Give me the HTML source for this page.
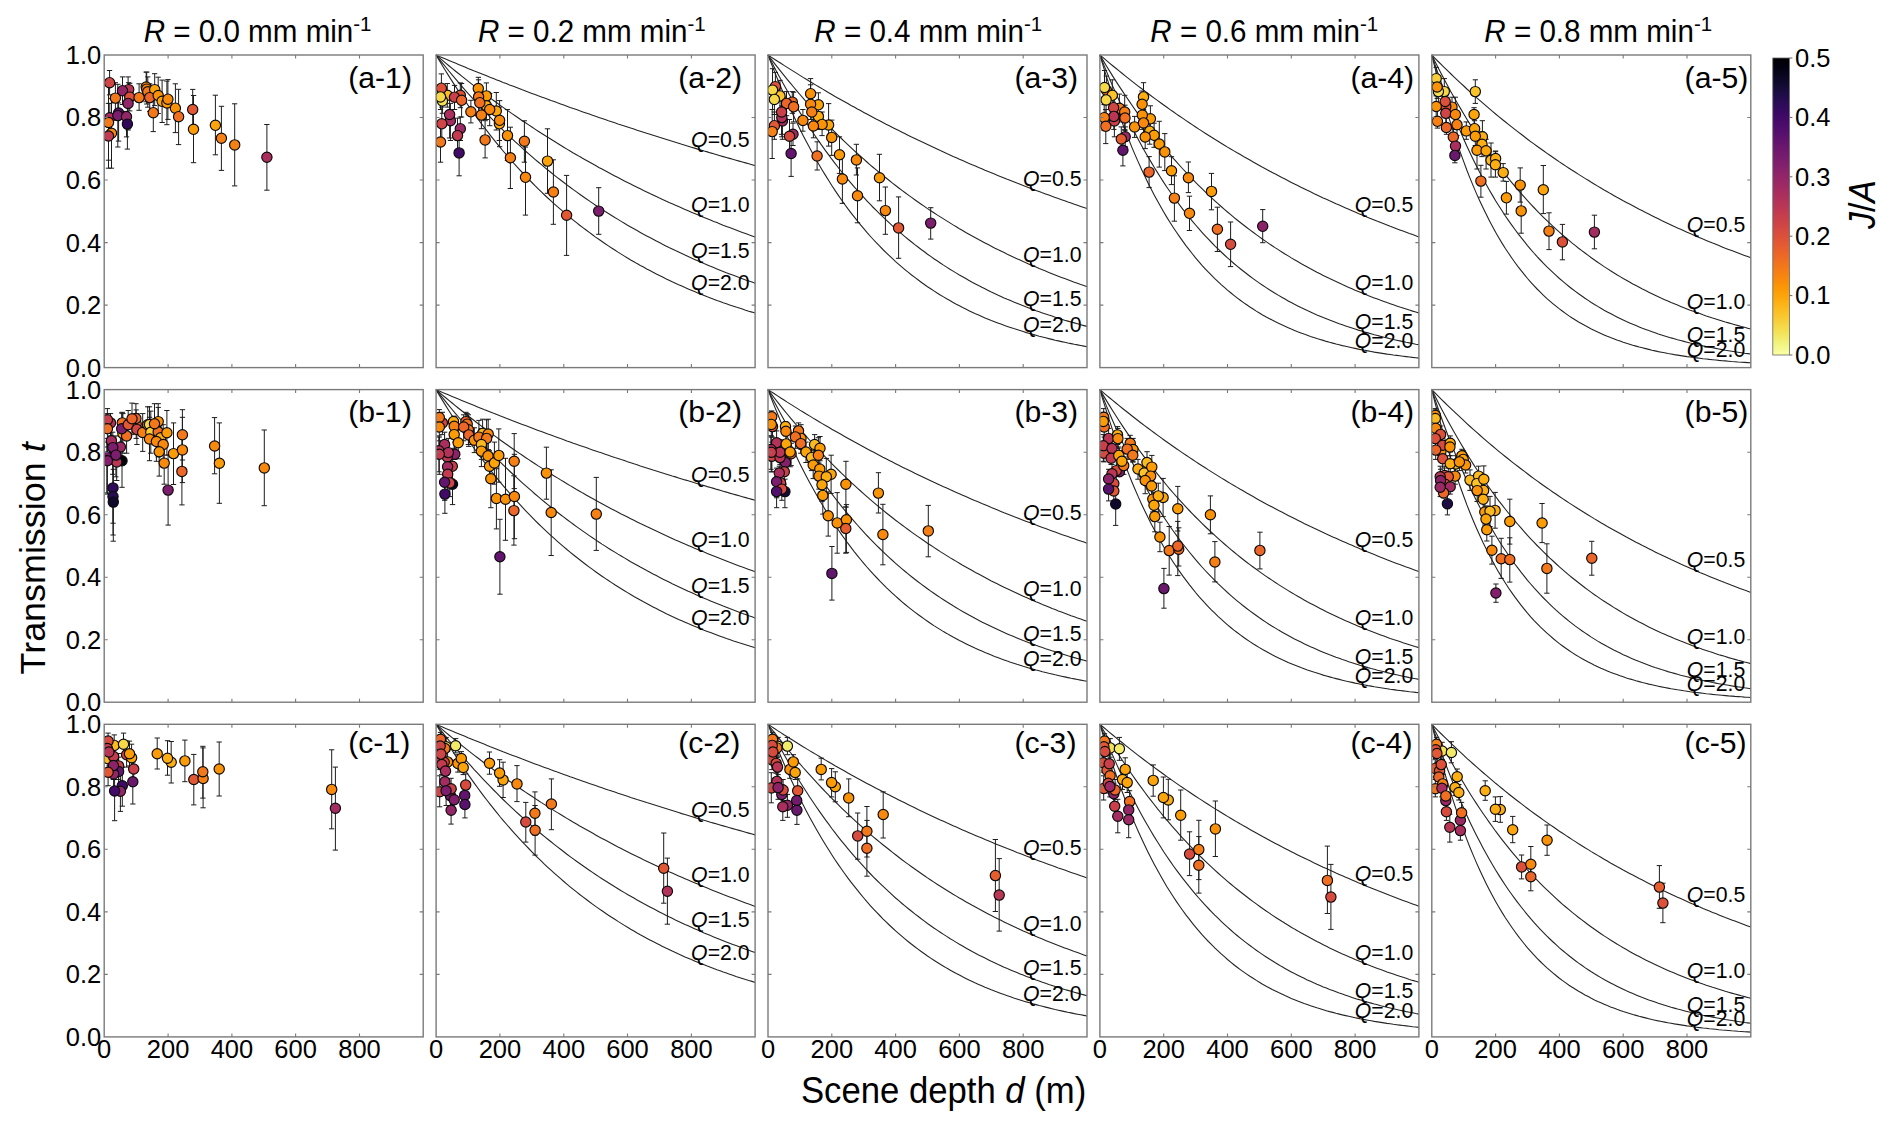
<!DOCTYPE html>
<html><head><meta charset="utf-8"><title>Transmission vs scene depth</title>
<style>html,body{margin:0;padding:0;background:#fff}svg{display:block}</style></head>
<body>
<svg width="1892" height="1130" viewBox="0 0 1892 1130" font-family='"Liberation Sans", Arial, Helvetica, sans-serif'>
<rect width="1892" height="1130" fill="#fff"/>
<g>
<clipPath id="cp00"><rect x="104.2" y="55.0" width="319.0" height="312.6"/></clipPath>
<g clip-path="url(#cp00)">
<path d="M111.5,98.7V168.2M108.8,98.7h5.3M108.8,168.2h5.3M109.8,103.4V132.1M107.1,103.4h5.3M107.1,132.1h5.3M109.6,70.5V94.9M106.9,70.5h5.3M106.9,94.9h5.3M108.5,84.9V160.2M105.8,84.9h5.3M105.8,160.2h5.3M108.5,103.4V168.2M105.8,103.4h5.3M105.8,168.2h5.3M115.4,82.7V113.5M112.7,82.7h5.3M112.7,113.5h5.3M128.7,82.7V96.5M126.0,82.7h5.3M126.0,96.5h5.3M122.5,76.9V104.5M119.9,76.9h5.3M119.9,104.5h5.3M129.7,83.3V110.9M127.1,83.3h5.3M127.1,110.9h5.3M128.1,76.9V130.0M125.5,76.9h5.3M125.5,130.0h5.3M118.6,102.9V141.1M115.9,102.9h5.3M115.9,141.1h5.3M117.8,84.3V147.0M115.2,84.3h5.3M115.2,147.0h5.3M126.5,111.4V136.9M123.9,111.4h5.3M123.9,136.9h5.3M127.4,99.2V149.1M124.7,99.2h5.3M124.7,149.1h5.3M139.1,83.8V110.3M136.4,83.8h5.3M136.4,110.3h5.3M146.2,72.1V101.8M143.5,72.1h5.3M143.5,101.8h5.3M146.7,72.1V104.0M144.1,72.1h5.3M144.1,104.0h5.3M147.8,76.9V107.2M145.1,76.9h5.3M145.1,107.2h5.3M154.7,73.7V105.6M152.0,73.7h5.3M152.0,105.6h5.3M149.7,83.8V111.4M147.0,83.8h5.3M147.0,111.4h5.3M158.2,77.2V113.5M155.5,77.2h5.3M155.5,113.5h5.3M153.3,93.9V131.6M150.6,93.9h5.3M150.6,131.6h5.3M162.1,80.1V122.5M159.5,80.1h5.3M159.5,122.5h5.3M166.9,81.1V124.7M164.2,81.1h5.3M164.2,124.7h5.3M167.9,79.6V119.4M165.3,79.6h5.3M165.3,119.4h5.3M175.4,83.8V132.6M172.7,83.8h5.3M172.7,132.6h5.3M178.6,89.3V144.6M175.9,89.3h5.3M175.9,144.6h5.3M192.7,89.4V129.8M190.1,89.4h5.3M190.1,129.8h5.3M193.5,95.5V162.7M190.9,95.5h5.3M190.9,162.7h5.3M215.4,95.2V154.8M212.7,95.2h5.3M212.7,154.8h5.3M221.4,106.3V170.4M218.8,106.3h5.3M218.8,170.4h5.3M234.7,103.8V185.9M232.0,103.8h5.3M232.0,185.9h5.3M266.9,124.5V190.2M264.2,124.5h5.3M264.2,190.2h5.3" fill="none" stroke="#1c1c1c" stroke-width="1.0"/>
<circle cx="111.5" cy="133.2" r="5.15" fill="#f8890c" stroke="#0a0a0a" stroke-width="1.15"/>
<circle cx="109.8" cy="117.8" r="5.15" fill="#ab2f5e" stroke="#0a0a0a" stroke-width="1.15"/>
<circle cx="109.6" cy="82.7" r="5.15" fill="#d04545" stroke="#0a0a0a" stroke-width="1.15"/>
<circle cx="108.5" cy="122.5" r="5.15" fill="#f37819" stroke="#0a0a0a" stroke-width="1.15"/>
<circle cx="108.5" cy="136.0" r="5.15" fill="#c33b4f" stroke="#0a0a0a" stroke-width="1.15"/>
<circle cx="115.4" cy="98.1" r="5.15" fill="#f37819" stroke="#0a0a0a" stroke-width="1.15"/>
<circle cx="128.7" cy="89.6" r="5.15" fill="#ba3655" stroke="#0a0a0a" stroke-width="1.15"/>
<circle cx="122.5" cy="90.7" r="5.15" fill="#932667" stroke="#0a0a0a" stroke-width="1.15"/>
<circle cx="129.7" cy="97.1" r="5.15" fill="#dd513a" stroke="#0a0a0a" stroke-width="1.15"/>
<circle cx="128.1" cy="103.4" r="5.15" fill="#932667" stroke="#0a0a0a" stroke-width="1.15"/>
<circle cx="118.6" cy="113.0" r="5.15" fill="#5a116e" stroke="#0a0a0a" stroke-width="1.15"/>
<circle cx="117.8" cy="115.6" r="5.15" fill="#7c1d6d" stroke="#0a0a0a" stroke-width="1.15"/>
<circle cx="126.5" cy="116.7" r="5.15" fill="#932667" stroke="#0a0a0a" stroke-width="1.15"/>
<circle cx="127.4" cy="124.1" r="5.15" fill="#2f0a5b" stroke="#0a0a0a" stroke-width="1.15"/>
<circle cx="139.1" cy="97.6" r="5.15" fill="#f37819" stroke="#0a0a0a" stroke-width="1.15"/>
<circle cx="146.2" cy="87.0" r="5.15" fill="#f8890c" stroke="#0a0a0a" stroke-width="1.15"/>
<circle cx="146.7" cy="89.1" r="5.15" fill="#f68013" stroke="#0a0a0a" stroke-width="1.15"/>
<circle cx="147.8" cy="91.8" r="5.15" fill="#f37819" stroke="#0a0a0a" stroke-width="1.15"/>
<circle cx="154.7" cy="89.6" r="5.15" fill="#fca50a" stroke="#0a0a0a" stroke-width="1.15"/>
<circle cx="149.7" cy="97.6" r="5.15" fill="#eb6628" stroke="#0a0a0a" stroke-width="1.15"/>
<circle cx="158.2" cy="95.5" r="5.15" fill="#fa9207" stroke="#0a0a0a" stroke-width="1.15"/>
<circle cx="153.3" cy="112.7" r="5.15" fill="#f37819" stroke="#0a0a0a" stroke-width="1.15"/>
<circle cx="162.1" cy="101.3" r="5.15" fill="#fca50a" stroke="#0a0a0a" stroke-width="1.15"/>
<circle cx="166.9" cy="102.9" r="5.15" fill="#fb9b06" stroke="#0a0a0a" stroke-width="1.15"/>
<circle cx="167.9" cy="99.2" r="5.15" fill="#f8890c" stroke="#0a0a0a" stroke-width="1.15"/>
<circle cx="175.4" cy="108.2" r="5.15" fill="#fa9207" stroke="#0a0a0a" stroke-width="1.15"/>
<circle cx="178.6" cy="116.7" r="5.15" fill="#f06f20" stroke="#0a0a0a" stroke-width="1.15"/>
<circle cx="192.7" cy="109.5" r="5.15" fill="#e25734" stroke="#0a0a0a" stroke-width="1.15"/>
<circle cx="193.5" cy="129.3" r="5.15" fill="#fb9b06" stroke="#0a0a0a" stroke-width="1.15"/>
<circle cx="215.4" cy="125.3" r="5.15" fill="#fca50a" stroke="#0a0a0a" stroke-width="1.15"/>
<circle cx="221.4" cy="138.2" r="5.15" fill="#f68013" stroke="#0a0a0a" stroke-width="1.15"/>
<circle cx="234.7" cy="144.9" r="5.15" fill="#f68013" stroke="#0a0a0a" stroke-width="1.15"/>
<circle cx="266.9" cy="157.2" r="5.15" fill="#ab2f5e" stroke="#0a0a0a" stroke-width="1.15"/>
</g>
<rect x="104.2" y="55.0" width="319.0" height="312.6" fill="none" stroke="#7a7a7a" stroke-width="1.4"/>
<path d="M168.1,367.6v-3.5M168.1,55.0v3.5M231.9,367.6v-3.5M231.9,55.0v3.5M295.6,367.6v-3.5M295.6,55.0v3.5M359.5,367.6v-3.5M359.5,55.0v3.5M104.2,305.1h3.5M423.2,305.1h-3.5M104.2,242.6h3.5M423.2,242.6h-3.5M104.2,180.0h3.5M423.2,180.0h-3.5M104.2,117.5h3.5M423.2,117.5h-3.5" fill="none" stroke="#7a7a7a" stroke-width="1.1"/>
<text transform="translate(348.2,87.7)" font-size="30.2" text-anchor="start">(a-1)</text>
</g>
<g>
<clipPath id="cp01"><rect x="436.1" y="55.0" width="319.0" height="312.6"/></clipPath>
<path d="M436.1,55.0 L439.3,56.4 L442.5,57.7 L445.7,59.1 L448.9,60.4 L452.1,61.8 L455.3,63.1 L458.5,64.4 L461.7,65.7 L464.9,67.0 L468.0,68.4 L471.2,69.7 L474.4,71.0 L477.6,72.2 L480.8,73.5 L484.0,74.8 L487.2,76.1 L490.4,77.4 L493.6,78.6 L496.8,79.9 L499.9,81.1 L503.1,82.4 L506.3,83.6 L509.5,84.9 L512.7,86.1 L515.9,87.3 L519.1,88.5 L522.3,89.8 L525.5,91.0 L528.7,92.2 L531.9,93.4 L535.0,94.6 L538.2,95.8 L541.4,96.9 L544.6,98.1 L547.8,99.3 L551.0,100.5 L554.2,101.6 L557.4,102.8 L560.6,103.9 L563.8,105.1 L566.9,106.2 L570.1,107.4 L573.3,108.5 L576.5,109.6 L579.7,110.8 L582.9,111.9 L586.1,113.0 L589.3,114.1 L592.5,115.2 L595.6,116.3 L598.8,117.4 L602.0,118.5 L605.2,119.6 L608.4,120.7 L611.6,121.7 L614.8,122.8 L618.0,123.9 L621.2,124.9 L624.4,126.0 L627.5,127.0 L630.7,128.1 L633.9,129.1 L637.1,130.2 L640.3,131.2 L643.5,132.2 L646.7,133.3 L649.9,134.3 L653.1,135.3 L656.3,136.3 L659.4,137.3 L662.6,138.3 L665.8,139.3 L669.0,140.3 L672.2,141.3 L675.4,142.3 L678.6,143.3 L681.8,144.3 L685.0,145.2 L688.2,146.2 L691.4,147.2 L694.5,148.1 L697.7,149.1 L700.9,150.0 L704.1,151.0 L707.3,151.9 L710.5,152.9 L713.7,153.8 L716.9,154.7 L720.1,155.7 L723.2,156.6 L726.4,157.5 L729.6,158.4 L732.8,159.3 L736.0,160.2 L739.2,161.1 L742.4,162.0 L745.6,162.9 L748.8,163.8 L752.0,164.7 L755.1,165.6" fill="none" stroke="#242424" stroke-width="1.1"/>
<path d="M436.1,55.0 L439.3,57.7 L442.5,60.4 L445.7,63.1 L448.9,65.7 L452.1,68.4 L455.3,71.0 L458.5,73.5 L461.7,76.1 L464.9,78.6 L468.0,81.1 L471.2,83.6 L474.4,86.1 L477.6,88.5 L480.8,91.0 L484.0,93.4 L487.2,95.8 L490.4,98.1 L493.6,100.5 L496.8,102.8 L499.9,105.1 L503.1,107.4 L506.3,109.6 L509.5,111.9 L512.7,114.1 L515.9,116.3 L519.1,118.5 L522.3,120.7 L525.5,122.8 L528.7,124.9 L531.9,127.0 L535.0,129.1 L538.2,131.2 L541.4,133.3 L544.6,135.3 L547.8,137.3 L551.0,139.3 L554.2,141.3 L557.4,143.3 L560.6,145.2 L563.8,147.2 L566.9,149.1 L570.1,151.0 L573.3,152.9 L576.5,154.7 L579.7,156.6 L582.9,158.4 L586.1,160.2 L589.3,162.0 L592.5,163.8 L595.6,165.6 L598.8,167.4 L602.0,169.1 L605.2,170.8 L608.4,172.5 L611.6,174.2 L614.8,175.9 L618.0,177.6 L621.2,179.2 L624.4,180.9 L627.5,182.5 L630.7,184.1 L633.9,185.7 L637.1,187.3 L640.3,188.8 L643.5,190.4 L646.7,191.9 L649.9,193.5 L653.1,195.0 L656.3,196.5 L659.4,198.0 L662.6,199.4 L665.8,200.9 L669.0,202.4 L672.2,203.8 L675.4,205.2 L678.6,206.6 L681.8,208.0 L685.0,209.4 L688.2,210.8 L691.4,212.2 L694.5,213.5 L697.7,214.8 L700.9,216.2 L704.1,217.5 L707.3,218.8 L710.5,220.1 L713.7,221.4 L716.9,222.6 L720.1,223.9 L723.2,225.2 L726.4,226.4 L729.6,227.6 L732.8,228.8 L736.0,230.0 L739.2,231.2 L742.4,232.4 L745.6,233.6 L748.8,234.8 L752.0,235.9 L755.1,237.1" fill="none" stroke="#242424" stroke-width="1.1"/>
<path d="M436.1,55.0 L439.3,59.1 L442.5,63.1 L445.7,67.0 L448.9,71.0 L452.1,74.8 L455.3,78.6 L458.5,82.4 L461.7,86.1 L464.9,89.8 L468.0,93.4 L471.2,96.9 L474.4,100.5 L477.6,103.9 L480.8,107.4 L484.0,110.8 L487.2,114.1 L490.4,117.4 L493.6,120.7 L496.8,123.9 L499.9,127.0 L503.1,130.2 L506.3,133.3 L509.5,136.3 L512.7,139.3 L515.9,142.3 L519.1,145.2 L522.3,148.1 L525.5,151.0 L528.7,153.8 L531.9,156.6 L535.0,159.3 L538.2,162.0 L541.4,164.7 L544.6,167.4 L547.8,170.0 L551.0,172.5 L554.2,175.1 L557.4,177.6 L560.6,180.0 L563.8,182.5 L566.9,184.9 L570.1,187.3 L573.3,189.6 L576.5,191.9 L579.7,194.2 L582.9,196.5 L586.1,198.7 L589.3,200.9 L592.5,203.1 L595.6,205.2 L598.8,207.3 L602.0,209.4 L605.2,211.5 L608.4,213.5 L611.6,215.5 L614.8,217.5 L618.0,219.4 L621.2,221.4 L624.4,223.3 L627.5,225.2 L630.7,227.0 L633.9,228.8 L637.1,230.6 L640.3,232.4 L643.5,234.2 L646.7,235.9 L649.9,237.6 L653.1,239.3 L656.3,241.0 L659.4,242.6 L662.6,244.3 L665.8,245.9 L669.0,247.5 L672.2,249.0 L675.4,250.6 L678.6,252.1 L681.8,253.6 L685.0,255.1 L688.2,256.5 L691.4,258.0 L694.5,259.4 L697.7,260.8 L700.9,262.2 L704.1,263.6 L707.3,264.9 L710.5,266.3 L713.7,267.6 L716.9,268.9 L720.1,270.2 L723.2,271.4 L726.4,272.7 L729.6,273.9 L732.8,275.1 L736.0,276.3 L739.2,277.5 L742.4,278.7 L745.6,279.9 L748.8,281.0 L752.0,282.1 L755.1,283.2" fill="none" stroke="#242424" stroke-width="1.1"/>
<path d="M436.1,55.0 L439.3,60.4 L442.5,65.7 L445.7,71.0 L448.9,76.1 L452.1,81.1 L455.3,86.1 L458.5,91.0 L461.7,95.8 L464.9,100.5 L468.0,105.1 L471.2,109.6 L474.4,114.1 L477.6,118.5 L480.8,122.8 L484.0,127.0 L487.2,131.2 L490.4,135.3 L493.6,139.3 L496.8,143.3 L499.9,147.2 L503.1,151.0 L506.3,154.7 L509.5,158.4 L512.7,162.0 L515.9,165.6 L519.1,169.1 L522.3,172.5 L525.5,175.9 L528.7,179.2 L531.9,182.5 L535.0,185.7 L538.2,188.8 L541.4,191.9 L544.6,195.0 L547.8,198.0 L551.0,200.9 L554.2,203.8 L557.4,206.6 L560.6,209.4 L563.8,212.2 L566.9,214.8 L570.1,217.5 L573.3,220.1 L576.5,222.6 L579.7,225.2 L582.9,227.6 L586.1,230.0 L589.3,232.4 L592.5,234.8 L595.6,237.1 L598.8,239.3 L602.0,241.5 L605.2,243.7 L608.4,245.9 L611.6,248.0 L614.8,250.0 L618.0,252.1 L621.2,254.1 L624.4,256.1 L627.5,258.0 L630.7,259.9 L633.9,261.7 L637.1,263.6 L640.3,265.4 L643.5,267.1 L646.7,268.9 L649.9,270.6 L653.1,272.3 L656.3,273.9 L659.4,275.5 L662.6,277.1 L665.8,278.7 L669.0,280.2 L672.2,281.8 L675.4,283.2 L678.6,284.7 L681.8,286.1 L685.0,287.6 L688.2,288.9 L691.4,290.3 L694.5,291.6 L697.7,293.0 L700.9,294.2 L704.1,295.5 L707.3,296.8 L710.5,298.0 L713.7,299.2 L716.9,300.4 L720.1,301.5 L723.2,302.7 L726.4,303.8 L729.6,304.9 L732.8,306.0 L736.0,307.1 L739.2,308.1 L742.4,309.1 L745.6,310.2 L748.8,311.2 L752.0,312.1 L755.1,313.1" fill="none" stroke="#242424" stroke-width="1.1"/>
<g clip-path="url(#cp01)">
<path d="M447.3,83.5V107.1M444.7,83.5h5.3M444.7,107.1h5.3M442.4,88.5V113.3M439.7,88.5h5.3M439.7,113.3h5.3M441.4,73.9V102.7M438.7,73.9h5.3M438.7,102.7h5.3M440.5,84.8V109.5M437.9,84.8h5.3M437.9,109.5h5.3M460.3,82.9V107.7M457.7,82.9h5.3M457.7,107.7h5.3M454.5,85.4V109.5M451.9,85.4h5.3M451.9,109.5h5.3M461.6,83.5V117.0M458.9,83.5h5.3M458.9,117.0h5.3M450.4,103.4V140.5M447.8,103.4h5.3M447.8,140.5h5.3M449.6,97.2V138.0M446.9,97.2h5.3M446.9,138.0h5.3M441.8,107.1V140.5M439.1,107.1h5.3M439.1,140.5h5.3M460.3,117.0V140.5M457.7,117.0h5.3M457.7,140.5h5.3M457.5,118.2V152.9M454.8,118.2h5.3M454.8,152.9h5.3M440.5,121.9V162.2M437.9,121.9h5.3M437.9,162.2h5.3M459.1,130.0V175.8M456.5,130.0h5.3M456.5,175.8h5.3M470.9,100.3V122.9M468.2,100.3h5.3M468.2,122.9h5.3M486.4,82.9V108.9M483.7,82.9h5.3M483.7,108.9h5.3M478.3,77.3V99.6M475.7,77.3h5.3M475.7,99.6h5.3M478.6,79.8V113.9M475.9,79.8h5.3M475.9,113.9h5.3M486.4,92.2V119.5M483.7,92.2h5.3M483.7,119.5h5.3M479.8,88.5V117.0M477.1,88.5h5.3M477.1,117.0h5.3M496.3,92.5V130.0M493.6,92.5h5.3M493.6,130.0h5.3M489.7,93.4V125.7M487.1,93.4h5.3M487.1,125.7h5.3M481.4,101.5V128.7M478.8,101.5h5.3M478.8,128.7h5.3M499.4,107.1V140.5M496.7,107.1h5.3M496.7,140.5h5.3M499.6,100.6V146.7M497.0,100.6h5.3M497.0,146.7h5.3M485.1,120.7V157.9M482.5,120.7h5.3M482.5,157.9h5.3M507.5,109.6V160.6M504.8,109.6h5.3M504.8,160.6h5.3M510.4,127.2V188.5M507.7,127.2h5.3M507.7,188.5h5.3M524.4,120.8V162.2M521.7,120.8h5.3M521.7,162.2h5.3M525.5,147.1V215.1M522.8,147.1h5.3M522.8,215.1h5.3M547.5,128.8V193.3M544.8,128.8h5.3M544.8,193.3h5.3M553.4,159.8V224.3M550.7,159.8h5.3M550.7,224.3h5.3M566.6,175.4V255.4M563.9,175.4h5.3M563.9,255.4h5.3M598.7,187.7V234.3M596.1,187.7h5.3M596.1,234.3h5.3" fill="none" stroke="#1c1c1c" stroke-width="1.0"/>
<circle cx="447.3" cy="95.3" r="5.15" fill="#fbba1f" stroke="#0a0a0a" stroke-width="1.15"/>
<circle cx="442.4" cy="100.9" r="5.15" fill="#f4e156" stroke="#0a0a0a" stroke-width="1.15"/>
<circle cx="441.4" cy="88.2" r="5.15" fill="#dd513a" stroke="#0a0a0a" stroke-width="1.15"/>
<circle cx="440.5" cy="96.9" r="5.15" fill="#f6d746" stroke="#0a0a0a" stroke-width="1.15"/>
<circle cx="460.3" cy="95.3" r="5.15" fill="#dd513a" stroke="#0a0a0a" stroke-width="1.15"/>
<circle cx="454.5" cy="97.2" r="5.15" fill="#ca404a" stroke="#0a0a0a" stroke-width="1.15"/>
<circle cx="461.6" cy="100.3" r="5.15" fill="#eb6628" stroke="#0a0a0a" stroke-width="1.15"/>
<circle cx="450.4" cy="120.7" r="5.15" fill="#a32c61" stroke="#0a0a0a" stroke-width="1.15"/>
<circle cx="449.6" cy="114.5" r="5.15" fill="#ab2f5e" stroke="#0a0a0a" stroke-width="1.15"/>
<circle cx="441.8" cy="123.8" r="5.15" fill="#d04545" stroke="#0a0a0a" stroke-width="1.15"/>
<circle cx="460.3" cy="128.7" r="5.15" fill="#9b2964" stroke="#0a0a0a" stroke-width="1.15"/>
<circle cx="457.5" cy="135.6" r="5.15" fill="#c33b4f" stroke="#0a0a0a" stroke-width="1.15"/>
<circle cx="440.5" cy="142.0" r="5.15" fill="#f37819" stroke="#0a0a0a" stroke-width="1.15"/>
<circle cx="459.1" cy="152.9" r="5.15" fill="#420a68" stroke="#0a0a0a" stroke-width="1.15"/>
<circle cx="470.9" cy="111.8" r="5.15" fill="#f68013" stroke="#0a0a0a" stroke-width="1.15"/>
<circle cx="486.4" cy="95.9" r="5.15" fill="#fb9b06" stroke="#0a0a0a" stroke-width="1.15"/>
<circle cx="478.3" cy="88.5" r="5.15" fill="#fa9207" stroke="#0a0a0a" stroke-width="1.15"/>
<circle cx="478.6" cy="96.9" r="5.15" fill="#f37819" stroke="#0a0a0a" stroke-width="1.15"/>
<circle cx="486.4" cy="105.8" r="5.15" fill="#fcae12" stroke="#0a0a0a" stroke-width="1.15"/>
<circle cx="479.8" cy="102.7" r="5.15" fill="#f06f20" stroke="#0a0a0a" stroke-width="1.15"/>
<circle cx="496.3" cy="111.0" r="5.15" fill="#fca50a" stroke="#0a0a0a" stroke-width="1.15"/>
<circle cx="489.7" cy="109.5" r="5.15" fill="#f8890c" stroke="#0a0a0a" stroke-width="1.15"/>
<circle cx="481.4" cy="115.1" r="5.15" fill="#f68013" stroke="#0a0a0a" stroke-width="1.15"/>
<circle cx="499.4" cy="123.8" r="5.15" fill="#fca50a" stroke="#0a0a0a" stroke-width="1.15"/>
<circle cx="499.6" cy="120.3" r="5.15" fill="#f8890c" stroke="#0a0a0a" stroke-width="1.15"/>
<circle cx="485.1" cy="139.9" r="5.15" fill="#f37819" stroke="#0a0a0a" stroke-width="1.15"/>
<circle cx="507.5" cy="135.6" r="5.15" fill="#fa9207" stroke="#0a0a0a" stroke-width="1.15"/>
<circle cx="510.4" cy="157.7" r="5.15" fill="#f68013" stroke="#0a0a0a" stroke-width="1.15"/>
<circle cx="524.4" cy="141.2" r="5.15" fill="#f37819" stroke="#0a0a0a" stroke-width="1.15"/>
<circle cx="525.5" cy="177.3" r="5.15" fill="#f8890c" stroke="#0a0a0a" stroke-width="1.15"/>
<circle cx="547.5" cy="161.1" r="5.15" fill="#fca50a" stroke="#0a0a0a" stroke-width="1.15"/>
<circle cx="553.4" cy="192.0" r="5.15" fill="#f68013" stroke="#0a0a0a" stroke-width="1.15"/>
<circle cx="566.6" cy="215.2" r="5.15" fill="#e25734" stroke="#0a0a0a" stroke-width="1.15"/>
<circle cx="598.7" cy="211.1" r="5.15" fill="#7c1d6d" stroke="#0a0a0a" stroke-width="1.15"/>
</g>
<rect x="436.1" y="55.0" width="319.0" height="312.6" fill="none" stroke="#7a7a7a" stroke-width="1.4"/>
<path d="M499.9,367.6v-3.5M499.9,55.0v3.5M563.8,367.6v-3.5M563.8,55.0v3.5M627.5,367.6v-3.5M627.5,55.0v3.5M691.4,367.6v-3.5M691.4,55.0v3.5M436.1,305.1h3.5M755.1,305.1h-3.5M436.1,242.6h3.5M755.1,242.6h-3.5M436.1,180.0h3.5M755.1,180.0h-3.5M436.1,117.5h3.5M755.1,117.5h-3.5" fill="none" stroke="#7a7a7a" stroke-width="1.1"/>
<text transform="translate(678.3,87.7)" font-size="30.2" text-anchor="start">(a-2)</text>
<text transform="translate(691.1,147.2) scale(1,1.07)" font-size="21.25" text-anchor="start"><tspan font-style="italic">Q</tspan>=0.5</text>
<text transform="translate(691.1,212.2) scale(1,1.07)" font-size="21.25" text-anchor="start"><tspan font-style="italic">Q</tspan>=1.0</text>
<text transform="translate(691.1,258.0) scale(1,1.07)" font-size="21.25" text-anchor="start"><tspan font-style="italic">Q</tspan>=1.5</text>
<text transform="translate(691.1,290.3) scale(1,1.07)" font-size="21.25" text-anchor="start"><tspan font-style="italic">Q</tspan>=2.0</text>
</g>
<g>
<clipPath id="cp02"><rect x="768.0" y="55.0" width="319.0" height="312.6"/></clipPath>
<path d="M768.0,55.0 L771.2,57.1 L774.4,59.2 L777.6,61.3 L780.8,63.3 L784.0,65.4 L787.2,67.4 L790.4,69.4 L793.6,71.4 L796.8,73.4 L799.9,75.4 L803.1,77.4 L806.3,79.3 L809.5,81.3 L812.7,83.2 L815.9,85.1 L819.1,87.0 L822.3,88.9 L825.5,90.8 L828.7,92.7 L831.8,94.5 L835.0,96.4 L838.2,98.2 L841.4,100.0 L844.6,101.8 L847.8,103.6 L851.0,105.4 L854.2,107.1 L857.4,108.9 L860.6,110.6 L863.8,112.4 L866.9,114.1 L870.1,115.8 L873.3,117.5 L876.5,119.2 L879.7,120.8 L882.9,122.5 L886.1,124.2 L889.3,125.8 L892.5,127.4 L895.6,129.0 L898.8,130.6 L902.0,132.2 L905.2,133.8 L908.4,135.4 L911.6,137.0 L914.8,138.5 L918.0,140.1 L921.2,141.6 L924.4,143.1 L927.5,144.6 L930.7,146.1 L933.9,147.6 L937.1,149.1 L940.3,150.6 L943.5,152.0 L946.7,153.5 L949.9,154.9 L953.1,156.4 L956.3,157.8 L959.4,159.2 L962.6,160.6 L965.8,162.0 L969.0,163.4 L972.2,164.8 L975.4,166.1 L978.6,167.5 L981.8,168.8 L985.0,170.2 L988.2,171.5 L991.3,172.8 L994.5,174.1 L997.7,175.4 L1000.9,176.7 L1004.1,178.0 L1007.3,179.3 L1010.5,180.5 L1013.7,181.8 L1016.9,183.1 L1020.1,184.3 L1023.2,185.5 L1026.4,186.8 L1029.6,188.0 L1032.8,189.2 L1036.0,190.4 L1039.2,191.6 L1042.4,192.8 L1045.6,193.9 L1048.8,195.1 L1052.0,196.3 L1055.2,197.4 L1058.3,198.6 L1061.5,199.7 L1064.7,200.8 L1067.9,202.0 L1071.1,203.1 L1074.3,204.2 L1077.5,205.3 L1080.7,206.4 L1083.9,207.5 L1087.0,208.6" fill="none" stroke="#242424" stroke-width="1.1"/>
<path d="M768.0,55.0 L771.2,59.2 L774.4,63.3 L777.6,67.4 L780.8,71.4 L784.0,75.4 L787.2,79.3 L790.4,83.2 L793.6,87.0 L796.8,90.8 L799.9,94.5 L803.1,98.2 L806.3,101.8 L809.5,105.4 L812.7,108.9 L815.9,112.4 L819.1,115.8 L822.3,119.2 L825.5,122.5 L828.7,125.8 L831.8,129.0 L835.0,132.2 L838.2,135.4 L841.4,138.5 L844.6,141.6 L847.8,144.6 L851.0,147.6 L854.2,150.6 L857.4,153.5 L860.6,156.4 L863.8,159.2 L866.9,162.0 L870.1,164.8 L873.3,167.5 L876.5,170.2 L879.7,172.8 L882.9,175.4 L886.1,178.0 L889.3,180.5 L892.5,183.1 L895.6,185.5 L898.8,188.0 L902.0,190.4 L905.2,192.8 L908.4,195.1 L911.6,197.4 L914.8,199.7 L918.0,202.0 L921.2,204.2 L924.4,206.4 L927.5,208.6 L930.7,210.7 L933.9,212.8 L937.1,214.9 L940.3,216.9 L943.5,218.9 L946.7,220.9 L949.9,222.9 L953.1,224.9 L956.3,226.8 L959.4,228.7 L962.6,230.5 L965.8,232.4 L969.0,234.2 L972.2,236.0 L975.4,237.7 L978.6,239.5 L981.8,241.2 L985.0,242.9 L988.2,244.6 L991.3,246.2 L994.5,247.9 L997.7,249.5 L1000.9,251.0 L1004.1,252.6 L1007.3,254.2 L1010.5,255.7 L1013.7,257.2 L1016.9,258.7 L1020.1,260.1 L1023.2,261.6 L1026.4,263.0 L1029.6,264.4 L1032.8,265.8 L1036.0,267.1 L1039.2,268.5 L1042.4,269.8 L1045.6,271.1 L1048.8,272.4 L1052.0,273.7 L1055.2,275.0 L1058.3,276.2 L1061.5,277.4 L1064.7,278.6 L1067.9,279.8 L1071.1,281.0 L1074.3,282.2 L1077.5,283.3 L1080.7,284.5 L1083.9,285.6 L1087.0,286.7" fill="none" stroke="#242424" stroke-width="1.1"/>
<path d="M768.0,55.0 L771.2,61.3 L774.4,67.4 L777.6,73.4 L780.8,79.3 L784.0,85.1 L787.2,90.8 L790.4,96.4 L793.6,101.8 L796.8,107.1 L799.9,112.4 L803.1,117.5 L806.3,122.5 L809.5,127.4 L812.7,132.2 L815.9,137.0 L819.1,141.6 L822.3,146.1 L825.5,150.6 L828.7,154.9 L831.8,159.2 L835.0,163.4 L838.2,167.5 L841.4,171.5 L844.6,175.4 L847.8,179.3 L851.0,183.1 L854.2,186.8 L857.4,190.4 L860.6,193.9 L863.8,197.4 L866.9,200.8 L870.1,204.2 L873.3,207.5 L876.5,210.7 L879.7,213.8 L882.9,216.9 L886.1,219.9 L889.3,222.9 L892.5,225.8 L895.6,228.7 L898.8,231.4 L902.0,234.2 L905.2,236.9 L908.4,239.5 L911.6,242.0 L914.8,244.6 L918.0,247.0 L921.2,249.5 L924.4,251.8 L927.5,254.2 L930.7,256.4 L933.9,258.7 L937.1,260.8 L940.3,263.0 L943.5,265.1 L946.7,267.1 L949.9,269.2 L953.1,271.1 L956.3,273.1 L959.4,275.0 L962.6,276.8 L965.8,278.6 L969.0,280.4 L972.2,282.2 L975.4,283.9 L978.6,285.6 L981.8,287.2 L985.0,288.8 L988.2,290.4 L991.3,292.0 L994.5,293.5 L997.7,295.0 L1000.9,296.4 L1004.1,297.9 L1007.3,299.3 L1010.5,300.6 L1013.7,302.0 L1016.9,303.3 L1020.1,304.6 L1023.2,305.8 L1026.4,307.1 L1029.6,308.3 L1032.8,309.5 L1036.0,310.7 L1039.2,311.8 L1042.4,312.9 L1045.6,314.0 L1048.8,315.1 L1052.0,316.1 L1055.2,317.2 L1058.3,318.2 L1061.5,319.2 L1064.7,320.2 L1067.9,321.1 L1071.1,322.0 L1074.3,322.9 L1077.5,323.8 L1080.7,324.7 L1083.9,325.6 L1087.0,326.4" fill="none" stroke="#242424" stroke-width="1.1"/>
<path d="M768.0,55.0 L771.2,63.3 L774.4,71.4 L777.6,79.3 L780.8,87.0 L784.0,94.5 L787.2,101.8 L790.4,108.9 L793.6,115.8 L796.8,122.5 L799.9,129.0 L803.1,135.4 L806.3,141.6 L809.5,147.6 L812.7,153.5 L815.9,159.2 L819.1,164.8 L822.3,170.2 L825.5,175.4 L828.7,180.5 L831.8,185.5 L835.0,190.4 L838.2,195.1 L841.4,199.7 L844.6,204.2 L847.8,208.6 L851.0,212.8 L854.2,216.9 L857.4,220.9 L860.6,224.9 L863.8,228.7 L866.9,232.4 L870.1,236.0 L873.3,239.5 L876.5,242.9 L879.7,246.2 L882.9,249.5 L886.1,252.6 L889.3,255.7 L892.5,258.7 L895.6,261.6 L898.8,264.4 L902.0,267.1 L905.2,269.8 L908.4,272.4 L911.6,275.0 L914.8,277.4 L918.0,279.8 L921.2,282.2 L924.4,284.5 L927.5,286.7 L930.7,288.8 L933.9,290.9 L937.1,293.0 L940.3,295.0 L943.5,296.9 L946.7,298.8 L949.9,300.6 L953.1,302.4 L956.3,304.2 L959.4,305.8 L962.6,307.5 L965.8,309.1 L969.0,310.7 L972.2,312.2 L975.4,313.7 L978.6,315.1 L981.8,316.5 L985.0,317.9 L988.2,319.2 L991.3,320.5 L994.5,321.7 L997.7,322.9 L1000.9,324.1 L1004.1,325.3 L1007.3,326.4 L1010.5,327.5 L1013.7,328.6 L1016.9,329.6 L1020.1,330.6 L1023.2,331.6 L1026.4,332.6 L1029.6,333.5 L1032.8,334.4 L1036.0,335.3 L1039.2,336.2 L1042.4,337.0 L1045.6,337.8 L1048.8,338.6 L1052.0,339.4 L1055.2,340.2 L1058.3,340.9 L1061.5,341.6 L1064.7,342.3 L1067.9,343.0 L1071.1,343.6 L1074.3,344.3 L1077.5,344.9 L1080.7,345.5 L1083.9,346.1 L1087.0,346.7" fill="none" stroke="#242424" stroke-width="1.1"/>
<g clip-path="url(#cp02)">
<path d="M775.4,72.4V100.9M772.7,72.4h5.3M772.7,100.9h5.3M780.0,80.4V109.5M777.3,80.4h5.3M777.3,109.5h5.3M772.5,68.7V109.5M769.9,68.7h5.3M769.9,109.5h5.3M774.4,84.8V114.5M771.7,84.8h5.3M771.7,114.5h5.3M792.3,91.6V113.3M789.7,91.6h5.3M789.7,113.3h5.3M786.5,91.6V115.7M783.9,91.6h5.3M783.9,115.7h5.3M793.6,92.2V121.9M790.9,92.2h5.3M790.9,121.9h5.3M782.4,107.1V139.3M779.8,107.1h5.3M779.8,139.3h5.3M781.8,105.8V136.8M779.2,105.8h5.3M779.2,136.8h5.3M781.6,100.9V134.3M778.9,100.9h5.3M778.9,134.3h5.3M774.4,112.0V139.3M771.7,112.0h5.3M771.7,139.3h5.3M772.2,109.5V158.5M769.5,109.5h5.3M769.5,158.5h5.3M793.0,123.2V145.5M790.3,123.2h5.3M790.3,145.5h5.3M789.5,119.5V152.9M786.8,119.5h5.3M786.8,152.9h5.3M791.1,134.3V176.4M788.5,134.3h5.3M788.5,176.4h5.3M802.9,109.5V131.2M800.2,109.5h5.3M800.2,131.2h5.3M818.4,92.8V117.0M815.7,92.8h5.3M815.7,117.0h5.3M810.6,78.6V108.3M807.9,78.6h5.3M807.9,108.3h5.3M810.6,84.8V119.5M807.9,84.8h5.3M807.9,119.5h5.3M818.4,103.4V129.4M815.7,103.4h5.3M815.7,129.4h5.3M811.8,97.2V126.9M809.1,97.2h5.3M809.1,126.9h5.3M828.6,103.6V146.1M826.0,103.6h5.3M826.0,146.1h5.3M822.1,112.0V135.6M819.4,112.0h5.3M819.4,135.6h5.3M813.4,114.5V137.8M810.8,114.5h5.3M810.8,137.8h5.3M831.7,120.1V155.4M829.1,120.1h5.3M829.1,155.4h5.3M817.1,141.8V170.0M814.5,141.8h5.3M814.5,170.0h5.3M839.5,136.8V173.4M836.8,136.8h5.3M836.8,173.4h5.3M842.4,155.9V203.4M839.7,155.9h5.3M839.7,203.4h5.3M856.4,144.3V175.0M853.7,144.3h5.3M853.7,175.0h5.3M857.5,167.9V222.8M854.8,167.9h5.3M854.8,222.8h5.3M879.5,154.3V200.8M876.8,154.3h5.3M876.8,200.8h5.3M885.4,187.0V234.3M882.7,187.0h5.3M882.7,234.3h5.3M898.6,196.9V258.3M895.9,196.9h5.3M895.9,258.3h5.3M930.7,207.7V239.1M928.1,207.7h5.3M928.1,239.1h5.3" fill="none" stroke="#1c1c1c" stroke-width="1.0"/>
<circle cx="775.4" cy="86.6" r="5.15" fill="#dd513a" stroke="#0a0a0a" stroke-width="1.15"/>
<circle cx="780.0" cy="95.9" r="5.15" fill="#fac42a" stroke="#0a0a0a" stroke-width="1.15"/>
<circle cx="772.5" cy="90.1" r="5.15" fill="#f6d746" stroke="#0a0a0a" stroke-width="1.15"/>
<circle cx="774.4" cy="99.4" r="5.15" fill="#f6d746" stroke="#0a0a0a" stroke-width="1.15"/>
<circle cx="792.3" cy="102.1" r="5.15" fill="#eb6628" stroke="#0a0a0a" stroke-width="1.15"/>
<circle cx="786.5" cy="103.4" r="5.15" fill="#eb6628" stroke="#0a0a0a" stroke-width="1.15"/>
<circle cx="793.6" cy="106.8" r="5.15" fill="#f06f20" stroke="#0a0a0a" stroke-width="1.15"/>
<circle cx="782.4" cy="120.9" r="5.15" fill="#a32c61" stroke="#0a0a0a" stroke-width="1.15"/>
<circle cx="781.8" cy="117.6" r="5.15" fill="#b3325a" stroke="#0a0a0a" stroke-width="1.15"/>
<circle cx="781.6" cy="112.0" r="5.15" fill="#ca404a" stroke="#0a0a0a" stroke-width="1.15"/>
<circle cx="774.4" cy="125.7" r="5.15" fill="#e25734" stroke="#0a0a0a" stroke-width="1.15"/>
<circle cx="772.2" cy="131.6" r="5.15" fill="#f68013" stroke="#0a0a0a" stroke-width="1.15"/>
<circle cx="793.0" cy="134.3" r="5.15" fill="#9b2964" stroke="#0a0a0a" stroke-width="1.15"/>
<circle cx="789.5" cy="136.2" r="5.15" fill="#d74b3f" stroke="#0a0a0a" stroke-width="1.15"/>
<circle cx="791.1" cy="153.5" r="5.15" fill="#62146e" stroke="#0a0a0a" stroke-width="1.15"/>
<circle cx="802.9" cy="120.4" r="5.15" fill="#f8890c" stroke="#0a0a0a" stroke-width="1.15"/>
<circle cx="818.4" cy="104.8" r="5.15" fill="#fca50a" stroke="#0a0a0a" stroke-width="1.15"/>
<circle cx="810.6" cy="93.7" r="5.15" fill="#fa9207" stroke="#0a0a0a" stroke-width="1.15"/>
<circle cx="810.6" cy="104.3" r="5.15" fill="#f8890c" stroke="#0a0a0a" stroke-width="1.15"/>
<circle cx="818.4" cy="116.4" r="5.15" fill="#fcae12" stroke="#0a0a0a" stroke-width="1.15"/>
<circle cx="811.8" cy="112.0" r="5.15" fill="#f68013" stroke="#0a0a0a" stroke-width="1.15"/>
<circle cx="828.6" cy="125.0" r="5.15" fill="#fca50a" stroke="#0a0a0a" stroke-width="1.15"/>
<circle cx="822.1" cy="124.4" r="5.15" fill="#fa9207" stroke="#0a0a0a" stroke-width="1.15"/>
<circle cx="813.4" cy="126.0" r="5.15" fill="#f8890c" stroke="#0a0a0a" stroke-width="1.15"/>
<circle cx="831.7" cy="137.4" r="5.15" fill="#fa9207" stroke="#0a0a0a" stroke-width="1.15"/>
<circle cx="817.1" cy="156.0" r="5.15" fill="#f06f20" stroke="#0a0a0a" stroke-width="1.15"/>
<circle cx="839.5" cy="154.7" r="5.15" fill="#fb9b06" stroke="#0a0a0a" stroke-width="1.15"/>
<circle cx="842.4" cy="179.0" r="5.15" fill="#f8890c" stroke="#0a0a0a" stroke-width="1.15"/>
<circle cx="856.4" cy="159.9" r="5.15" fill="#f8890c" stroke="#0a0a0a" stroke-width="1.15"/>
<circle cx="857.5" cy="195.7" r="5.15" fill="#f8890c" stroke="#0a0a0a" stroke-width="1.15"/>
<circle cx="879.5" cy="177.7" r="5.15" fill="#fb9b06" stroke="#0a0a0a" stroke-width="1.15"/>
<circle cx="885.4" cy="210.6" r="5.15" fill="#f8890c" stroke="#0a0a0a" stroke-width="1.15"/>
<circle cx="898.6" cy="227.9" r="5.15" fill="#e25734" stroke="#0a0a0a" stroke-width="1.15"/>
<circle cx="930.7" cy="223.1" r="5.15" fill="#7c1d6d" stroke="#0a0a0a" stroke-width="1.15"/>
</g>
<rect x="768.0" y="55.0" width="319.0" height="312.6" fill="none" stroke="#7a7a7a" stroke-width="1.4"/>
<path d="M831.8,367.6v-3.5M831.8,55.0v3.5M895.6,367.6v-3.5M895.6,55.0v3.5M959.4,367.6v-3.5M959.4,55.0v3.5M1023.2,367.6v-3.5M1023.2,55.0v3.5M768.0,305.1h3.5M1087.0,305.1h-3.5M768.0,242.6h3.5M1087.0,242.6h-3.5M768.0,180.0h3.5M1087.0,180.0h-3.5M768.0,117.5h3.5M1087.0,117.5h-3.5" fill="none" stroke="#7a7a7a" stroke-width="1.1"/>
<text transform="translate(1014.4,87.7)" font-size="30.2" text-anchor="start">(a-3)</text>
<text transform="translate(1023.0,185.5) scale(1,1.07)" font-size="21.25" text-anchor="start"><tspan font-style="italic">Q</tspan>=0.5</text>
<text transform="translate(1023.0,261.6) scale(1,1.07)" font-size="21.25" text-anchor="start"><tspan font-style="italic">Q</tspan>=1.0</text>
<text transform="translate(1023.0,305.8) scale(1,1.07)" font-size="21.25" text-anchor="start"><tspan font-style="italic">Q</tspan>=1.5</text>
<text transform="translate(1023.0,331.6) scale(1,1.07)" font-size="21.25" text-anchor="start"><tspan font-style="italic">Q</tspan>=2.0</text>
</g>
<g>
<clipPath id="cp03"><rect x="1099.9" y="55.0" width="319.0" height="312.6"/></clipPath>
<path d="M1099.9,55.0 L1103.1,57.7 L1106.3,60.4 L1109.5,63.1 L1112.7,65.7 L1115.9,68.3 L1119.1,70.9 L1122.3,73.5 L1125.5,76.1 L1128.7,78.6 L1131.8,81.1 L1135.0,83.6 L1138.2,86.1 L1141.4,88.5 L1144.6,90.9 L1147.8,93.3 L1151.0,95.7 L1154.2,98.1 L1157.4,100.4 L1160.6,102.7 L1163.7,105.0 L1166.9,107.3 L1170.1,109.6 L1173.3,111.8 L1176.5,114.1 L1179.7,116.3 L1182.9,118.4 L1186.1,120.6 L1189.3,122.7 L1192.5,124.9 L1195.6,127.0 L1198.8,129.1 L1202.0,131.1 L1205.2,133.2 L1208.4,135.2 L1211.6,137.3 L1214.8,139.3 L1218.0,141.2 L1221.2,143.2 L1224.4,145.2 L1227.5,147.1 L1230.7,149.0 L1233.9,150.9 L1237.1,152.8 L1240.3,154.6 L1243.5,156.5 L1246.7,158.3 L1249.9,160.1 L1253.1,161.9 L1256.3,163.7 L1259.4,165.5 L1262.6,167.3 L1265.8,169.0 L1269.0,170.7 L1272.2,172.4 L1275.4,174.1 L1278.6,175.8 L1281.8,177.5 L1285.0,179.1 L1288.2,180.8 L1291.3,182.4 L1294.5,184.0 L1297.7,185.6 L1300.9,187.2 L1304.1,188.7 L1307.3,190.3 L1310.5,191.8 L1313.7,193.4 L1316.9,194.9 L1320.1,196.4 L1323.2,197.9 L1326.4,199.3 L1329.6,200.8 L1332.8,202.2 L1336.0,203.7 L1339.2,205.1 L1342.4,206.5 L1345.6,207.9 L1348.8,209.3 L1352.0,210.7 L1355.1,212.0 L1358.3,213.4 L1361.5,214.7 L1364.7,216.1 L1367.9,217.4 L1371.1,218.7 L1374.3,220.0 L1377.5,221.3 L1380.7,222.5 L1383.9,223.8 L1387.0,225.0 L1390.2,226.3 L1393.4,227.5 L1396.6,228.7 L1399.8,229.9 L1403.0,231.1 L1406.2,232.3 L1409.4,233.5 L1412.6,234.6 L1415.8,235.8 L1418.9,236.9" fill="none" stroke="#242424" stroke-width="1.1"/>
<path d="M1099.9,55.0 L1103.1,60.4 L1106.3,65.7 L1109.5,70.9 L1112.7,76.1 L1115.9,81.1 L1119.1,86.1 L1122.3,90.9 L1125.5,95.7 L1128.7,100.4 L1131.8,105.0 L1135.0,109.6 L1138.2,114.1 L1141.4,118.4 L1144.6,122.7 L1147.8,127.0 L1151.0,131.1 L1154.2,135.2 L1157.4,139.3 L1160.6,143.2 L1163.7,147.1 L1166.9,150.9 L1170.1,154.6 L1173.3,158.3 L1176.5,161.9 L1179.7,165.5 L1182.9,169.0 L1186.1,172.4 L1189.3,175.8 L1192.5,179.1 L1195.6,182.4 L1198.8,185.6 L1202.0,188.7 L1205.2,191.8 L1208.4,194.9 L1211.6,197.9 L1214.8,200.8 L1218.0,203.7 L1221.2,206.5 L1224.4,209.3 L1227.5,212.0 L1230.7,214.7 L1233.9,217.4 L1237.1,220.0 L1240.3,222.5 L1243.5,225.0 L1246.7,227.5 L1249.9,229.9 L1253.1,232.3 L1256.3,234.6 L1259.4,236.9 L1262.6,239.2 L1265.8,241.4 L1269.0,243.6 L1272.2,245.8 L1275.4,247.9 L1278.6,249.9 L1281.8,252.0 L1285.0,254.0 L1288.2,255.9 L1291.3,257.9 L1294.5,259.8 L1297.7,261.6 L1300.9,263.5 L1304.1,265.3 L1307.3,267.0 L1310.5,268.8 L1313.7,270.5 L1316.9,272.2 L1320.1,273.8 L1323.2,275.4 L1326.4,277.0 L1329.6,278.6 L1332.8,280.1 L1336.0,281.6 L1339.2,283.1 L1342.4,284.6 L1345.6,286.0 L1348.8,287.4 L1352.0,288.8 L1355.1,290.2 L1358.3,291.5 L1361.5,292.8 L1364.7,294.1 L1367.9,295.4 L1371.1,296.7 L1374.3,297.9 L1377.5,299.1 L1380.7,300.3 L1383.9,301.4 L1387.0,302.6 L1390.2,303.7 L1393.4,304.8 L1396.6,305.9 L1399.8,307.0 L1403.0,308.0 L1406.2,309.0 L1409.4,310.1 L1412.6,311.1 L1415.8,312.0 L1418.9,313.0" fill="none" stroke="#242424" stroke-width="1.1"/>
<path d="M1099.9,55.0 L1103.1,63.1 L1106.3,70.9 L1109.5,78.6 L1112.7,86.1 L1115.9,93.3 L1119.1,100.4 L1122.3,107.3 L1125.5,114.1 L1128.7,120.6 L1131.8,127.0 L1135.0,133.2 L1138.2,139.3 L1141.4,145.2 L1144.6,150.9 L1147.8,156.5 L1151.0,161.9 L1154.2,167.3 L1157.4,172.4 L1160.6,177.5 L1163.7,182.4 L1166.9,187.2 L1170.1,191.8 L1173.3,196.4 L1176.5,200.8 L1179.7,205.1 L1182.9,209.3 L1186.1,213.4 L1189.3,217.4 L1192.5,221.3 L1195.6,225.0 L1198.8,228.7 L1202.0,232.3 L1205.2,235.8 L1208.4,239.2 L1211.6,242.5 L1214.8,245.8 L1218.0,248.9 L1221.2,252.0 L1224.4,255.0 L1227.5,257.9 L1230.7,260.7 L1233.9,263.5 L1237.1,266.2 L1240.3,268.8 L1243.5,271.3 L1246.7,273.8 L1249.9,276.2 L1253.1,278.6 L1256.3,280.9 L1259.4,283.1 L1262.6,285.3 L1265.8,287.4 L1269.0,289.5 L1272.2,291.5 L1275.4,293.5 L1278.6,295.4 L1281.8,297.3 L1285.0,299.1 L1288.2,300.9 L1291.3,302.6 L1294.5,304.3 L1297.7,305.9 L1300.9,307.5 L1304.1,309.0 L1307.3,310.6 L1310.5,312.0 L1313.7,313.5 L1316.9,314.9 L1320.1,316.2 L1323.2,317.6 L1326.4,318.8 L1329.6,320.1 L1332.8,321.3 L1336.0,322.5 L1339.2,323.7 L1342.4,324.8 L1345.6,325.9 L1348.8,327.0 L1352.0,328.1 L1355.1,329.1 L1358.3,330.1 L1361.5,331.0 L1364.7,332.0 L1367.9,332.9 L1371.1,333.8 L1374.3,334.7 L1377.5,335.5 L1380.7,336.4 L1383.9,337.2 L1387.0,337.9 L1390.2,338.7 L1393.4,339.5 L1396.6,340.2 L1399.8,340.9 L1403.0,341.6 L1406.2,342.3 L1409.4,342.9 L1412.6,343.5 L1415.8,344.2 L1418.9,344.8" fill="none" stroke="#242424" stroke-width="1.1"/>
<path d="M1099.9,55.0 L1103.1,65.7 L1106.3,76.1 L1109.5,86.1 L1112.7,95.7 L1115.9,105.0 L1119.1,114.1 L1122.3,122.7 L1125.5,131.1 L1128.7,139.3 L1131.8,147.1 L1135.0,154.6 L1138.2,161.9 L1141.4,169.0 L1144.6,175.8 L1147.8,182.4 L1151.0,188.7 L1154.2,194.9 L1157.4,200.8 L1160.6,206.5 L1163.7,212.0 L1166.9,217.4 L1170.1,222.5 L1173.3,227.5 L1176.5,232.3 L1179.7,236.9 L1182.9,241.4 L1186.1,245.8 L1189.3,249.9 L1192.5,254.0 L1195.6,257.9 L1198.8,261.6 L1202.0,265.3 L1205.2,268.8 L1208.4,272.2 L1211.6,275.4 L1214.8,278.6 L1218.0,281.6 L1221.2,284.6 L1224.4,287.4 L1227.5,290.2 L1230.7,292.8 L1233.9,295.4 L1237.1,297.9 L1240.3,300.3 L1243.5,302.6 L1246.7,304.8 L1249.9,307.0 L1253.1,309.0 L1256.3,311.1 L1259.4,313.0 L1262.6,314.9 L1265.8,316.7 L1269.0,318.4 L1272.2,320.1 L1275.4,321.7 L1278.6,323.3 L1281.8,324.8 L1285.0,326.3 L1288.2,327.7 L1291.3,329.1 L1294.5,330.4 L1297.7,331.7 L1300.9,332.9 L1304.1,334.1 L1307.3,335.2 L1310.5,336.4 L1313.7,337.4 L1316.9,338.5 L1320.1,339.5 L1323.2,340.4 L1326.4,341.4 L1329.6,342.3 L1332.8,343.1 L1336.0,344.0 L1339.2,344.8 L1342.4,345.6 L1345.6,346.3 L1348.8,347.0 L1352.0,347.7 L1355.1,348.4 L1358.3,349.1 L1361.5,349.7 L1364.7,350.3 L1367.9,350.9 L1371.1,351.5 L1374.3,352.1 L1377.5,352.6 L1380.7,353.1 L1383.9,353.6 L1387.0,354.1 L1390.2,354.5 L1393.4,355.0 L1396.6,355.4 L1399.8,355.8 L1403.0,356.2 L1406.2,356.6 L1409.4,357.0 L1412.6,357.4 L1415.8,357.7 L1418.9,358.1" fill="none" stroke="#242424" stroke-width="1.1"/>
<g clip-path="url(#cp03)">
<path d="M1106.4,76.1V104.6M1103.7,76.1h5.3M1103.7,104.6h5.3M1112.3,79.8V109.5M1109.7,79.8h5.3M1109.7,109.5h5.3M1104.5,70.5V104.6M1101.9,70.5h5.3M1101.9,104.6h5.3M1106.1,84.8V114.5M1103.5,84.8h5.3M1103.5,114.5h5.3M1119.4,94.1V121.9M1116.7,94.1h5.3M1116.7,121.9h5.3M1113.6,95.9V119.5M1110.9,95.9h5.3M1110.9,119.5h5.3M1124.7,95.3V129.4M1122.1,95.3h5.3M1122.1,129.4h5.3M1125.0,105.2V130.6M1122.3,105.2h5.3M1122.3,130.6h5.3M1114.4,107.1V136.8M1111.8,107.1h5.3M1111.8,136.8h5.3M1113.8,104.6V129.4M1111.2,104.6h5.3M1111.2,129.4h5.3M1104.2,104.6V130.6M1101.5,104.6h5.3M1101.5,130.6h5.3M1105.8,109.5V143.6M1103.1,109.5h5.3M1103.1,143.6h5.3M1125.2,126.9V146.7M1122.6,126.9h5.3M1122.6,146.7h5.3M1121.3,126.9V151.7M1118.6,126.9h5.3M1118.6,151.7h5.3M1122.9,134.3V165.9M1120.2,134.3h5.3M1120.2,165.9h5.3M1134.6,116.4V137.4M1132.0,116.4h5.3M1132.0,137.4h5.3M1143.5,82.7V110.8M1140.9,82.7h5.3M1140.9,110.8h5.3M1142.1,91.0V118.2M1139.4,91.0h5.3M1139.4,118.2h5.3M1150.4,105.8V131.8M1147.7,105.8h5.3M1147.7,131.8h5.3M1142.3,100.9V129.4M1139.7,100.9h5.3M1139.7,129.4h5.3M1143.5,109.5V136.8M1140.9,109.5h5.3M1140.9,136.8h5.3M1149.7,118.2V144.2M1147.1,118.2h5.3M1147.1,144.2h5.3M1154.1,123.2V147.3M1151.4,123.2h5.3M1151.4,147.3h5.3M1145.2,125.7V148.6M1142.5,125.7h5.3M1142.5,148.6h5.3M1159.3,121.3V167.1M1156.6,121.3h5.3M1156.6,167.1h5.3M1149.1,156.6V187.6M1146.5,156.6h5.3M1146.5,187.6h5.3M1164.8,133.6V170.6M1162.1,133.6h5.3M1162.1,170.6h5.3M1171.5,156.7V184.6M1168.8,156.7h5.3M1168.8,184.6h5.3M1174.4,175.8V221.2M1171.7,175.8h5.3M1171.7,221.2h5.3M1188.4,162.0V192.6M1185.7,162.0h5.3M1185.7,192.6h5.3M1189.5,196.2V230.5M1186.8,196.2h5.3M1186.8,230.5h5.3M1211.5,173.4V209.8M1208.8,173.4h5.3M1208.8,209.8h5.3M1217.4,207.2V251.5M1214.7,207.2h5.3M1214.7,251.5h5.3M1230.6,222.0V266.6M1227.9,222.0h5.3M1227.9,266.6h5.3M1262.7,209.6V242.7M1260.1,209.6h5.3M1260.1,242.7h5.3" fill="none" stroke="#1c1c1c" stroke-width="1.0"/>
<circle cx="1106.4" cy="90.3" r="5.15" fill="#f06f20" stroke="#0a0a0a" stroke-width="1.15"/>
<circle cx="1112.3" cy="95.3" r="5.15" fill="#fac42a" stroke="#0a0a0a" stroke-width="1.15"/>
<circle cx="1104.5" cy="87.5" r="5.15" fill="#f6d746" stroke="#0a0a0a" stroke-width="1.15"/>
<circle cx="1106.1" cy="99.9" r="5.15" fill="#f6d746" stroke="#0a0a0a" stroke-width="1.15"/>
<circle cx="1119.4" cy="108.3" r="5.15" fill="#f68013" stroke="#0a0a0a" stroke-width="1.15"/>
<circle cx="1113.6" cy="107.7" r="5.15" fill="#d04545" stroke="#0a0a0a" stroke-width="1.15"/>
<circle cx="1124.7" cy="112.0" r="5.15" fill="#f68013" stroke="#0a0a0a" stroke-width="1.15"/>
<circle cx="1125.0" cy="118.0" r="5.15" fill="#f06f20" stroke="#0a0a0a" stroke-width="1.15"/>
<circle cx="1114.4" cy="120.9" r="5.15" fill="#ca404a" stroke="#0a0a0a" stroke-width="1.15"/>
<circle cx="1113.8" cy="116.4" r="5.15" fill="#ba3655" stroke="#0a0a0a" stroke-width="1.15"/>
<circle cx="1104.2" cy="117.6" r="5.15" fill="#f68013" stroke="#0a0a0a" stroke-width="1.15"/>
<circle cx="1105.8" cy="126.3" r="5.15" fill="#f06f20" stroke="#0a0a0a" stroke-width="1.15"/>
<circle cx="1125.2" cy="136.8" r="5.15" fill="#9b2964" stroke="#0a0a0a" stroke-width="1.15"/>
<circle cx="1121.3" cy="139.0" r="5.15" fill="#e75e2e" stroke="#0a0a0a" stroke-width="1.15"/>
<circle cx="1122.9" cy="150.2" r="5.15" fill="#62146e" stroke="#0a0a0a" stroke-width="1.15"/>
<circle cx="1134.6" cy="126.9" r="5.15" fill="#fa9207" stroke="#0a0a0a" stroke-width="1.15"/>
<circle cx="1143.5" cy="96.9" r="5.15" fill="#fcae12" stroke="#0a0a0a" stroke-width="1.15"/>
<circle cx="1142.1" cy="104.3" r="5.15" fill="#fa9207" stroke="#0a0a0a" stroke-width="1.15"/>
<circle cx="1150.4" cy="118.8" r="5.15" fill="#fb9b06" stroke="#0a0a0a" stroke-width="1.15"/>
<circle cx="1142.3" cy="115.1" r="5.15" fill="#fa9207" stroke="#0a0a0a" stroke-width="1.15"/>
<circle cx="1143.5" cy="122.9" r="5.15" fill="#f8890c" stroke="#0a0a0a" stroke-width="1.15"/>
<circle cx="1149.7" cy="131.2" r="5.15" fill="#fcae12" stroke="#0a0a0a" stroke-width="1.15"/>
<circle cx="1154.1" cy="135.3" r="5.15" fill="#fb9b06" stroke="#0a0a0a" stroke-width="1.15"/>
<circle cx="1145.2" cy="137.0" r="5.15" fill="#fa9207" stroke="#0a0a0a" stroke-width="1.15"/>
<circle cx="1159.3" cy="144.0" r="5.15" fill="#fb9b06" stroke="#0a0a0a" stroke-width="1.15"/>
<circle cx="1149.1" cy="172.1" r="5.15" fill="#eb6628" stroke="#0a0a0a" stroke-width="1.15"/>
<circle cx="1164.8" cy="151.9" r="5.15" fill="#fa9207" stroke="#0a0a0a" stroke-width="1.15"/>
<circle cx="1171.5" cy="170.7" r="5.15" fill="#fb9b06" stroke="#0a0a0a" stroke-width="1.15"/>
<circle cx="1174.4" cy="198.1" r="5.15" fill="#f68013" stroke="#0a0a0a" stroke-width="1.15"/>
<circle cx="1188.4" cy="177.7" r="5.15" fill="#f8890c" stroke="#0a0a0a" stroke-width="1.15"/>
<circle cx="1189.5" cy="213.3" r="5.15" fill="#f8890c" stroke="#0a0a0a" stroke-width="1.15"/>
<circle cx="1211.5" cy="191.4" r="5.15" fill="#fb9b06" stroke="#0a0a0a" stroke-width="1.15"/>
<circle cx="1217.4" cy="229.2" r="5.15" fill="#f06f20" stroke="#0a0a0a" stroke-width="1.15"/>
<circle cx="1230.6" cy="244.3" r="5.15" fill="#d74b3f" stroke="#0a0a0a" stroke-width="1.15"/>
<circle cx="1262.7" cy="226.3" r="5.15" fill="#8c2369" stroke="#0a0a0a" stroke-width="1.15"/>
</g>
<rect x="1099.9" y="55.0" width="319.0" height="312.6" fill="none" stroke="#7a7a7a" stroke-width="1.4"/>
<path d="M1163.7,367.6v-3.5M1163.7,55.0v3.5M1227.5,367.6v-3.5M1227.5,55.0v3.5M1291.3,367.6v-3.5M1291.3,55.0v3.5M1355.1,367.6v-3.5M1355.1,55.0v3.5M1099.9,305.1h3.5M1418.9,305.1h-3.5M1099.9,242.6h3.5M1418.9,242.6h-3.5M1099.9,180.0h3.5M1418.9,180.0h-3.5M1099.9,117.5h3.5M1418.9,117.5h-3.5" fill="none" stroke="#7a7a7a" stroke-width="1.1"/>
<text transform="translate(1350.4,87.7)" font-size="30.2" text-anchor="start">(a-4)</text>
<text transform="translate(1354.8,212.0) scale(1,1.07)" font-size="21.25" text-anchor="start"><tspan font-style="italic">Q</tspan>=0.5</text>
<text transform="translate(1354.8,290.2) scale(1,1.07)" font-size="21.25" text-anchor="start"><tspan font-style="italic">Q</tspan>=1.0</text>
<text transform="translate(1354.8,329.1) scale(1,1.07)" font-size="21.25" text-anchor="start"><tspan font-style="italic">Q</tspan>=1.5</text>
<text transform="translate(1354.8,348.4) scale(1,1.07)" font-size="21.25" text-anchor="start"><tspan font-style="italic">Q</tspan>=2.0</text>
</g>
<g>
<clipPath id="cp04"><rect x="1431.8" y="55.0" width="319.0" height="312.6"/></clipPath>
<path d="M1431.8,55.0 L1435.0,58.3 L1438.2,61.5 L1441.4,64.7 L1444.6,67.8 L1447.8,70.9 L1451.0,74.0 L1454.2,77.1 L1457.4,80.1 L1460.6,83.1 L1463.8,86.0 L1466.9,89.0 L1470.1,91.9 L1473.3,94.7 L1476.5,97.6 L1479.7,100.4 L1482.9,103.2 L1486.1,105.9 L1489.3,108.6 L1492.5,111.3 L1495.6,114.0 L1498.8,116.6 L1502.0,119.2 L1505.2,121.8 L1508.4,124.4 L1511.6,126.9 L1514.8,129.4 L1518.0,131.9 L1521.2,134.3 L1524.4,136.8 L1527.5,139.2 L1530.7,141.6 L1533.9,143.9 L1537.1,146.2 L1540.3,148.5 L1543.5,150.8 L1546.7,153.1 L1549.9,155.3 L1553.1,157.5 L1556.3,159.7 L1559.4,161.9 L1562.6,164.0 L1565.8,166.1 L1569.0,168.2 L1572.2,170.3 L1575.4,172.3 L1578.6,174.4 L1581.8,176.4 L1585.0,178.4 L1588.2,180.3 L1591.3,182.3 L1594.5,184.2 L1597.7,186.1 L1600.9,188.0 L1604.1,189.9 L1607.3,191.7 L1610.5,193.6 L1613.7,195.4 L1616.9,197.2 L1620.1,198.9 L1623.2,200.7 L1626.4,202.4 L1629.6,204.1 L1632.8,205.8 L1636.0,207.5 L1639.2,209.2 L1642.4,210.8 L1645.6,212.5 L1648.8,214.1 L1652.0,215.7 L1655.1,217.3 L1658.3,218.8 L1661.5,220.4 L1664.7,221.9 L1667.9,223.4 L1671.1,224.9 L1674.3,226.4 L1677.5,227.9 L1680.7,229.3 L1683.9,230.8 L1687.0,232.2 L1690.2,233.6 L1693.4,235.0 L1696.6,236.4 L1699.8,237.7 L1703.0,239.1 L1706.2,240.4 L1709.4,241.7 L1712.6,243.1 L1715.8,244.3 L1718.9,245.6 L1722.1,246.9 L1725.3,248.2 L1728.5,249.4 L1731.7,250.6 L1734.9,251.8 L1738.1,253.0 L1741.3,254.2 L1744.5,255.4 L1747.7,256.6 L1750.8,257.7" fill="none" stroke="#242424" stroke-width="1.1"/>
<path d="M1431.8,55.0 L1435.0,61.5 L1438.2,67.8 L1441.4,74.0 L1444.6,80.1 L1447.8,86.0 L1451.0,91.9 L1454.2,97.6 L1457.4,103.2 L1460.6,108.6 L1463.8,114.0 L1466.9,119.2 L1470.1,124.4 L1473.3,129.4 L1476.5,134.3 L1479.7,139.2 L1482.9,143.9 L1486.1,148.5 L1489.3,153.1 L1492.5,157.5 L1495.6,161.9 L1498.8,166.1 L1502.0,170.3 L1505.2,174.4 L1508.4,178.4 L1511.6,182.3 L1514.8,186.1 L1518.0,189.9 L1521.2,193.6 L1524.4,197.2 L1527.5,200.7 L1530.7,204.1 L1533.9,207.5 L1537.1,210.8 L1540.3,214.1 L1543.5,217.3 L1546.7,220.4 L1549.9,223.4 L1553.1,226.4 L1556.3,229.3 L1559.4,232.2 L1562.6,235.0 L1565.8,237.7 L1569.0,240.4 L1572.2,243.1 L1575.4,245.6 L1578.6,248.2 L1581.8,250.6 L1585.0,253.0 L1588.2,255.4 L1591.3,257.7 L1594.5,260.0 L1597.7,262.2 L1600.9,264.4 L1604.1,266.6 L1607.3,268.6 L1610.5,270.7 L1613.7,272.7 L1616.9,274.7 L1620.1,276.6 L1623.2,278.5 L1626.4,280.3 L1629.6,282.1 L1632.8,283.9 L1636.0,285.6 L1639.2,287.3 L1642.4,289.0 L1645.6,290.6 L1648.8,292.2 L1652.0,293.8 L1655.1,295.3 L1658.3,296.8 L1661.5,298.3 L1664.7,299.7 L1667.9,301.1 L1671.1,302.5 L1674.3,303.8 L1677.5,305.1 L1680.7,306.4 L1683.9,307.7 L1687.0,308.9 L1690.2,310.2 L1693.4,311.3 L1696.6,312.5 L1699.8,313.6 L1703.0,314.8 L1706.2,315.9 L1709.4,316.9 L1712.6,318.0 L1715.8,319.0 L1718.9,320.0 L1722.1,321.0 L1725.3,322.0 L1728.5,322.9 L1731.7,323.8 L1734.9,324.7 L1738.1,325.6 L1741.3,326.5 L1744.5,327.3 L1747.7,328.2 L1750.8,329.0" fill="none" stroke="#242424" stroke-width="1.1"/>
<path d="M1431.8,55.0 L1435.0,64.7 L1438.2,74.0 L1441.4,83.1 L1444.6,91.9 L1447.8,100.4 L1451.0,108.6 L1454.2,116.6 L1457.4,124.4 L1460.6,131.9 L1463.8,139.2 L1466.9,146.2 L1470.1,153.1 L1473.3,159.7 L1476.5,166.1 L1479.7,172.3 L1482.9,178.4 L1486.1,184.2 L1489.3,189.9 L1492.5,195.4 L1495.6,200.7 L1498.8,205.8 L1502.0,210.8 L1505.2,215.7 L1508.4,220.4 L1511.6,224.9 L1514.8,229.3 L1518.0,233.6 L1521.2,237.7 L1524.4,241.7 L1527.5,245.6 L1530.7,249.4 L1533.9,253.0 L1537.1,256.6 L1540.3,260.0 L1543.5,263.3 L1546.7,266.6 L1549.9,269.7 L1553.1,272.7 L1556.3,275.6 L1559.4,278.5 L1562.6,281.2 L1565.8,283.9 L1569.0,286.5 L1572.2,289.0 L1575.4,291.4 L1578.6,293.8 L1581.8,296.0 L1585.0,298.3 L1588.2,300.4 L1591.3,302.5 L1594.5,304.5 L1597.7,306.4 L1600.9,308.3 L1604.1,310.2 L1607.3,311.9 L1610.5,313.6 L1613.7,315.3 L1616.9,316.9 L1620.1,318.5 L1623.2,320.0 L1626.4,321.5 L1629.6,322.9 L1632.8,324.3 L1636.0,325.6 L1639.2,326.9 L1642.4,328.2 L1645.6,329.4 L1648.8,330.6 L1652.0,331.7 L1655.1,332.8 L1658.3,333.9 L1661.5,334.9 L1664.7,335.9 L1667.9,336.9 L1671.1,337.9 L1674.3,338.8 L1677.5,339.7 L1680.7,340.5 L1683.9,341.4 L1687.0,342.2 L1690.2,343.0 L1693.4,343.7 L1696.6,344.5 L1699.8,345.2 L1703.0,345.9 L1706.2,346.5 L1709.4,347.2 L1712.6,347.8 L1715.8,348.4 L1718.9,349.0 L1722.1,349.6 L1725.3,350.2 L1728.5,350.7 L1731.7,351.2 L1734.9,351.7 L1738.1,352.2 L1741.3,352.7 L1744.5,353.2 L1747.7,353.6 L1750.8,354.0" fill="none" stroke="#242424" stroke-width="1.1"/>
<path d="M1431.8,55.0 L1435.0,67.8 L1438.2,80.1 L1441.4,91.9 L1444.6,103.2 L1447.8,114.0 L1451.0,124.4 L1454.2,134.3 L1457.4,143.9 L1460.6,153.1 L1463.8,161.9 L1466.9,170.3 L1470.1,178.4 L1473.3,186.1 L1476.5,193.6 L1479.7,200.7 L1482.9,207.5 L1486.1,214.1 L1489.3,220.4 L1492.5,226.4 L1495.6,232.2 L1498.8,237.7 L1502.0,243.1 L1505.2,248.2 L1508.4,253.0 L1511.6,257.7 L1514.8,262.2 L1518.0,266.6 L1521.2,270.7 L1524.4,274.7 L1527.5,278.5 L1530.7,282.1 L1533.9,285.6 L1537.1,289.0 L1540.3,292.2 L1543.5,295.3 L1546.7,298.3 L1549.9,301.1 L1553.1,303.8 L1556.3,306.4 L1559.4,308.9 L1562.6,311.3 L1565.8,313.6 L1569.0,315.9 L1572.2,318.0 L1575.4,320.0 L1578.6,322.0 L1581.8,323.8 L1585.0,325.6 L1588.2,327.3 L1591.3,329.0 L1594.5,330.6 L1597.7,332.1 L1600.9,333.5 L1604.1,334.9 L1607.3,336.3 L1610.5,337.6 L1613.7,338.8 L1616.9,340.0 L1620.1,341.1 L1623.2,342.2 L1626.4,343.2 L1629.6,344.2 L1632.8,345.2 L1636.0,346.1 L1639.2,347.0 L1642.4,347.8 L1645.6,348.6 L1648.8,349.4 L1652.0,350.2 L1655.1,350.9 L1658.3,351.6 L1661.5,352.2 L1664.7,352.8 L1667.9,353.5 L1671.1,354.0 L1674.3,354.6 L1677.5,355.1 L1680.7,355.6 L1683.9,356.1 L1687.0,356.6 L1690.2,357.0 L1693.4,357.5 L1696.6,357.9 L1699.8,358.3 L1703.0,358.7 L1706.2,359.0 L1709.4,359.4 L1712.6,359.7 L1715.8,360.0 L1718.9,360.4 L1722.1,360.7 L1725.3,360.9 L1728.5,361.2 L1731.7,361.5 L1734.9,361.7 L1738.1,362.0 L1741.3,362.2 L1744.5,362.4 L1747.7,362.6 L1750.8,362.8" fill="none" stroke="#242424" stroke-width="1.1"/>
<g clip-path="url(#cp04)">
<path d="M1444.3,78.6V104.6M1441.7,78.6h5.3M1441.7,104.6h5.3M1438.4,78.6V104.6M1435.7,78.6h5.3M1435.7,104.6h5.3M1436.2,67.4V89.7M1433.5,67.4h5.3M1433.5,89.7h5.3M1437.1,74.9V98.4M1434.5,74.9h5.3M1434.5,98.4h5.3M1452.0,97.2V117.0M1449.4,97.2h5.3M1449.4,117.0h5.3M1445.8,95.9V117.0M1443.2,95.9h5.3M1443.2,117.0h5.3M1445.2,91.0V112.0M1442.5,91.0h5.3M1442.5,112.0h5.3M1445.8,103.4V123.2M1443.2,103.4h5.3M1443.2,123.2h5.3M1455.4,97.2V129.4M1452.7,97.2h5.3M1452.7,129.4h5.3M1436.2,95.9V117.0M1433.5,95.9h5.3M1433.5,117.0h5.3M1437.4,109.5V128.1M1434.7,109.5h5.3M1434.7,128.1h5.3M1446.4,118.2V134.3M1443.8,118.2h5.3M1443.8,134.3h5.3M1457.0,113.3V135.6M1454.3,113.3h5.3M1454.3,135.6h5.3M1453.3,126.9V146.7M1450.6,126.9h5.3M1450.6,146.7h5.3M1455.5,136.8V155.4M1452.8,136.8h5.3M1452.8,155.4h5.3M1454.9,146.7V162.8M1452.2,146.7h5.3M1452.2,162.8h5.3M1466.3,121.9V139.3M1463.6,121.9h5.3M1463.6,139.3h5.3M1475.3,79.8V103.4M1472.7,79.8h5.3M1472.7,103.4h5.3M1474.1,107.7V124.4M1471.4,107.7h5.3M1471.4,124.4h5.3M1474.6,120.7V136.8M1471.9,120.7h5.3M1471.9,136.8h5.3M1482.4,120.7V151.7M1479.7,120.7h5.3M1479.7,151.7h5.3M1475.3,126.9V145.5M1472.7,126.9h5.3M1472.7,145.5h5.3M1482.0,131.8V156.6M1479.3,131.8h5.3M1479.3,156.6h5.3M1477.0,139.3V169.0M1474.4,139.3h5.3M1474.4,169.0h5.3M1486.1,139.3V169.0M1483.4,139.3h5.3M1483.4,169.0h5.3M1491.0,143.0V177.1M1488.4,143.0h5.3M1488.4,177.1h5.3M1495.6,151.0V166.5M1493.0,151.0h5.3M1493.0,166.5h5.3M1495.4,151.7V177.1M1492.7,151.7h5.3M1492.7,177.1h5.3M1480.9,165.3V197.2M1478.2,165.3h5.3M1478.2,197.2h5.3M1503.2,163.6V181.1M1500.5,163.6h5.3M1500.5,181.1h5.3M1506.4,181.4V214.1M1503.7,181.4h5.3M1503.7,214.1h5.3M1520.2,167.9V202.1M1517.6,167.9h5.3M1517.6,202.1h5.3M1521.2,189.4V233.2M1518.5,189.4h5.3M1518.5,233.2h5.3M1543.3,165.5V213.6M1540.7,165.5h5.3M1540.7,213.6h5.3M1549.0,212.8V249.6M1546.4,212.8h5.3M1546.4,249.6h5.3M1562.4,224.4V259.8M1559.8,224.4h5.3M1559.8,259.8h5.3M1594.4,215.2V248.8M1591.8,215.2h5.3M1591.8,248.8h5.3" fill="none" stroke="#1c1c1c" stroke-width="1.0"/>
<circle cx="1444.3" cy="91.6" r="5.15" fill="#f6d746" stroke="#0a0a0a" stroke-width="1.15"/>
<circle cx="1438.4" cy="91.6" r="5.15" fill="#f4e156" stroke="#0a0a0a" stroke-width="1.15"/>
<circle cx="1436.2" cy="78.6" r="5.15" fill="#f8cd37" stroke="#0a0a0a" stroke-width="1.15"/>
<circle cx="1437.1" cy="87.0" r="5.15" fill="#fa9207" stroke="#0a0a0a" stroke-width="1.15"/>
<circle cx="1452.0" cy="107.1" r="5.15" fill="#f8890c" stroke="#0a0a0a" stroke-width="1.15"/>
<circle cx="1445.8" cy="106.5" r="5.15" fill="#d74b3f" stroke="#0a0a0a" stroke-width="1.15"/>
<circle cx="1445.2" cy="101.5" r="5.15" fill="#dd513a" stroke="#0a0a0a" stroke-width="1.15"/>
<circle cx="1445.8" cy="113.3" r="5.15" fill="#d04545" stroke="#0a0a0a" stroke-width="1.15"/>
<circle cx="1455.4" cy="114.5" r="5.15" fill="#f8890c" stroke="#0a0a0a" stroke-width="1.15"/>
<circle cx="1436.2" cy="106.5" r="5.15" fill="#fa9207" stroke="#0a0a0a" stroke-width="1.15"/>
<circle cx="1437.4" cy="121.3" r="5.15" fill="#f68013" stroke="#0a0a0a" stroke-width="1.15"/>
<circle cx="1446.4" cy="127.5" r="5.15" fill="#eb6628" stroke="#0a0a0a" stroke-width="1.15"/>
<circle cx="1457.0" cy="124.7" r="5.15" fill="#f68013" stroke="#0a0a0a" stroke-width="1.15"/>
<circle cx="1453.3" cy="137.0" r="5.15" fill="#eb6628" stroke="#0a0a0a" stroke-width="1.15"/>
<circle cx="1455.5" cy="146.1" r="5.15" fill="#ab2f5e" stroke="#0a0a0a" stroke-width="1.15"/>
<circle cx="1454.9" cy="155.4" r="5.15" fill="#6a176e" stroke="#0a0a0a" stroke-width="1.15"/>
<circle cx="1466.3" cy="130.9" r="5.15" fill="#fb9b06" stroke="#0a0a0a" stroke-width="1.15"/>
<circle cx="1475.3" cy="91.6" r="5.15" fill="#fac42a" stroke="#0a0a0a" stroke-width="1.15"/>
<circle cx="1474.1" cy="114.5" r="5.15" fill="#fca50a" stroke="#0a0a0a" stroke-width="1.15"/>
<circle cx="1474.6" cy="128.7" r="5.15" fill="#fca50a" stroke="#0a0a0a" stroke-width="1.15"/>
<circle cx="1482.4" cy="136.8" r="5.15" fill="#fcae12" stroke="#0a0a0a" stroke-width="1.15"/>
<circle cx="1475.3" cy="136.2" r="5.15" fill="#fb9b06" stroke="#0a0a0a" stroke-width="1.15"/>
<circle cx="1482.0" cy="144.2" r="5.15" fill="#fcae12" stroke="#0a0a0a" stroke-width="1.15"/>
<circle cx="1477.0" cy="150.2" r="5.15" fill="#fb9b06" stroke="#0a0a0a" stroke-width="1.15"/>
<circle cx="1486.1" cy="150.8" r="5.15" fill="#fca50a" stroke="#0a0a0a" stroke-width="1.15"/>
<circle cx="1491.0" cy="160.3" r="5.15" fill="#fbba1f" stroke="#0a0a0a" stroke-width="1.15"/>
<circle cx="1495.6" cy="158.5" r="5.15" fill="#fcae12" stroke="#0a0a0a" stroke-width="1.15"/>
<circle cx="1495.4" cy="164.7" r="5.15" fill="#fcae12" stroke="#0a0a0a" stroke-width="1.15"/>
<circle cx="1480.9" cy="181.1" r="5.15" fill="#f06f20" stroke="#0a0a0a" stroke-width="1.15"/>
<circle cx="1503.2" cy="172.6" r="5.15" fill="#fcae12" stroke="#0a0a0a" stroke-width="1.15"/>
<circle cx="1506.4" cy="197.8" r="5.15" fill="#fb9b06" stroke="#0a0a0a" stroke-width="1.15"/>
<circle cx="1520.2" cy="185.1" r="5.15" fill="#fa9207" stroke="#0a0a0a" stroke-width="1.15"/>
<circle cx="1521.2" cy="210.9" r="5.15" fill="#fa9207" stroke="#0a0a0a" stroke-width="1.15"/>
<circle cx="1543.3" cy="189.7" r="5.15" fill="#fca50a" stroke="#0a0a0a" stroke-width="1.15"/>
<circle cx="1549.0" cy="231.1" r="5.15" fill="#f68013" stroke="#0a0a0a" stroke-width="1.15"/>
<circle cx="1562.4" cy="241.9" r="5.15" fill="#dd513a" stroke="#0a0a0a" stroke-width="1.15"/>
<circle cx="1594.4" cy="232.1" r="5.15" fill="#a32c61" stroke="#0a0a0a" stroke-width="1.15"/>
</g>
<rect x="1431.8" y="55.0" width="319.0" height="312.6" fill="none" stroke="#7a7a7a" stroke-width="1.4"/>
<path d="M1495.6,367.6v-3.5M1495.6,55.0v3.5M1559.4,367.6v-3.5M1559.4,55.0v3.5M1623.2,367.6v-3.5M1623.2,55.0v3.5M1687.0,367.6v-3.5M1687.0,55.0v3.5M1431.8,305.1h3.5M1750.8,305.1h-3.5M1431.8,242.6h3.5M1750.8,242.6h-3.5M1431.8,180.0h3.5M1750.8,180.0h-3.5M1431.8,117.5h3.5M1750.8,117.5h-3.5" fill="none" stroke="#7a7a7a" stroke-width="1.1"/>
<text transform="translate(1684.6,87.7)" font-size="30.2" text-anchor="start">(a-5)</text>
<text transform="translate(1686.8,232.2) scale(1,1.07)" font-size="21.25" text-anchor="start"><tspan font-style="italic">Q</tspan>=0.5</text>
<text transform="translate(1686.8,308.9) scale(1,1.07)" font-size="21.25" text-anchor="start"><tspan font-style="italic">Q</tspan>=1.0</text>
<text transform="translate(1686.8,342.2) scale(1,1.07)" font-size="21.25" text-anchor="start"><tspan font-style="italic">Q</tspan>=1.5</text>
<text transform="translate(1686.8,356.6) scale(1,1.07)" font-size="21.25" text-anchor="start"><tspan font-style="italic">Q</tspan>=2.0</text>
</g>
<text x="101.2" y="376.5" font-size="25.5" text-anchor="end">0.0</text>
<text x="101.2" y="314.0" font-size="25.5" text-anchor="end">0.2</text>
<text x="101.2" y="251.5" font-size="25.5" text-anchor="end">0.4</text>
<text x="101.2" y="188.9" font-size="25.5" text-anchor="end">0.6</text>
<text x="101.2" y="126.4" font-size="25.5" text-anchor="end">0.8</text>
<text x="101.2" y="63.9" font-size="25.5" text-anchor="end">1.0</text>
<g>
<clipPath id="cp10"><rect x="104.2" y="389.6" width="319.0" height="312.6"/></clipPath>
<g clip-path="url(#cp10)">
<path d="M110.5,413.6V435.9M107.9,413.6h5.3M107.9,435.9h5.3M107.4,408.6V432.2M104.8,408.6h5.3M104.8,432.2h5.3M107.4,413.6V447.0M104.8,413.6h5.3M104.8,447.0h5.3M111.4,426.0V456.9M108.7,426.0h5.3M108.7,456.9h5.3M120.4,435.9V464.4M117.8,435.9h5.3M117.8,464.4h5.3M112.8,432.2V474.3M110.1,432.2h5.3M110.1,474.3h5.3M106.8,438.4V492.9M104.2,438.4h5.3M104.2,492.9h5.3M122.0,435.9V487.3M119.4,435.9h5.3M119.4,487.3h5.3M116.7,444.5V480.5M114.1,444.5h5.3M114.1,480.5h5.3M115.9,435.9V476.8M113.2,435.9h5.3M113.2,476.8h5.3M107.4,442.1V494.1M104.8,442.1h5.3M104.8,494.1h5.3M113.0,459.4V523.2M110.4,459.4h5.3M110.4,523.2h5.3M113.0,464.4V535.0M110.4,464.4h5.3M110.4,535.0h5.3M113.3,469.3V541.2M110.6,469.3h5.3M110.6,541.2h5.3M122.3,412.3V434.6M119.6,412.3h5.3M119.6,434.6h5.3M122.9,413.6V453.2M120.3,413.6h5.3M120.3,453.2h5.3M126.6,421.6V453.2M124.0,421.6h5.3M124.0,453.2h5.3M121.7,413.0V444.5M119.0,413.0h5.3M119.0,444.5h5.3M136.2,409.9V438.4M133.5,409.9h5.3M133.5,438.4h5.3M135.9,403.7V433.4M133.3,403.7h5.3M133.3,433.4h5.3M128.2,410.5V439.6M125.6,410.5h5.3M125.6,439.6h5.3M132.0,403.1V434.6M129.3,403.1h5.3M129.3,434.6h5.3M136.9,413.6V444.5M134.3,413.6h5.3M134.3,444.5h5.3M142.7,413.6V451.4M140.1,413.6h5.3M140.1,451.4h5.3M147.7,406.8V442.7M145.0,406.8h5.3M145.0,442.7h5.3M149.5,406.8V442.1M146.9,406.8h5.3M146.9,442.1h5.3M150.8,411.1V453.2M148.1,411.1h5.3M148.1,453.2h5.3M158.2,403.7V439.6M155.6,403.7h5.3M155.6,439.6h5.3M158.2,407.4V456.9M155.6,407.4h5.3M155.6,456.9h5.3M154.5,403.7V444.5M151.9,403.7h5.3M151.9,444.5h5.3M160.7,421.0V454.5M158.0,421.0h5.3M158.0,454.5h5.3M149.5,417.3V460.7M146.9,417.3h5.3M146.9,460.7h5.3M156.4,421.6V461.3M153.7,421.6h5.3M153.7,461.3h5.3M163.2,424.7V464.4M160.5,424.7h5.3M160.5,464.4h5.3M166.9,410.5V455.1M164.2,410.5h5.3M164.2,455.1h5.3M159.2,427.2V476.1M156.6,427.2h5.3M156.6,476.1h5.3M164.2,442.1V484.2M161.5,442.1h5.3M161.5,484.2h5.3M168.1,455.1V525.1M165.5,455.1h5.3M165.5,525.1h5.3M173.5,422.9V484.5M170.9,422.9h5.3M170.9,484.5h5.3M182.4,409.7V460.0M179.8,409.7h5.3M179.8,460.0h5.3M182.4,417.3V482.6M179.8,417.3h5.3M179.8,482.6h5.3M181.9,438.0V504.9M179.3,438.0h5.3M179.3,504.9h5.3M214.6,417.6V473.8M211.9,417.6h5.3M211.9,473.8h5.3M219.4,422.9V503.3M216.7,422.9h5.3M216.7,503.3h5.3M264.3,430.0V505.7M261.6,430.0h5.3M261.6,505.7h5.3" fill="none" stroke="#1c1c1c" stroke-width="1.0"/>
<circle cx="110.5" cy="422.9" r="5.15" fill="#b3325a" stroke="#0a0a0a" stroke-width="1.15"/>
<circle cx="107.4" cy="419.8" r="5.15" fill="#ca404a" stroke="#0a0a0a" stroke-width="1.15"/>
<circle cx="107.4" cy="428.7" r="5.15" fill="#f06f20" stroke="#0a0a0a" stroke-width="1.15"/>
<circle cx="111.4" cy="440.8" r="5.15" fill="#ab2f5e" stroke="#0a0a0a" stroke-width="1.15"/>
<circle cx="120.4" cy="447.0" r="5.15" fill="#9b2964" stroke="#0a0a0a" stroke-width="1.15"/>
<circle cx="112.8" cy="447.6" r="5.15" fill="#7c1d6d" stroke="#0a0a0a" stroke-width="1.15"/>
<circle cx="106.8" cy="456.9" r="5.15" fill="#721a6e" stroke="#0a0a0a" stroke-width="1.15"/>
<circle cx="122.0" cy="460.7" r="5.15" fill="#02020c" stroke="#0a0a0a" stroke-width="1.15"/>
<circle cx="116.7" cy="461.9" r="5.15" fill="#ba3655" stroke="#0a0a0a" stroke-width="1.15"/>
<circle cx="115.9" cy="455.1" r="5.15" fill="#7c1d6d" stroke="#0a0a0a" stroke-width="1.15"/>
<circle cx="107.4" cy="460.7" r="5.15" fill="#84206b" stroke="#0a0a0a" stroke-width="1.15"/>
<circle cx="113.0" cy="487.9" r="5.15" fill="#2f0a5b" stroke="#0a0a0a" stroke-width="1.15"/>
<circle cx="113.0" cy="496.6" r="5.15" fill="#260c51" stroke="#0a0a0a" stroke-width="1.15"/>
<circle cx="113.3" cy="502.1" r="5.15" fill="#10092d" stroke="#0a0a0a" stroke-width="1.15"/>
<circle cx="122.3" cy="422.9" r="5.15" fill="#f06f20" stroke="#0a0a0a" stroke-width="1.15"/>
<circle cx="122.9" cy="433.4" r="5.15" fill="#fca50a" stroke="#0a0a0a" stroke-width="1.15"/>
<circle cx="126.6" cy="435.9" r="5.15" fill="#f06f20" stroke="#0a0a0a" stroke-width="1.15"/>
<circle cx="121.7" cy="428.7" r="5.15" fill="#7c1d6d" stroke="#0a0a0a" stroke-width="1.15"/>
<circle cx="136.2" cy="424.1" r="5.15" fill="#eb6628" stroke="#0a0a0a" stroke-width="1.15"/>
<circle cx="135.9" cy="418.5" r="5.15" fill="#eb6628" stroke="#0a0a0a" stroke-width="1.15"/>
<circle cx="128.2" cy="424.7" r="5.15" fill="#e25734" stroke="#0a0a0a" stroke-width="1.15"/>
<circle cx="132.0" cy="418.8" r="5.15" fill="#eb6628" stroke="#0a0a0a" stroke-width="1.15"/>
<circle cx="136.9" cy="429.4" r="5.15" fill="#d04545" stroke="#0a0a0a" stroke-width="1.15"/>
<circle cx="142.7" cy="432.5" r="5.15" fill="#f68013" stroke="#0a0a0a" stroke-width="1.15"/>
<circle cx="147.7" cy="424.7" r="5.15" fill="#f8890c" stroke="#0a0a0a" stroke-width="1.15"/>
<circle cx="149.5" cy="424.5" r="5.15" fill="#f6d746" stroke="#0a0a0a" stroke-width="1.15"/>
<circle cx="150.8" cy="432.2" r="5.15" fill="#f8cd37" stroke="#0a0a0a" stroke-width="1.15"/>
<circle cx="158.2" cy="421.6" r="5.15" fill="#fa9207" stroke="#0a0a0a" stroke-width="1.15"/>
<circle cx="158.2" cy="431.9" r="5.15" fill="#f06f20" stroke="#0a0a0a" stroke-width="1.15"/>
<circle cx="154.5" cy="423.7" r="5.15" fill="#f37819" stroke="#0a0a0a" stroke-width="1.15"/>
<circle cx="160.7" cy="437.7" r="5.15" fill="#fcae12" stroke="#0a0a0a" stroke-width="1.15"/>
<circle cx="149.5" cy="439.0" r="5.15" fill="#f8890c" stroke="#0a0a0a" stroke-width="1.15"/>
<circle cx="156.4" cy="441.5" r="5.15" fill="#f8890c" stroke="#0a0a0a" stroke-width="1.15"/>
<circle cx="163.2" cy="444.5" r="5.15" fill="#f8890c" stroke="#0a0a0a" stroke-width="1.15"/>
<circle cx="166.9" cy="432.8" r="5.15" fill="#fb9b06" stroke="#0a0a0a" stroke-width="1.15"/>
<circle cx="159.2" cy="451.7" r="5.15" fill="#fa9207" stroke="#0a0a0a" stroke-width="1.15"/>
<circle cx="164.2" cy="463.1" r="5.15" fill="#f8890c" stroke="#0a0a0a" stroke-width="1.15"/>
<circle cx="168.1" cy="490.1" r="5.15" fill="#7c1d6d" stroke="#0a0a0a" stroke-width="1.15"/>
<circle cx="173.5" cy="453.6" r="5.15" fill="#fb9b06" stroke="#0a0a0a" stroke-width="1.15"/>
<circle cx="182.4" cy="434.8" r="5.15" fill="#f37819" stroke="#0a0a0a" stroke-width="1.15"/>
<circle cx="182.4" cy="449.9" r="5.15" fill="#f8890c" stroke="#0a0a0a" stroke-width="1.15"/>
<circle cx="181.9" cy="471.4" r="5.15" fill="#eb6628" stroke="#0a0a0a" stroke-width="1.15"/>
<circle cx="214.6" cy="446.0" r="5.15" fill="#f8890c" stroke="#0a0a0a" stroke-width="1.15"/>
<circle cx="219.4" cy="463.2" r="5.15" fill="#fb9b06" stroke="#0a0a0a" stroke-width="1.15"/>
<circle cx="264.3" cy="467.9" r="5.15" fill="#f8890c" stroke="#0a0a0a" stroke-width="1.15"/>
</g>
<rect x="104.2" y="389.6" width="319.0" height="312.6" fill="none" stroke="#7a7a7a" stroke-width="1.4"/>
<path d="M168.1,702.2v-3.5M168.1,389.6v3.5M231.9,702.2v-3.5M231.9,389.6v3.5M295.6,702.2v-3.5M295.6,389.6v3.5M359.5,702.2v-3.5M359.5,389.6v3.5M104.2,639.7h3.5M423.2,639.7h-3.5M104.2,577.2h3.5M423.2,577.2h-3.5M104.2,514.7h3.5M423.2,514.7h-3.5M104.2,452.2h3.5M423.2,452.2h-3.5" fill="none" stroke="#7a7a7a" stroke-width="1.1"/>
<text transform="translate(348.2,422.3)" font-size="30.2" text-anchor="start">(b-1)</text>
</g>
<g>
<clipPath id="cp11"><rect x="436.1" y="389.6" width="319.0" height="312.6"/></clipPath>
<path d="M436.1,389.6 L439.3,391.0 L442.5,392.4 L445.7,393.7 L448.9,395.1 L452.1,396.4 L455.3,397.7 L458.5,399.1 L461.7,400.4 L464.9,401.7 L468.0,403.0 L471.2,404.3 L474.4,405.6 L477.6,406.9 L480.8,408.2 L484.0,409.5 L487.2,410.7 L490.4,412.0 L493.6,413.3 L496.8,414.5 L499.9,415.8 L503.1,417.0 L506.3,418.3 L509.5,419.5 L512.7,420.8 L515.9,422.0 L519.1,423.2 L522.3,424.4 L525.5,425.6 L528.7,426.8 L531.9,428.0 L535.0,429.2 L538.2,430.4 L541.4,431.6 L544.6,432.8 L547.8,434.0 L551.0,435.1 L554.2,436.3 L557.4,437.4 L560.6,438.6 L563.8,439.7 L566.9,440.9 L570.1,442.0 L573.3,443.2 L576.5,444.3 L579.7,445.4 L582.9,446.5 L586.1,447.6 L589.3,448.8 L592.5,449.9 L595.6,451.0 L598.8,452.1 L602.0,453.1 L605.2,454.2 L608.4,455.3 L611.6,456.4 L614.8,457.5 L618.0,458.5 L621.2,459.6 L624.4,460.6 L627.5,461.7 L630.7,462.7 L633.9,463.8 L637.1,464.8 L640.3,465.9 L643.5,466.9 L646.7,467.9 L649.9,468.9 L653.1,470.0 L656.3,471.0 L659.4,472.0 L662.6,473.0 L665.8,474.0 L669.0,475.0 L672.2,476.0 L675.4,476.9 L678.6,477.9 L681.8,478.9 L685.0,479.9 L688.2,480.8 L691.4,481.8 L694.5,482.8 L697.7,483.7 L700.9,484.7 L704.1,485.6 L707.3,486.6 L710.5,487.5 L713.7,488.4 L716.9,489.4 L720.1,490.3 L723.2,491.2 L726.4,492.1 L729.6,493.1 L732.8,494.0 L736.0,494.9 L739.2,495.8 L742.4,496.7 L745.6,497.6 L748.8,498.5 L752.0,499.4 L755.1,500.2" fill="none" stroke="#242424" stroke-width="1.1"/>
<path d="M436.1,389.6 L439.3,392.4 L442.5,395.1 L445.7,397.7 L448.9,400.4 L452.1,403.0 L455.3,405.6 L458.5,408.2 L461.7,410.7 L464.9,413.3 L468.0,415.8 L471.2,418.3 L474.4,420.8 L477.6,423.2 L480.8,425.6 L484.0,428.0 L487.2,430.4 L490.4,432.8 L493.6,435.1 L496.8,437.4 L499.9,439.7 L503.1,442.0 L506.3,444.3 L509.5,446.5 L512.7,448.8 L515.9,451.0 L519.1,453.1 L522.3,455.3 L525.5,457.5 L528.7,459.6 L531.9,461.7 L535.0,463.8 L538.2,465.9 L541.4,467.9 L544.6,470.0 L547.8,472.0 L551.0,474.0 L554.2,476.0 L557.4,477.9 L560.6,479.9 L563.8,481.8 L566.9,483.7 L570.1,485.6 L573.3,487.5 L576.5,489.4 L579.7,491.2 L582.9,493.1 L586.1,494.9 L589.3,496.7 L592.5,498.5 L595.6,500.2 L598.8,502.0 L602.0,503.7 L605.2,505.5 L608.4,507.2 L611.6,508.9 L614.8,510.6 L618.0,512.2 L621.2,513.9 L624.4,515.5 L627.5,517.1 L630.7,518.7 L633.9,520.3 L637.1,521.9 L640.3,523.5 L643.5,525.0 L646.7,526.6 L649.9,528.1 L653.1,529.6 L656.3,531.1 L659.4,532.6 L662.6,534.1 L665.8,535.6 L669.0,537.0 L672.2,538.4 L675.4,539.9 L678.6,541.3 L681.8,542.7 L685.0,544.1 L688.2,545.4 L691.4,546.8 L694.5,548.2 L697.7,549.5 L700.9,550.8 L704.1,552.1 L707.3,553.4 L710.5,554.7 L713.7,556.0 L716.9,557.3 L720.1,558.6 L723.2,559.8 L726.4,561.0 L729.6,562.3 L732.8,563.5 L736.0,564.7 L739.2,565.9 L742.4,567.1 L745.6,568.2 L748.8,569.4 L752.0,570.6 L755.1,571.7" fill="none" stroke="#242424" stroke-width="1.1"/>
<path d="M436.1,389.6 L439.3,393.7 L442.5,397.7 L445.7,401.7 L448.9,405.6 L452.1,409.5 L455.3,413.3 L458.5,417.0 L461.7,420.8 L464.9,424.4 L468.0,428.0 L471.2,431.6 L474.4,435.1 L477.6,438.6 L480.8,442.0 L484.0,445.4 L487.2,448.8 L490.4,452.1 L493.6,455.3 L496.8,458.5 L499.9,461.7 L503.1,464.8 L506.3,467.9 L509.5,471.0 L512.7,474.0 L515.9,476.9 L519.1,479.9 L522.3,482.8 L525.5,485.6 L528.7,488.4 L531.9,491.2 L535.0,494.0 L538.2,496.7 L541.4,499.4 L544.6,502.0 L547.8,504.6 L551.0,507.2 L554.2,509.7 L557.4,512.2 L560.6,514.7 L563.8,517.1 L566.9,519.5 L570.1,521.9 L573.3,524.3 L576.5,526.6 L579.7,528.9 L582.9,531.1 L586.1,533.4 L589.3,535.6 L592.5,537.7 L595.6,539.9 L598.8,542.0 L602.0,544.1 L605.2,546.1 L608.4,548.2 L611.6,550.2 L614.8,552.1 L618.0,554.1 L621.2,556.0 L624.4,557.9 L627.5,559.8 L630.7,561.7 L633.9,563.5 L637.1,565.3 L640.3,567.1 L643.5,568.8 L646.7,570.6 L649.9,572.3 L653.1,574.0 L656.3,575.6 L659.4,577.3 L662.6,578.9 L665.8,580.5 L669.0,582.1 L672.2,583.7 L675.4,585.2 L678.6,586.7 L681.8,588.2 L685.0,589.7 L688.2,591.2 L691.4,592.6 L694.5,594.1 L697.7,595.5 L700.9,596.9 L704.1,598.2 L707.3,599.6 L710.5,600.9 L713.7,602.2 L716.9,603.5 L720.1,604.8 L723.2,606.1 L726.4,607.3 L729.6,608.6 L732.8,609.8 L736.0,611.0 L739.2,612.2 L742.4,613.4 L745.6,614.5 L748.8,615.7 L752.0,616.8 L755.1,617.9" fill="none" stroke="#242424" stroke-width="1.1"/>
<path d="M436.1,389.6 L439.3,395.1 L442.5,400.4 L445.7,405.6 L448.9,410.7 L452.1,415.8 L455.3,420.8 L458.5,425.6 L461.7,430.4 L464.9,435.1 L468.0,439.7 L471.2,444.3 L474.4,448.8 L477.6,453.1 L480.8,457.5 L484.0,461.7 L487.2,465.9 L490.4,470.0 L493.6,474.0 L496.8,477.9 L499.9,481.8 L503.1,485.6 L506.3,489.4 L509.5,493.1 L512.7,496.7 L515.9,500.2 L519.1,503.7 L522.3,507.2 L525.5,510.6 L528.7,513.9 L531.9,517.1 L535.0,520.3 L538.2,523.5 L541.4,526.6 L544.6,529.6 L547.8,532.6 L551.0,535.6 L554.2,538.4 L557.4,541.3 L560.6,544.1 L563.8,546.8 L566.9,549.5 L570.1,552.1 L573.3,554.7 L576.5,557.3 L579.7,559.8 L582.9,562.3 L586.1,564.7 L589.3,567.1 L592.5,569.4 L595.6,571.7 L598.8,574.0 L602.0,576.2 L605.2,578.4 L608.4,580.5 L611.6,582.6 L614.8,584.7 L618.0,586.7 L621.2,588.7 L624.4,590.7 L627.5,592.6 L630.7,594.5 L633.9,596.4 L637.1,598.2 L640.3,600.0 L643.5,601.8 L646.7,603.5 L649.9,605.2 L653.1,606.9 L656.3,608.6 L659.4,610.2 L662.6,611.8 L665.8,613.4 L669.0,614.9 L672.2,616.4 L675.4,617.9 L678.6,619.4 L681.8,620.8 L685.0,622.2 L688.2,623.6 L691.4,624.9 L694.5,626.3 L697.7,627.6 L700.9,628.9 L704.1,630.2 L707.3,631.4 L710.5,632.6 L713.7,633.8 L716.9,635.0 L720.1,636.2 L723.2,637.3 L726.4,638.5 L729.6,639.6 L732.8,640.7 L736.0,641.7 L739.2,642.8 L742.4,643.8 L745.6,644.8 L748.8,645.8 L752.0,646.8 L755.1,647.7" fill="none" stroke="#242424" stroke-width="1.1"/>
<g clip-path="url(#cp11)">
<path d="M442.4,412.3V434.6M439.7,412.3h5.3M439.7,434.6h5.3M439.3,409.6V427.2M436.6,409.6h5.3M436.6,427.2h5.3M439.3,413.6V440.8M436.6,413.6h5.3M436.6,440.8h5.3M444.6,432.2V456.9M442.0,432.2h5.3M442.0,456.9h5.3M454.8,442.1V459.4M452.1,442.1h5.3M452.1,459.4h5.3M438.9,435.9V471.8M436.3,435.9h5.3M436.3,471.8h5.3M447.3,444.5V471.8M444.7,444.5h5.3M444.7,471.8h5.3M448.3,438.4V466.8M445.7,438.4h5.3M445.7,466.8h5.3M439.3,437.1V474.3M436.6,437.1h5.3M436.6,474.3h5.3M452.3,454.5V479.2M449.6,454.5h5.3M449.6,479.2h5.3M447.6,453.2V481.7M444.9,453.2h5.3M444.9,481.7h5.3M447.7,459.4V489.1M445.1,459.4h5.3M445.1,489.1h5.3M452.5,469.3V504.6M449.9,469.3h5.3M449.9,504.6h5.3M449.8,469.3V496.6M447.2,469.3h5.3M447.2,496.6h5.3M444.6,466.8V500.3M442.0,466.8h5.3M442.0,500.3h5.3M444.9,475.5V513.3M442.2,475.5h5.3M442.2,513.3h5.3M453.5,416.1V432.2M450.9,416.1h5.3M450.9,432.2h5.3M454.2,416.7V437.1M451.5,416.7h5.3M451.5,437.1h5.3M454.2,421.0V448.3M451.5,421.0h5.3M451.5,448.3h5.3M458.2,429.7V458.8M455.6,429.7h5.3M455.6,458.8h5.3M465.9,412.3V432.2M463.3,412.3h5.3M463.3,432.2h5.3M467.2,413.6V435.9M464.5,413.6h5.3M464.5,435.9h5.3M468.4,414.8V444.5M465.7,414.8h5.3M465.7,444.5h5.3M463.7,414.8V440.8M461.0,414.8h5.3M461.0,440.8h5.3M468.8,419.8V446.4M466.1,419.8h5.3M466.1,446.4h5.3M474.3,427.8V452.6M471.7,427.8h5.3M471.7,452.6h5.3M482.6,419.2V448.3M480.0,419.2h5.3M480.0,448.3h5.3M478.9,420.4V453.2M476.3,420.4h5.3M476.3,453.2h5.3M488.2,419.2V449.5M485.6,419.2h5.3M485.6,449.5h5.3M486.6,419.8V456.9M484.0,419.8h5.3M484.0,456.9h5.3M481.4,428.4V459.4M478.8,428.4h5.3M478.8,459.4h5.3M481.4,435.9V466.6M478.8,435.9h5.3M478.8,466.6h5.3M488.0,442.1V469.3M485.3,442.1h5.3M485.3,469.3h5.3M489.5,450.7V481.7M486.8,450.7h5.3M486.8,481.7h5.3M494.4,442.1V484.2M491.8,442.1h5.3M491.8,484.2h5.3M498.8,428.9V482.2M496.1,428.9h5.3M496.1,482.2h5.3M490.8,457.5V507.7M488.2,457.5h5.3M488.2,507.7h5.3M496.4,468.7V528.9M493.8,468.7h5.3M493.8,528.9h5.3M505.5,458.3V540.3M502.8,458.3h5.3M502.8,540.3h5.3M514.2,433.6V488.6M511.6,433.6h5.3M511.6,488.6h5.3M514.4,454.3V538.7M511.8,454.3h5.3M511.8,538.7h5.3M513.9,475.8V545.1M511.3,475.8h5.3M511.3,545.1h5.3M499.9,519.3V594.2M497.3,519.3h5.3M497.3,594.2h5.3M546.4,447.2V499.2M543.8,447.2h5.3M543.8,499.2h5.3M551.2,469.8V555.5M548.5,469.8h5.3M548.5,555.5h5.3M596.3,477.4V550.4M593.6,477.4h5.3M593.6,550.4h5.3" fill="none" stroke="#1c1c1c" stroke-width="1.0"/>
<circle cx="442.4" cy="422.9" r="5.15" fill="#d04545" stroke="#0a0a0a" stroke-width="1.15"/>
<circle cx="439.3" cy="417.5" r="5.15" fill="#f37819" stroke="#0a0a0a" stroke-width="1.15"/>
<circle cx="439.3" cy="427.0" r="5.15" fill="#f8890c" stroke="#0a0a0a" stroke-width="1.15"/>
<circle cx="444.6" cy="444.5" r="5.15" fill="#ab2f5e" stroke="#0a0a0a" stroke-width="1.15"/>
<circle cx="454.8" cy="454.2" r="5.15" fill="#8c2369" stroke="#0a0a0a" stroke-width="1.15"/>
<circle cx="438.9" cy="450.7" r="5.15" fill="#b3325a" stroke="#0a0a0a" stroke-width="1.15"/>
<circle cx="447.3" cy="456.9" r="5.15" fill="#ba3655" stroke="#0a0a0a" stroke-width="1.15"/>
<circle cx="448.3" cy="452.6" r="5.15" fill="#b3325a" stroke="#0a0a0a" stroke-width="1.15"/>
<circle cx="439.3" cy="454.2" r="5.15" fill="#c33b4f" stroke="#0a0a0a" stroke-width="1.15"/>
<circle cx="452.3" cy="466.2" r="5.15" fill="#ca404a" stroke="#0a0a0a" stroke-width="1.15"/>
<circle cx="447.6" cy="466.8" r="5.15" fill="#a32c61" stroke="#0a0a0a" stroke-width="1.15"/>
<circle cx="447.7" cy="474.3" r="5.15" fill="#c33b4f" stroke="#0a0a0a" stroke-width="1.15"/>
<circle cx="452.5" cy="484.2" r="5.15" fill="#0a0722" stroke="#0a0a0a" stroke-width="1.15"/>
<circle cx="449.8" cy="482.9" r="5.15" fill="#d04545" stroke="#0a0a0a" stroke-width="1.15"/>
<circle cx="444.6" cy="482.3" r="5.15" fill="#62146e" stroke="#0a0a0a" stroke-width="1.15"/>
<circle cx="444.9" cy="494.1" r="5.15" fill="#420a68" stroke="#0a0a0a" stroke-width="1.15"/>
<circle cx="453.5" cy="421.6" r="5.15" fill="#fcae12" stroke="#0a0a0a" stroke-width="1.15"/>
<circle cx="454.2" cy="426.2" r="5.15" fill="#f68013" stroke="#0a0a0a" stroke-width="1.15"/>
<circle cx="454.2" cy="434.6" r="5.15" fill="#fb9b06" stroke="#0a0a0a" stroke-width="1.15"/>
<circle cx="458.2" cy="442.7" r="5.15" fill="#fb9b06" stroke="#0a0a0a" stroke-width="1.15"/>
<circle cx="465.9" cy="421.6" r="5.15" fill="#eb6628" stroke="#0a0a0a" stroke-width="1.15"/>
<circle cx="467.2" cy="424.1" r="5.15" fill="#f06f20" stroke="#0a0a0a" stroke-width="1.15"/>
<circle cx="468.4" cy="429.7" r="5.15" fill="#f37819" stroke="#0a0a0a" stroke-width="1.15"/>
<circle cx="463.7" cy="427.0" r="5.15" fill="#eb6628" stroke="#0a0a0a" stroke-width="1.15"/>
<circle cx="468.8" cy="434.9" r="5.15" fill="#eb6628" stroke="#0a0a0a" stroke-width="1.15"/>
<circle cx="474.3" cy="440.2" r="5.15" fill="#fa9207" stroke="#0a0a0a" stroke-width="1.15"/>
<circle cx="482.6" cy="433.4" r="5.15" fill="#fbba1f" stroke="#0a0a0a" stroke-width="1.15"/>
<circle cx="478.9" cy="437.1" r="5.15" fill="#f37819" stroke="#0a0a0a" stroke-width="1.15"/>
<circle cx="488.2" cy="434.0" r="5.15" fill="#f8890c" stroke="#0a0a0a" stroke-width="1.15"/>
<circle cx="486.6" cy="438.4" r="5.15" fill="#f37819" stroke="#0a0a0a" stroke-width="1.15"/>
<circle cx="481.4" cy="444.5" r="5.15" fill="#fbba1f" stroke="#0a0a0a" stroke-width="1.15"/>
<circle cx="481.4" cy="451.1" r="5.15" fill="#fb9b06" stroke="#0a0a0a" stroke-width="1.15"/>
<circle cx="488.0" cy="455.9" r="5.15" fill="#fa9207" stroke="#0a0a0a" stroke-width="1.15"/>
<circle cx="489.5" cy="466.2" r="5.15" fill="#fb9b06" stroke="#0a0a0a" stroke-width="1.15"/>
<circle cx="494.4" cy="462.9" r="5.15" fill="#fca50a" stroke="#0a0a0a" stroke-width="1.15"/>
<circle cx="498.8" cy="455.4" r="5.15" fill="#fb9b06" stroke="#0a0a0a" stroke-width="1.15"/>
<circle cx="490.8" cy="478.7" r="5.15" fill="#fa9207" stroke="#0a0a0a" stroke-width="1.15"/>
<circle cx="496.4" cy="498.4" r="5.15" fill="#fa9207" stroke="#0a0a0a" stroke-width="1.15"/>
<circle cx="505.5" cy="499.2" r="5.15" fill="#fa9207" stroke="#0a0a0a" stroke-width="1.15"/>
<circle cx="514.2" cy="461.2" r="5.15" fill="#f68013" stroke="#0a0a0a" stroke-width="1.15"/>
<circle cx="514.4" cy="496.5" r="5.15" fill="#f8890c" stroke="#0a0a0a" stroke-width="1.15"/>
<circle cx="513.9" cy="510.6" r="5.15" fill="#eb6628" stroke="#0a0a0a" stroke-width="1.15"/>
<circle cx="499.9" cy="556.7" r="5.15" fill="#62146e" stroke="#0a0a0a" stroke-width="1.15"/>
<circle cx="546.4" cy="473.1" r="5.15" fill="#fa9207" stroke="#0a0a0a" stroke-width="1.15"/>
<circle cx="551.2" cy="512.5" r="5.15" fill="#f8890c" stroke="#0a0a0a" stroke-width="1.15"/>
<circle cx="596.3" cy="514.1" r="5.15" fill="#f68013" stroke="#0a0a0a" stroke-width="1.15"/>
</g>
<rect x="436.1" y="389.6" width="319.0" height="312.6" fill="none" stroke="#7a7a7a" stroke-width="1.4"/>
<path d="M499.9,702.2v-3.5M499.9,389.6v3.5M563.8,702.2v-3.5M563.8,389.6v3.5M627.5,702.2v-3.5M627.5,389.6v3.5M691.4,702.2v-3.5M691.4,389.6v3.5M436.1,639.7h3.5M755.1,639.7h-3.5M436.1,577.2h3.5M755.1,577.2h-3.5M436.1,514.7h3.5M755.1,514.7h-3.5M436.1,452.2h3.5M755.1,452.2h-3.5" fill="none" stroke="#7a7a7a" stroke-width="1.1"/>
<text transform="translate(678.3,422.3)" font-size="30.2" text-anchor="start">(b-2)</text>
<text transform="translate(691.1,481.8) scale(1,1.07)" font-size="21.25" text-anchor="start"><tspan font-style="italic">Q</tspan>=0.5</text>
<text transform="translate(691.1,546.8) scale(1,1.07)" font-size="21.25" text-anchor="start"><tspan font-style="italic">Q</tspan>=1.0</text>
<text transform="translate(691.1,592.6) scale(1,1.07)" font-size="21.25" text-anchor="start"><tspan font-style="italic">Q</tspan>=1.5</text>
<text transform="translate(691.1,624.9) scale(1,1.07)" font-size="21.25" text-anchor="start"><tspan font-style="italic">Q</tspan>=2.0</text>
</g>
<g>
<clipPath id="cp12"><rect x="768.0" y="389.6" width="319.0" height="312.6"/></clipPath>
<path d="M768.0,389.6 L771.2,391.8 L774.4,393.8 L777.6,395.9 L780.8,398.0 L784.0,400.0 L787.2,402.1 L790.4,404.1 L793.6,406.1 L796.8,408.1 L799.9,410.1 L803.1,412.0 L806.3,414.0 L809.5,415.9 L812.7,417.9 L815.9,419.8 L819.1,421.7 L822.3,423.6 L825.5,425.5 L828.7,427.3 L831.8,429.2 L835.0,431.0 L838.2,432.8 L841.4,434.6 L844.6,436.4 L847.8,438.2 L851.0,440.0 L854.2,441.8 L857.4,443.5 L860.6,445.3 L863.8,447.0 L866.9,448.7 L870.1,450.4 L873.3,452.1 L876.5,453.8 L879.7,455.5 L882.9,457.2 L886.1,458.8 L889.3,460.4 L892.5,462.1 L895.6,463.7 L898.8,465.3 L902.0,466.9 L905.2,468.5 L908.4,470.0 L911.6,471.6 L914.8,473.2 L918.0,474.7 L921.2,476.2 L924.4,477.8 L927.5,479.3 L930.7,480.8 L933.9,482.3 L937.1,483.7 L940.3,485.2 L943.5,486.7 L946.7,488.1 L949.9,489.6 L953.1,491.0 L956.3,492.4 L959.4,493.8 L962.6,495.2 L965.8,496.6 L969.0,498.0 L972.2,499.4 L975.4,500.8 L978.6,502.1 L981.8,503.5 L985.0,504.8 L988.2,506.1 L991.3,507.5 L994.5,508.8 L997.7,510.1 L1000.9,511.4 L1004.1,512.7 L1007.3,513.9 L1010.5,515.2 L1013.7,516.5 L1016.9,517.7 L1020.1,519.0 L1023.2,520.2 L1026.4,521.4 L1029.6,522.6 L1032.8,523.8 L1036.0,525.0 L1039.2,526.2 L1042.4,527.4 L1045.6,528.6 L1048.8,529.8 L1052.0,530.9 L1055.2,532.1 L1058.3,533.2 L1061.5,534.4 L1064.7,535.5 L1067.9,536.6 L1071.1,537.7 L1074.3,538.8 L1077.5,539.9 L1080.7,541.0 L1083.9,542.1 L1087.0,543.2" fill="none" stroke="#242424" stroke-width="1.1"/>
<path d="M768.0,389.6 L771.2,393.8 L774.4,398.0 L777.6,402.1 L780.8,406.1 L784.0,410.1 L787.2,414.0 L790.4,417.9 L793.6,421.7 L796.8,425.5 L799.9,429.2 L803.1,432.8 L806.3,436.4 L809.5,440.0 L812.7,443.5 L815.9,447.0 L819.1,450.4 L822.3,453.8 L825.5,457.2 L828.7,460.4 L831.8,463.7 L835.0,466.9 L838.2,470.0 L841.4,473.2 L844.6,476.2 L847.8,479.3 L851.0,482.3 L854.2,485.2 L857.4,488.1 L860.6,491.0 L863.8,493.8 L866.9,496.6 L870.1,499.4 L873.3,502.1 L876.5,504.8 L879.7,507.5 L882.9,510.1 L886.1,512.7 L889.3,515.2 L892.5,517.7 L895.6,520.2 L898.8,522.6 L902.0,525.0 L905.2,527.4 L908.4,529.8 L911.6,532.1 L914.8,534.4 L918.0,536.6 L921.2,538.8 L924.4,541.0 L927.5,543.2 L930.7,545.3 L933.9,547.4 L937.1,549.5 L940.3,551.6 L943.5,553.6 L946.7,555.6 L949.9,557.6 L953.1,559.5 L956.3,561.4 L959.4,563.3 L962.6,565.2 L965.8,567.0 L969.0,568.8 L972.2,570.6 L975.4,572.4 L978.6,574.1 L981.8,575.8 L985.0,577.5 L988.2,579.2 L991.3,580.9 L994.5,582.5 L997.7,584.1 L1000.9,585.7 L1004.1,587.3 L1007.3,588.8 L1010.5,590.3 L1013.7,591.8 L1016.9,593.3 L1020.1,594.8 L1023.2,596.2 L1026.4,597.6 L1029.6,599.0 L1032.8,600.4 L1036.0,601.8 L1039.2,603.1 L1042.4,604.5 L1045.6,605.8 L1048.8,607.1 L1052.0,608.4 L1055.2,609.6 L1058.3,610.9 L1061.5,612.1 L1064.7,613.3 L1067.9,614.5 L1071.1,615.7 L1074.3,616.8 L1077.5,618.0 L1080.7,619.1 L1083.9,620.2 L1087.0,621.3" fill="none" stroke="#242424" stroke-width="1.1"/>
<path d="M768.0,389.6 L771.2,395.9 L774.4,402.1 L777.6,408.1 L780.8,414.0 L784.0,419.8 L787.2,425.5 L790.4,431.0 L793.6,436.4 L796.8,441.8 L799.9,447.0 L803.1,452.1 L806.3,457.2 L809.5,462.1 L812.7,466.9 L815.9,471.6 L819.1,476.2 L822.3,480.8 L825.5,485.2 L828.7,489.6 L831.8,493.8 L835.0,498.0 L838.2,502.1 L841.4,506.1 L844.6,510.1 L847.8,513.9 L851.0,517.7 L854.2,521.4 L857.4,525.0 L860.6,528.6 L863.8,532.1 L866.9,535.5 L870.1,538.8 L873.3,542.1 L876.5,545.3 L879.7,548.5 L882.9,551.6 L886.1,554.6 L889.3,557.6 L892.5,560.5 L895.6,563.3 L898.8,566.1 L902.0,568.8 L905.2,571.5 L908.4,574.1 L911.6,576.7 L914.8,579.2 L918.0,581.7 L921.2,584.1 L924.4,586.5 L927.5,588.8 L930.7,591.1 L933.9,593.3 L937.1,595.5 L940.3,597.6 L943.5,599.7 L946.7,601.8 L949.9,603.8 L953.1,605.8 L956.3,607.7 L959.4,609.6 L962.6,611.5 L965.8,613.3 L969.0,615.1 L972.2,616.8 L975.4,618.5 L978.6,620.2 L981.8,621.9 L985.0,623.5 L988.2,625.1 L991.3,626.6 L994.5,628.1 L997.7,629.6 L1000.9,631.1 L1004.1,632.5 L1007.3,633.9 L1010.5,635.3 L1013.7,636.6 L1016.9,637.9 L1020.1,639.2 L1023.2,640.5 L1026.4,641.7 L1029.6,642.9 L1032.8,644.1 L1036.0,645.3 L1039.2,646.4 L1042.4,647.6 L1045.6,648.7 L1048.8,649.7 L1052.0,650.8 L1055.2,651.8 L1058.3,652.8 L1061.5,653.8 L1064.7,654.8 L1067.9,655.8 L1071.1,656.7 L1074.3,657.6 L1077.5,658.5 L1080.7,659.4 L1083.9,660.2 L1087.0,661.1" fill="none" stroke="#242424" stroke-width="1.1"/>
<path d="M768.0,389.6 L771.2,398.0 L774.4,406.1 L777.6,414.0 L780.8,421.7 L784.0,429.2 L787.2,436.4 L790.4,443.5 L793.6,450.4 L796.8,457.2 L799.9,463.7 L803.1,470.0 L806.3,476.2 L809.5,482.3 L812.7,488.1 L815.9,493.8 L819.1,499.4 L822.3,504.8 L825.5,510.1 L828.7,515.2 L831.8,520.2 L835.0,525.0 L838.2,529.8 L841.4,534.4 L844.6,538.8 L847.8,543.2 L851.0,547.4 L854.2,551.6 L857.4,555.6 L860.6,559.5 L863.8,563.3 L866.9,567.0 L870.1,570.6 L873.3,574.1 L876.5,577.5 L879.7,580.9 L882.9,584.1 L886.1,587.3 L889.3,590.3 L892.5,593.3 L895.6,596.2 L898.8,599.0 L902.0,601.8 L905.2,604.5 L908.4,607.1 L911.6,609.6 L914.8,612.1 L918.0,614.5 L921.2,616.8 L924.4,619.1 L927.5,621.3 L930.7,623.5 L933.9,625.6 L937.1,627.6 L940.3,629.6 L943.5,631.6 L946.7,633.4 L949.9,635.3 L953.1,637.1 L956.3,638.8 L959.4,640.5 L962.6,642.1 L965.8,643.7 L969.0,645.3 L972.2,646.8 L975.4,648.3 L978.6,649.7 L981.8,651.1 L985.0,652.5 L988.2,653.8 L991.3,655.1 L994.5,656.4 L997.7,657.6 L1000.9,658.8 L1004.1,659.9 L1007.3,661.1 L1010.5,662.2 L1013.7,663.2 L1016.9,664.3 L1020.1,665.3 L1023.2,666.3 L1026.4,667.2 L1029.6,668.2 L1032.8,669.1 L1036.0,670.0 L1039.2,670.8 L1042.4,671.7 L1045.6,672.5 L1048.8,673.3 L1052.0,674.0 L1055.2,674.8 L1058.3,675.5 L1061.5,676.2 L1064.7,676.9 L1067.9,677.6 L1071.1,678.3 L1074.3,678.9 L1077.5,679.5 L1080.7,680.1 L1083.9,680.7 L1087.0,681.3" fill="none" stroke="#242424" stroke-width="1.1"/>
<g clip-path="url(#cp12)">
<path d="M771.7,410.9V426.0M769.0,410.9h5.3M769.0,426.0h5.3M772.5,416.1V437.1M769.9,416.1h5.3M769.9,437.1h5.3M771.3,413.6V435.9M768.6,413.6h5.3M768.6,435.9h5.3M776.6,430.9V454.5M774.0,430.9h5.3M774.0,454.5h5.3M785.5,450.7V468.1M782.9,450.7h5.3M782.9,468.1h5.3M770.9,435.9V469.3M768.3,435.9h5.3M768.3,469.3h5.3M771.9,442.1V471.8M769.3,442.1h5.3M769.3,471.8h5.3M780.0,445.8V469.3M777.3,445.8h5.3M777.3,469.3h5.3M780.0,439.6V464.4M777.3,439.6h5.3M777.3,464.4h5.3M771.3,437.1V471.8M768.6,437.1h5.3M768.6,471.8h5.3M784.3,460.7V484.2M781.6,460.7h5.3M781.6,484.2h5.3M779.3,466.2V486.7M776.7,466.2h5.3M776.7,486.7h5.3M780.6,469.3V494.1M777.9,469.3h5.3M777.9,494.1h5.3M776.6,468.1V497.8M774.0,468.1h5.3M774.0,497.8h5.3M784.9,479.2V507.7M782.3,479.2h5.3M782.3,507.7h5.3M781.8,479.2V500.3M779.2,479.2h5.3M779.2,500.3h5.3M776.6,476.8V507.7M774.0,476.8h5.3M774.0,507.7h5.3M785.5,421.6V435.9M782.9,421.6h5.3M782.9,435.9h5.3M785.9,422.3V440.8M783.3,422.3h5.3M783.3,440.8h5.3M786.2,433.4V454.5M783.5,433.4h5.3M783.5,454.5h5.3M791.1,443.3V465.6M788.5,443.3h5.3M788.5,465.6h5.3M790.1,440.8V466.8M787.5,440.8h5.3M787.5,466.8h5.3M798.5,422.9V442.1M795.9,422.9h5.3M795.9,442.1h5.3M801.0,424.7V449.5M798.4,424.7h5.3M798.4,449.5h5.3M795.4,426.0V448.3M792.8,426.0h5.3M792.8,448.3h5.3M800.8,432.2V453.2M798.1,432.2h5.3M798.1,453.2h5.3M806.0,442.1V462.5M803.3,442.1h5.3M803.3,462.5h5.3M814.6,434.6V456.9M812.0,434.6h5.3M812.0,456.9h5.3M820.0,436.5V460.7M817.3,436.5h5.3M817.3,460.7h5.3M811.5,444.5V470.6M808.9,444.5h5.3M808.9,470.6h5.3M818.4,437.7V471.8M815.7,437.7h5.3M815.7,471.8h5.3M813.2,450.7V478.6M810.5,450.7h5.3M810.5,478.6h5.3M819.8,456.9V481.7M817.2,456.9h5.3M817.2,481.7h5.3M819.0,463.1V489.1M816.3,463.1h5.3M816.3,489.1h5.3M831.1,455.2V493.4M828.5,455.2h5.3M828.5,493.4h5.3M826.3,458.4V494.2M823.7,458.4h5.3M823.7,494.2h5.3M822.0,468.0V501.4M819.4,468.0h5.3M819.4,501.4h5.3M822.8,479.1V514.1M820.2,479.1h5.3M820.2,514.1h5.3M845.9,461.3V507.0M843.3,461.3h5.3M843.3,507.0h5.3M828.2,491.9V536.1M825.6,491.9h5.3M825.6,536.1h5.3M837.2,492.6V553.2M834.5,492.6h5.3M834.5,553.2h5.3M846.4,504.6V552.4M843.8,504.6h5.3M843.8,552.4h5.3M845.8,507.0V553.2M843.1,507.0h5.3M843.1,553.2h5.3M831.9,546.5V600.1M829.3,546.5h5.3M829.3,600.1h5.3M878.4,472.7V513.0M875.8,472.7h5.3M875.8,513.0h5.3M882.9,504.3V564.8M880.2,504.3h5.3M880.2,564.8h5.3M928.3,505.4V556.8M925.6,505.4h5.3M925.6,556.8h5.3" fill="none" stroke="#1c1c1c" stroke-width="1.0"/>
<circle cx="771.7" cy="416.7" r="5.15" fill="#f37819" stroke="#0a0a0a" stroke-width="1.15"/>
<circle cx="772.5" cy="426.6" r="5.15" fill="#dd513a" stroke="#0a0a0a" stroke-width="1.15"/>
<circle cx="771.3" cy="424.4" r="5.15" fill="#fa9207" stroke="#0a0a0a" stroke-width="1.15"/>
<circle cx="776.6" cy="442.7" r="5.15" fill="#b3325a" stroke="#0a0a0a" stroke-width="1.15"/>
<circle cx="785.5" cy="462.5" r="5.15" fill="#84206b" stroke="#0a0a0a" stroke-width="1.15"/>
<circle cx="770.9" cy="449.5" r="5.15" fill="#b3325a" stroke="#0a0a0a" stroke-width="1.15"/>
<circle cx="771.9" cy="456.3" r="5.15" fill="#d04545" stroke="#0a0a0a" stroke-width="1.15"/>
<circle cx="780.0" cy="457.6" r="5.15" fill="#ba3655" stroke="#0a0a0a" stroke-width="1.15"/>
<circle cx="780.0" cy="452.2" r="5.15" fill="#ba3655" stroke="#0a0a0a" stroke-width="1.15"/>
<circle cx="771.3" cy="452.2" r="5.15" fill="#ca404a" stroke="#0a0a0a" stroke-width="1.15"/>
<circle cx="784.3" cy="471.8" r="5.15" fill="#ca404a" stroke="#0a0a0a" stroke-width="1.15"/>
<circle cx="779.3" cy="473.0" r="5.15" fill="#ab2f5e" stroke="#0a0a0a" stroke-width="1.15"/>
<circle cx="780.6" cy="482.9" r="5.15" fill="#d04545" stroke="#0a0a0a" stroke-width="1.15"/>
<circle cx="776.6" cy="481.7" r="5.15" fill="#7c1d6d" stroke="#0a0a0a" stroke-width="1.15"/>
<circle cx="784.9" cy="491.6" r="5.15" fill="#160b39" stroke="#0a0a0a" stroke-width="1.15"/>
<circle cx="781.8" cy="489.1" r="5.15" fill="#d74b3f" stroke="#0a0a0a" stroke-width="1.15"/>
<circle cx="776.6" cy="491.6" r="5.15" fill="#520e6d" stroke="#0a0a0a" stroke-width="1.15"/>
<circle cx="785.5" cy="426.6" r="5.15" fill="#fcae12" stroke="#0a0a0a" stroke-width="1.15"/>
<circle cx="785.9" cy="431.3" r="5.15" fill="#f8890c" stroke="#0a0a0a" stroke-width="1.15"/>
<circle cx="786.2" cy="443.9" r="5.15" fill="#fca50a" stroke="#0a0a0a" stroke-width="1.15"/>
<circle cx="791.1" cy="453.8" r="5.15" fill="#f06f20" stroke="#0a0a0a" stroke-width="1.15"/>
<circle cx="790.1" cy="452.0" r="5.15" fill="#fb9b06" stroke="#0a0a0a" stroke-width="1.15"/>
<circle cx="798.5" cy="430.9" r="5.15" fill="#f37819" stroke="#0a0a0a" stroke-width="1.15"/>
<circle cx="801.0" cy="438.4" r="5.15" fill="#fa9207" stroke="#0a0a0a" stroke-width="1.15"/>
<circle cx="795.4" cy="436.9" r="5.15" fill="#f06f20" stroke="#0a0a0a" stroke-width="1.15"/>
<circle cx="800.8" cy="443.6" r="5.15" fill="#f06f20" stroke="#0a0a0a" stroke-width="1.15"/>
<circle cx="806.0" cy="452.0" r="5.15" fill="#fca50a" stroke="#0a0a0a" stroke-width="1.15"/>
<circle cx="814.6" cy="444.5" r="5.15" fill="#fbba1f" stroke="#0a0a0a" stroke-width="1.15"/>
<circle cx="820.0" cy="448.3" r="5.15" fill="#fb9b06" stroke="#0a0a0a" stroke-width="1.15"/>
<circle cx="811.5" cy="457.6" r="5.15" fill="#fbba1f" stroke="#0a0a0a" stroke-width="1.15"/>
<circle cx="818.4" cy="455.3" r="5.15" fill="#f68013" stroke="#0a0a0a" stroke-width="1.15"/>
<circle cx="813.2" cy="465.0" r="5.15" fill="#fb9b06" stroke="#0a0a0a" stroke-width="1.15"/>
<circle cx="819.8" cy="469.1" r="5.15" fill="#fb9b06" stroke="#0a0a0a" stroke-width="1.15"/>
<circle cx="819.0" cy="476.1" r="5.15" fill="#fa9207" stroke="#0a0a0a" stroke-width="1.15"/>
<circle cx="831.1" cy="474.3" r="5.15" fill="#fca50a" stroke="#0a0a0a" stroke-width="1.15"/>
<circle cx="826.3" cy="476.7" r="5.15" fill="#fcae12" stroke="#0a0a0a" stroke-width="1.15"/>
<circle cx="822.0" cy="484.7" r="5.15" fill="#fca50a" stroke="#0a0a0a" stroke-width="1.15"/>
<circle cx="822.8" cy="495.4" r="5.15" fill="#fb9b06" stroke="#0a0a0a" stroke-width="1.15"/>
<circle cx="845.9" cy="484.2" r="5.15" fill="#fa9207" stroke="#0a0a0a" stroke-width="1.15"/>
<circle cx="828.2" cy="515.7" r="5.15" fill="#fa9207" stroke="#0a0a0a" stroke-width="1.15"/>
<circle cx="837.2" cy="522.9" r="5.15" fill="#fa9207" stroke="#0a0a0a" stroke-width="1.15"/>
<circle cx="846.4" cy="519.7" r="5.15" fill="#fa9207" stroke="#0a0a0a" stroke-width="1.15"/>
<circle cx="845.8" cy="528.5" r="5.15" fill="#e75e2e" stroke="#0a0a0a" stroke-width="1.15"/>
<circle cx="831.9" cy="573.4" r="5.15" fill="#62146e" stroke="#0a0a0a" stroke-width="1.15"/>
<circle cx="878.4" cy="493.1" r="5.15" fill="#fa9207" stroke="#0a0a0a" stroke-width="1.15"/>
<circle cx="882.9" cy="534.5" r="5.15" fill="#f8890c" stroke="#0a0a0a" stroke-width="1.15"/>
<circle cx="928.3" cy="530.9" r="5.15" fill="#f68013" stroke="#0a0a0a" stroke-width="1.15"/>
</g>
<rect x="768.0" y="389.6" width="319.0" height="312.6" fill="none" stroke="#7a7a7a" stroke-width="1.4"/>
<path d="M831.8,702.2v-3.5M831.8,389.6v3.5M895.6,702.2v-3.5M895.6,389.6v3.5M959.4,702.2v-3.5M959.4,389.6v3.5M1023.2,702.2v-3.5M1023.2,389.6v3.5M768.0,639.7h3.5M1087.0,639.7h-3.5M768.0,577.2h3.5M1087.0,577.2h-3.5M768.0,514.7h3.5M1087.0,514.7h-3.5M768.0,452.2h3.5M1087.0,452.2h-3.5" fill="none" stroke="#7a7a7a" stroke-width="1.1"/>
<text transform="translate(1014.4,422.3)" font-size="30.2" text-anchor="start">(b-3)</text>
<text transform="translate(1023.0,520.2) scale(1,1.07)" font-size="21.25" text-anchor="start"><tspan font-style="italic">Q</tspan>=0.5</text>
<text transform="translate(1023.0,596.2) scale(1,1.07)" font-size="21.25" text-anchor="start"><tspan font-style="italic">Q</tspan>=1.0</text>
<text transform="translate(1023.0,640.5) scale(1,1.07)" font-size="21.25" text-anchor="start"><tspan font-style="italic">Q</tspan>=1.5</text>
<text transform="translate(1023.0,666.3) scale(1,1.07)" font-size="21.25" text-anchor="start"><tspan font-style="italic">Q</tspan>=2.0</text>
</g>
<g>
<clipPath id="cp13"><rect x="1099.9" y="389.6" width="319.0" height="312.6"/></clipPath>
<path d="M1099.9,389.6 L1103.1,392.4 L1106.3,395.1 L1109.5,397.7 L1112.7,400.4 L1115.9,403.0 L1119.1,405.6 L1122.3,408.2 L1125.5,410.7 L1128.7,413.3 L1131.8,415.8 L1135.0,418.3 L1138.2,420.7 L1141.4,423.2 L1144.6,425.6 L1147.8,428.0 L1151.0,430.4 L1154.2,432.7 L1157.4,435.1 L1160.6,437.4 L1163.7,439.7 L1166.9,442.0 L1170.1,444.2 L1173.3,446.5 L1176.5,448.7 L1179.7,450.9 L1182.9,453.1 L1186.1,455.3 L1189.3,457.4 L1192.5,459.5 L1195.6,461.6 L1198.8,463.7 L1202.0,465.8 L1205.2,467.8 L1208.4,469.9 L1211.6,471.9 L1214.8,473.9 L1218.0,475.9 L1221.2,477.9 L1224.4,479.8 L1227.5,481.7 L1230.7,483.6 L1233.9,485.5 L1237.1,487.4 L1240.3,489.3 L1243.5,491.1 L1246.7,493.0 L1249.9,494.8 L1253.1,496.6 L1256.3,498.4 L1259.4,500.2 L1262.6,501.9 L1265.8,503.7 L1269.0,505.4 L1272.2,507.1 L1275.4,508.8 L1278.6,510.5 L1281.8,512.1 L1285.0,513.8 L1288.2,515.4 L1291.3,517.0 L1294.5,518.6 L1297.7,520.2 L1300.9,521.8 L1304.1,523.4 L1307.3,524.9 L1310.5,526.5 L1313.7,528.0 L1316.9,529.5 L1320.1,531.0 L1323.2,532.5 L1326.4,534.0 L1329.6,535.4 L1332.8,536.9 L1336.0,538.3 L1339.2,539.8 L1342.4,541.2 L1345.6,542.6 L1348.8,544.0 L1352.0,545.3 L1355.1,546.7 L1358.3,548.0 L1361.5,549.4 L1364.7,550.7 L1367.9,552.0 L1371.1,553.3 L1374.3,554.6 L1377.5,555.9 L1380.7,557.2 L1383.9,558.4 L1387.0,559.7 L1390.2,560.9 L1393.4,562.2 L1396.6,563.4 L1399.8,564.6 L1403.0,565.8 L1406.2,567.0 L1409.4,568.1 L1412.6,569.3 L1415.8,570.5 L1418.9,571.6" fill="none" stroke="#242424" stroke-width="1.1"/>
<path d="M1099.9,389.6 L1103.1,395.1 L1106.3,400.4 L1109.5,405.6 L1112.7,410.7 L1115.9,415.8 L1119.1,420.7 L1122.3,425.6 L1125.5,430.4 L1128.7,435.1 L1131.8,439.7 L1135.0,444.2 L1138.2,448.7 L1141.4,453.1 L1144.6,457.4 L1147.8,461.6 L1151.0,465.8 L1154.2,469.9 L1157.4,473.9 L1160.6,477.9 L1163.7,481.7 L1166.9,485.5 L1170.1,489.3 L1173.3,493.0 L1176.5,496.6 L1179.7,500.2 L1182.9,503.7 L1186.1,507.1 L1189.3,510.5 L1192.5,513.8 L1195.6,517.0 L1198.8,520.2 L1202.0,523.4 L1205.2,526.5 L1208.4,529.5 L1211.6,532.5 L1214.8,535.4 L1218.0,538.3 L1221.2,541.2 L1224.4,544.0 L1227.5,546.7 L1230.7,549.4 L1233.9,552.0 L1237.1,554.6 L1240.3,557.2 L1243.5,559.7 L1246.7,562.2 L1249.9,564.6 L1253.1,567.0 L1256.3,569.3 L1259.4,571.6 L1262.6,573.9 L1265.8,576.1 L1269.0,578.3 L1272.2,580.4 L1275.4,582.5 L1278.6,584.6 L1281.8,586.6 L1285.0,588.6 L1288.2,590.6 L1291.3,592.5 L1294.5,594.4 L1297.7,596.3 L1300.9,598.1 L1304.1,599.9 L1307.3,601.7 L1310.5,603.4 L1313.7,605.1 L1316.9,606.8 L1320.1,608.5 L1323.2,610.1 L1326.4,611.7 L1329.6,613.2 L1332.8,614.8 L1336.0,616.3 L1339.2,617.8 L1342.4,619.2 L1345.6,620.7 L1348.8,622.1 L1352.0,623.5 L1355.1,624.8 L1358.3,626.2 L1361.5,627.5 L1364.7,628.8 L1367.9,630.1 L1371.1,631.3 L1374.3,632.5 L1377.5,633.7 L1380.7,634.9 L1383.9,636.1 L1387.0,637.2 L1390.2,638.4 L1393.4,639.5 L1396.6,640.5 L1399.8,641.6 L1403.0,642.7 L1406.2,643.7 L1409.4,644.7 L1412.6,645.7 L1415.8,646.7 L1418.9,647.6" fill="none" stroke="#242424" stroke-width="1.1"/>
<path d="M1099.9,389.6 L1103.1,397.7 L1106.3,405.6 L1109.5,413.3 L1112.7,420.7 L1115.9,428.0 L1119.1,435.1 L1122.3,442.0 L1125.5,448.7 L1128.7,455.3 L1131.8,461.6 L1135.0,467.8 L1138.2,473.9 L1141.4,479.8 L1144.6,485.5 L1147.8,491.1 L1151.0,496.6 L1154.2,501.9 L1157.4,507.1 L1160.6,512.1 L1163.7,517.0 L1166.9,521.8 L1170.1,526.5 L1173.3,531.0 L1176.5,535.4 L1179.7,539.8 L1182.9,544.0 L1186.1,548.0 L1189.3,552.0 L1192.5,555.9 L1195.6,559.7 L1198.8,563.4 L1202.0,567.0 L1205.2,570.5 L1208.4,573.9 L1211.6,577.2 L1214.8,580.4 L1218.0,583.6 L1221.2,586.6 L1224.4,589.6 L1227.5,592.5 L1230.7,595.3 L1233.9,598.1 L1237.1,600.8 L1240.3,603.4 L1243.5,606.0 L1246.7,608.5 L1249.9,610.9 L1253.1,613.2 L1256.3,615.5 L1259.4,617.8 L1262.6,620.0 L1265.8,622.1 L1269.0,624.2 L1272.2,626.2 L1275.4,628.1 L1278.6,630.1 L1281.8,631.9 L1285.0,633.7 L1288.2,635.5 L1291.3,637.2 L1294.5,638.9 L1297.7,640.5 L1300.9,642.1 L1304.1,643.7 L1307.3,645.2 L1310.5,646.7 L1313.7,648.1 L1316.9,649.5 L1320.1,650.9 L1323.2,652.2 L1326.4,653.5 L1329.6,654.8 L1332.8,656.0 L1336.0,657.2 L1339.2,658.3 L1342.4,659.5 L1345.6,660.6 L1348.8,661.7 L1352.0,662.7 L1355.1,663.7 L1358.3,664.7 L1361.5,665.7 L1364.7,666.6 L1367.9,667.6 L1371.1,668.5 L1374.3,669.3 L1377.5,670.2 L1380.7,671.0 L1383.9,671.8 L1387.0,672.6 L1390.2,673.4 L1393.4,674.1 L1396.6,674.8 L1399.8,675.5 L1403.0,676.2 L1406.2,676.9 L1409.4,677.6 L1412.6,678.2 L1415.8,678.8 L1418.9,679.4" fill="none" stroke="#242424" stroke-width="1.1"/>
<path d="M1099.9,389.6 L1103.1,400.4 L1106.3,410.7 L1109.5,420.7 L1112.7,430.4 L1115.9,439.7 L1119.1,448.7 L1122.3,457.4 L1125.5,465.8 L1128.7,473.9 L1131.8,481.7 L1135.0,489.3 L1138.2,496.6 L1141.4,503.7 L1144.6,510.5 L1147.8,517.0 L1151.0,523.4 L1154.2,529.5 L1157.4,535.4 L1160.6,541.2 L1163.7,546.7 L1166.9,552.0 L1170.1,557.2 L1173.3,562.2 L1176.5,567.0 L1179.7,571.6 L1182.9,576.1 L1186.1,580.4 L1189.3,584.6 L1192.5,588.6 L1195.6,592.5 L1198.8,596.3 L1202.0,599.9 L1205.2,603.4 L1208.4,606.8 L1211.6,610.1 L1214.8,613.2 L1218.0,616.3 L1221.2,619.2 L1224.4,622.1 L1227.5,624.8 L1230.7,627.5 L1233.9,630.1 L1237.1,632.5 L1240.3,634.9 L1243.5,637.2 L1246.7,639.5 L1249.9,641.6 L1253.1,643.7 L1256.3,645.7 L1259.4,647.6 L1262.6,649.5 L1265.8,651.3 L1269.0,653.1 L1272.2,654.8 L1275.4,656.4 L1278.6,658.0 L1281.8,659.5 L1285.0,660.9 L1288.2,662.4 L1291.3,663.7 L1294.5,665.0 L1297.7,666.3 L1300.9,667.6 L1304.1,668.7 L1307.3,669.9 L1310.5,671.0 L1313.7,672.1 L1316.9,673.1 L1320.1,674.1 L1323.2,675.1 L1326.4,676.0 L1329.6,676.9 L1332.8,677.8 L1336.0,678.6 L1339.2,679.4 L1342.4,680.2 L1345.6,681.0 L1348.8,681.7 L1352.0,682.4 L1355.1,683.1 L1358.3,683.7 L1361.5,684.4 L1364.7,685.0 L1367.9,685.6 L1371.1,686.1 L1374.3,686.7 L1377.5,687.2 L1380.7,687.7 L1383.9,688.2 L1387.0,688.7 L1390.2,689.2 L1393.4,689.6 L1396.6,690.1 L1399.8,690.5 L1403.0,690.9 L1406.2,691.3 L1409.4,691.7 L1412.6,692.0 L1415.8,692.4 L1418.9,692.7" fill="none" stroke="#242424" stroke-width="1.1"/>
<g clip-path="url(#cp13)">
<path d="M1103.7,408.6V426.0M1101.0,408.6h5.3M1101.0,426.0h5.3M1104.2,417.3V437.1M1101.5,417.3h5.3M1101.5,437.1h5.3M1103.3,412.3V430.9M1100.6,412.3h5.3M1100.6,430.9h5.3M1108.6,428.4V448.3M1106.0,428.4h5.3M1106.0,448.3h5.3M1103.9,442.1V461.9M1101.3,442.1h5.3M1101.3,461.9h5.3M1103.3,434.6V461.3M1100.6,434.6h5.3M1100.6,461.3h5.3M1112.0,438.4V459.4M1109.3,438.4h5.3M1109.3,459.4h5.3M1111.1,447.0V464.4M1108.4,447.0h5.3M1108.4,464.4h5.3M1119.4,461.9V476.1M1116.7,461.9h5.3M1116.7,476.1h5.3M1116.3,460.7V481.7M1113.6,460.7h5.3M1113.6,481.7h5.3M1112.0,464.4V484.2M1109.3,464.4h5.3M1109.3,484.2h5.3M1113.8,474.3V492.9M1111.2,474.3h5.3M1111.2,492.9h5.3M1108.6,469.3V489.1M1106.0,469.3h5.3M1106.0,489.1h5.3M1113.8,480.5V500.9M1111.2,480.5h5.3M1111.2,500.9h5.3M1108.6,480.5V500.9M1106.0,480.5h5.3M1106.0,500.9h5.3M1115.7,494.1V525.4M1113.0,494.1h5.3M1113.0,525.4h5.3M1117.5,426.6V444.5M1114.9,426.6h5.3M1114.9,444.5h5.3M1117.9,428.4V448.3M1115.3,428.4h5.3M1115.3,448.3h5.3M1118.8,447.0V464.4M1116.1,447.0h5.3M1116.1,464.4h5.3M1123.7,456.9V474.3M1121.1,456.9h5.3M1121.1,474.3h5.3M1121.9,450.7V474.3M1119.2,450.7h5.3M1119.2,474.3h5.3M1130.2,435.3V452.0M1127.5,435.3h5.3M1127.5,452.0h5.3M1133.0,438.4V461.9M1130.4,438.4h5.3M1130.4,461.9h5.3M1127.2,438.4V459.4M1124.5,438.4h5.3M1124.5,459.4h5.3M1132.8,444.5V461.9M1130.1,444.5h5.3M1130.1,461.9h5.3M1138.0,459.4V479.2M1135.3,459.4h5.3M1135.3,479.2h5.3M1147.0,451.7V474.3M1144.4,451.7h5.3M1144.4,474.3h5.3M1144.2,461.9V484.2M1141.5,461.9h5.3M1141.5,484.2h5.3M1151.8,455.4V479.2M1149.2,455.4h5.3M1149.2,479.2h5.3M1150.7,464.4V487.9M1148.1,464.4h5.3M1148.1,487.9h5.3M1145.2,469.3V493.7M1142.5,469.3h5.3M1142.5,493.7h5.3M1151.6,475.5V497.8M1148.9,475.5h5.3M1148.9,497.8h5.3M1163.1,478.4V516.6M1160.5,478.4h5.3M1160.5,516.6h5.3M1152.8,486.4V511.9M1150.1,486.4h5.3M1150.1,511.9h5.3M1158.3,483.2V511.9M1155.7,483.2h5.3M1155.7,511.9h5.3M1154.0,492.7V519.8M1151.4,492.7h5.3M1151.4,519.8h5.3M1154.8,502.3V531.8M1152.2,502.3h5.3M1152.2,531.8h5.3M1177.8,486.4V531.0M1175.1,486.4h5.3M1175.1,531.0h5.3M1159.9,522.2V551.7M1157.3,522.2h5.3M1157.3,551.7h5.3M1169.2,526.5V575.1M1166.5,526.5h5.3M1166.5,575.1h5.3M1178.7,527.8V566.0M1176.1,527.8h5.3M1176.1,566.0h5.3M1177.8,521.4V575.6M1175.1,521.4h5.3M1175.1,575.6h5.3M1163.9,568.4V608.2M1161.3,568.4h5.3M1161.3,608.2h5.3M1210.4,495.9V533.8M1207.8,495.9h5.3M1207.8,533.8h5.3M1214.9,541.6V581.9M1212.2,541.6h5.3M1212.2,581.9h5.3M1259.9,532.2V568.9M1257.3,532.2h5.3M1257.3,568.9h5.3" fill="none" stroke="#1c1c1c" stroke-width="1.0"/>
<circle cx="1103.7" cy="417.3" r="5.15" fill="#f37819" stroke="#0a0a0a" stroke-width="1.15"/>
<circle cx="1104.2" cy="427.0" r="5.15" fill="#f06f20" stroke="#0a0a0a" stroke-width="1.15"/>
<circle cx="1103.3" cy="421.4" r="5.15" fill="#fb9b06" stroke="#0a0a0a" stroke-width="1.15"/>
<circle cx="1108.6" cy="438.4" r="5.15" fill="#ba3655" stroke="#0a0a0a" stroke-width="1.15"/>
<circle cx="1103.9" cy="453.2" r="5.15" fill="#d74b3f" stroke="#0a0a0a" stroke-width="1.15"/>
<circle cx="1103.3" cy="445.8" r="5.15" fill="#ca404a" stroke="#0a0a0a" stroke-width="1.15"/>
<circle cx="1112.0" cy="448.5" r="5.15" fill="#ba3655" stroke="#0a0a0a" stroke-width="1.15"/>
<circle cx="1111.1" cy="458.2" r="5.15" fill="#c33b4f" stroke="#0a0a0a" stroke-width="1.15"/>
<circle cx="1119.4" cy="471.8" r="5.15" fill="#7c1d6d" stroke="#0a0a0a" stroke-width="1.15"/>
<circle cx="1116.3" cy="470.6" r="5.15" fill="#d74b3f" stroke="#0a0a0a" stroke-width="1.15"/>
<circle cx="1112.0" cy="473.7" r="5.15" fill="#ba3655" stroke="#0a0a0a" stroke-width="1.15"/>
<circle cx="1113.8" cy="483.6" r="5.15" fill="#d74b3f" stroke="#0a0a0a" stroke-width="1.15"/>
<circle cx="1108.6" cy="479.0" r="5.15" fill="#8c2369" stroke="#0a0a0a" stroke-width="1.15"/>
<circle cx="1113.8" cy="491.0" r="5.15" fill="#e25734" stroke="#0a0a0a" stroke-width="1.15"/>
<circle cx="1108.6" cy="489.1" r="5.15" fill="#5a116e" stroke="#0a0a0a" stroke-width="1.15"/>
<circle cx="1115.7" cy="504.0" r="5.15" fill="#10092d" stroke="#0a0a0a" stroke-width="1.15"/>
<circle cx="1117.5" cy="434.9" r="5.15" fill="#fcae12" stroke="#0a0a0a" stroke-width="1.15"/>
<circle cx="1117.9" cy="438.6" r="5.15" fill="#f8890c" stroke="#0a0a0a" stroke-width="1.15"/>
<circle cx="1118.8" cy="455.4" r="5.15" fill="#fca50a" stroke="#0a0a0a" stroke-width="1.15"/>
<circle cx="1123.7" cy="465.6" r="5.15" fill="#f37819" stroke="#0a0a0a" stroke-width="1.15"/>
<circle cx="1121.9" cy="461.3" r="5.15" fill="#fca50a" stroke="#0a0a0a" stroke-width="1.15"/>
<circle cx="1130.2" cy="443.3" r="5.15" fill="#f37819" stroke="#0a0a0a" stroke-width="1.15"/>
<circle cx="1133.0" cy="449.5" r="5.15" fill="#fa9207" stroke="#0a0a0a" stroke-width="1.15"/>
<circle cx="1127.2" cy="449.1" r="5.15" fill="#f06f20" stroke="#0a0a0a" stroke-width="1.15"/>
<circle cx="1132.8" cy="455.3" r="5.15" fill="#f37819" stroke="#0a0a0a" stroke-width="1.15"/>
<circle cx="1138.0" cy="469.0" r="5.15" fill="#fcae12" stroke="#0a0a0a" stroke-width="1.15"/>
<circle cx="1147.0" cy="462.5" r="5.15" fill="#fbba1f" stroke="#0a0a0a" stroke-width="1.15"/>
<circle cx="1144.2" cy="473.0" r="5.15" fill="#fac42a" stroke="#0a0a0a" stroke-width="1.15"/>
<circle cx="1151.8" cy="467.1" r="5.15" fill="#fb9b06" stroke="#0a0a0a" stroke-width="1.15"/>
<circle cx="1150.7" cy="476.1" r="5.15" fill="#fa9207" stroke="#0a0a0a" stroke-width="1.15"/>
<circle cx="1145.2" cy="480.5" r="5.15" fill="#fa9207" stroke="#0a0a0a" stroke-width="1.15"/>
<circle cx="1151.6" cy="486.0" r="5.15" fill="#fb9b06" stroke="#0a0a0a" stroke-width="1.15"/>
<circle cx="1163.1" cy="497.5" r="5.15" fill="#fca50a" stroke="#0a0a0a" stroke-width="1.15"/>
<circle cx="1152.8" cy="499.1" r="5.15" fill="#fa9207" stroke="#0a0a0a" stroke-width="1.15"/>
<circle cx="1158.3" cy="495.9" r="5.15" fill="#fcae12" stroke="#0a0a0a" stroke-width="1.15"/>
<circle cx="1154.0" cy="505.2" r="5.15" fill="#fca50a" stroke="#0a0a0a" stroke-width="1.15"/>
<circle cx="1154.8" cy="516.6" r="5.15" fill="#fb9b06" stroke="#0a0a0a" stroke-width="1.15"/>
<circle cx="1177.8" cy="508.7" r="5.15" fill="#fb9b06" stroke="#0a0a0a" stroke-width="1.15"/>
<circle cx="1159.9" cy="537.0" r="5.15" fill="#fa9207" stroke="#0a0a0a" stroke-width="1.15"/>
<circle cx="1169.2" cy="550.6" r="5.15" fill="#f37819" stroke="#0a0a0a" stroke-width="1.15"/>
<circle cx="1178.7" cy="549.3" r="5.15" fill="#f06f20" stroke="#0a0a0a" stroke-width="1.15"/>
<circle cx="1177.8" cy="546.1" r="5.15" fill="#eb6628" stroke="#0a0a0a" stroke-width="1.15"/>
<circle cx="1163.9" cy="588.6" r="5.15" fill="#6a176e" stroke="#0a0a0a" stroke-width="1.15"/>
<circle cx="1210.4" cy="514.7" r="5.15" fill="#fa9207" stroke="#0a0a0a" stroke-width="1.15"/>
<circle cx="1214.9" cy="562.0" r="5.15" fill="#f68013" stroke="#0a0a0a" stroke-width="1.15"/>
<circle cx="1259.9" cy="550.4" r="5.15" fill="#eb6628" stroke="#0a0a0a" stroke-width="1.15"/>
</g>
<rect x="1099.9" y="389.6" width="319.0" height="312.6" fill="none" stroke="#7a7a7a" stroke-width="1.4"/>
<path d="M1163.7,702.2v-3.5M1163.7,389.6v3.5M1227.5,702.2v-3.5M1227.5,389.6v3.5M1291.3,702.2v-3.5M1291.3,389.6v3.5M1355.1,702.2v-3.5M1355.1,389.6v3.5M1099.9,639.7h3.5M1418.9,639.7h-3.5M1099.9,577.2h3.5M1418.9,577.2h-3.5M1099.9,514.7h3.5M1418.9,514.7h-3.5M1099.9,452.2h3.5M1418.9,452.2h-3.5" fill="none" stroke="#7a7a7a" stroke-width="1.1"/>
<text transform="translate(1350.4,422.3)" font-size="30.2" text-anchor="start">(b-4)</text>
<text transform="translate(1354.8,546.7) scale(1,1.07)" font-size="21.25" text-anchor="start"><tspan font-style="italic">Q</tspan>=0.5</text>
<text transform="translate(1354.8,624.8) scale(1,1.07)" font-size="21.25" text-anchor="start"><tspan font-style="italic">Q</tspan>=1.0</text>
<text transform="translate(1354.8,663.7) scale(1,1.07)" font-size="21.25" text-anchor="start"><tspan font-style="italic">Q</tspan>=1.5</text>
<text transform="translate(1354.8,683.1) scale(1,1.07)" font-size="21.25" text-anchor="start"><tspan font-style="italic">Q</tspan>=2.0</text>
</g>
<g>
<clipPath id="cp14"><rect x="1431.8" y="389.6" width="319.0" height="312.6"/></clipPath>
<path d="M1431.8,389.6 L1435.0,392.9 L1438.2,396.1 L1441.4,399.3 L1444.6,402.5 L1447.8,405.6 L1451.0,408.7 L1454.2,411.7 L1457.4,414.7 L1460.6,417.7 L1463.8,420.7 L1466.9,423.6 L1470.1,426.5 L1473.3,429.4 L1476.5,432.2 L1479.7,435.0 L1482.9,437.8 L1486.1,440.6 L1489.3,443.3 L1492.5,446.0 L1495.6,448.6 L1498.8,451.3 L1502.0,453.9 L1505.2,456.5 L1508.4,459.0 L1511.6,461.6 L1514.8,464.1 L1518.0,466.5 L1521.2,469.0 L1524.4,471.4 L1527.5,473.8 L1530.7,476.2 L1533.9,478.6 L1537.1,480.9 L1540.3,483.2 L1543.5,485.5 L1546.7,487.7 L1549.9,489.9 L1553.1,492.2 L1556.3,494.3 L1559.4,496.5 L1562.6,498.6 L1565.8,500.8 L1569.0,502.9 L1572.2,504.9 L1575.4,507.0 L1578.6,509.0 L1581.8,511.0 L1585.0,513.0 L1588.2,515.0 L1591.3,516.9 L1594.5,518.9 L1597.7,520.8 L1600.9,522.7 L1604.1,524.5 L1607.3,526.4 L1610.5,528.2 L1613.7,530.0 L1616.9,531.8 L1620.1,533.6 L1623.2,535.3 L1626.4,537.1 L1629.6,538.8 L1632.8,540.5 L1636.0,542.2 L1639.2,543.8 L1642.4,545.5 L1645.6,547.1 L1648.8,548.7 L1652.0,550.3 L1655.1,551.9 L1658.3,553.5 L1661.5,555.0 L1664.7,556.5 L1667.9,558.1 L1671.1,559.6 L1674.3,561.0 L1677.5,562.5 L1680.7,564.0 L1683.9,565.4 L1687.0,566.8 L1690.2,568.2 L1693.4,569.6 L1696.6,571.0 L1699.8,572.4 L1703.0,573.7 L1706.2,575.1 L1709.4,576.4 L1712.6,577.7 L1715.8,579.0 L1718.9,580.3 L1722.1,581.5 L1725.3,582.8 L1728.5,584.0 L1731.7,585.3 L1734.9,586.5 L1738.1,587.7 L1741.3,588.9 L1744.5,590.1 L1747.7,591.2 L1750.8,592.4" fill="none" stroke="#242424" stroke-width="1.1"/>
<path d="M1431.8,389.6 L1435.0,396.1 L1438.2,402.5 L1441.4,408.7 L1444.6,414.7 L1447.8,420.7 L1451.0,426.5 L1454.2,432.2 L1457.4,437.8 L1460.6,443.3 L1463.8,448.6 L1466.9,453.9 L1470.1,459.0 L1473.3,464.1 L1476.5,469.0 L1479.7,473.8 L1482.9,478.6 L1486.1,483.2 L1489.3,487.7 L1492.5,492.2 L1495.6,496.5 L1498.8,500.8 L1502.0,504.9 L1505.2,509.0 L1508.4,513.0 L1511.6,516.9 L1514.8,520.8 L1518.0,524.5 L1521.2,528.2 L1524.4,531.8 L1527.5,535.3 L1530.7,538.8 L1533.9,542.2 L1537.1,545.5 L1540.3,548.7 L1543.5,551.9 L1546.7,555.0 L1549.9,558.1 L1553.1,561.0 L1556.3,564.0 L1559.4,566.8 L1562.6,569.6 L1565.8,572.4 L1569.0,575.1 L1572.2,577.7 L1575.4,580.3 L1578.6,582.8 L1581.8,585.3 L1585.0,587.7 L1588.2,590.1 L1591.3,592.4 L1594.5,594.7 L1597.7,596.9 L1600.9,599.1 L1604.1,601.2 L1607.3,603.3 L1610.5,605.3 L1613.7,607.4 L1616.9,609.3 L1620.1,611.2 L1623.2,613.1 L1626.4,615.0 L1629.6,616.8 L1632.8,618.5 L1636.0,620.3 L1639.2,622.0 L1642.4,623.6 L1645.6,625.3 L1648.8,626.9 L1652.0,628.4 L1655.1,629.9 L1658.3,631.4 L1661.5,632.9 L1664.7,634.3 L1667.9,635.7 L1671.1,637.1 L1674.3,638.5 L1677.5,639.8 L1680.7,641.1 L1683.9,642.3 L1687.0,643.6 L1690.2,644.8 L1693.4,646.0 L1696.6,647.2 L1699.8,648.3 L1703.0,649.4 L1706.2,650.5 L1709.4,651.6 L1712.6,652.6 L1715.8,653.7 L1718.9,654.7 L1722.1,655.6 L1725.3,656.6 L1728.5,657.6 L1731.7,658.5 L1734.9,659.4 L1738.1,660.3 L1741.3,661.1 L1744.5,662.0 L1747.7,662.8 L1750.8,663.6" fill="none" stroke="#242424" stroke-width="1.1"/>
<path d="M1431.8,389.6 L1435.0,399.3 L1438.2,408.7 L1441.4,417.7 L1444.6,426.5 L1447.8,435.0 L1451.0,443.3 L1454.2,451.3 L1457.4,459.0 L1460.6,466.5 L1463.8,473.8 L1466.9,480.9 L1470.1,487.7 L1473.3,494.3 L1476.5,500.8 L1479.7,507.0 L1482.9,513.0 L1486.1,518.9 L1489.3,524.5 L1492.5,530.0 L1495.6,535.3 L1498.8,540.5 L1502.0,545.5 L1505.2,550.3 L1508.4,555.0 L1511.6,559.6 L1514.8,564.0 L1518.0,568.2 L1521.2,572.4 L1524.4,576.4 L1527.5,580.3 L1530.7,584.0 L1533.9,587.7 L1537.1,591.2 L1540.3,594.7 L1543.5,598.0 L1546.7,601.2 L1549.9,604.3 L1553.1,607.4 L1556.3,610.3 L1559.4,613.1 L1562.6,615.9 L1565.8,618.5 L1569.0,621.1 L1572.2,623.6 L1575.4,626.1 L1578.6,628.4 L1581.8,630.7 L1585.0,632.9 L1588.2,635.0 L1591.3,637.1 L1594.5,639.1 L1597.7,641.1 L1600.9,643.0 L1604.1,644.8 L1607.3,646.6 L1610.5,648.3 L1613.7,650.0 L1616.9,651.6 L1620.1,653.1 L1623.2,654.7 L1626.4,656.1 L1629.6,657.6 L1632.8,658.9 L1636.0,660.3 L1639.2,661.6 L1642.4,662.8 L1645.6,664.0 L1648.8,665.2 L1652.0,666.4 L1655.1,667.5 L1658.3,668.5 L1661.5,669.6 L1664.7,670.6 L1667.9,671.6 L1671.1,672.5 L1674.3,673.4 L1677.5,674.3 L1680.7,675.2 L1683.9,676.0 L1687.0,676.8 L1690.2,677.6 L1693.4,678.4 L1696.6,679.1 L1699.8,679.8 L1703.0,680.5 L1706.2,681.2 L1709.4,681.8 L1712.6,682.5 L1715.8,683.1 L1718.9,683.7 L1722.1,684.3 L1725.3,684.8 L1728.5,685.3 L1731.7,685.9 L1734.9,686.4 L1738.1,686.9 L1741.3,687.3 L1744.5,687.8 L1747.7,688.2 L1750.8,688.7" fill="none" stroke="#242424" stroke-width="1.1"/>
<path d="M1431.8,389.6 L1435.0,402.5 L1438.2,414.7 L1441.4,426.5 L1444.6,437.8 L1447.8,448.6 L1451.0,459.0 L1454.2,469.0 L1457.4,478.6 L1460.6,487.7 L1463.8,496.5 L1466.9,504.9 L1470.1,513.0 L1473.3,520.8 L1476.5,528.2 L1479.7,535.3 L1482.9,542.2 L1486.1,548.7 L1489.3,555.0 L1492.5,561.0 L1495.6,566.8 L1498.8,572.4 L1502.0,577.7 L1505.2,582.8 L1508.4,587.7 L1511.6,592.4 L1514.8,596.9 L1518.0,601.2 L1521.2,605.3 L1524.4,609.3 L1527.5,613.1 L1530.7,616.8 L1533.9,620.3 L1537.1,623.6 L1540.3,626.9 L1543.5,629.9 L1546.7,632.9 L1549.9,635.7 L1553.1,638.5 L1556.3,641.1 L1559.4,643.6 L1562.6,646.0 L1565.8,648.3 L1569.0,650.5 L1572.2,652.6 L1575.4,654.7 L1578.6,656.6 L1581.8,658.5 L1585.0,660.3 L1588.2,662.0 L1591.3,663.6 L1594.5,665.2 L1597.7,666.7 L1600.9,668.2 L1604.1,669.6 L1607.3,670.9 L1610.5,672.2 L1613.7,673.4 L1616.9,674.6 L1620.1,675.8 L1623.2,676.8 L1626.4,677.9 L1629.6,678.9 L1632.8,679.8 L1636.0,680.8 L1639.2,681.6 L1642.4,682.5 L1645.6,683.3 L1648.8,684.1 L1652.0,684.8 L1655.1,685.5 L1658.3,686.2 L1661.5,686.9 L1664.7,687.5 L1667.9,688.1 L1671.1,688.7 L1674.3,689.2 L1677.5,689.8 L1680.7,690.3 L1683.9,690.8 L1687.0,691.2 L1690.2,691.7 L1693.4,692.1 L1696.6,692.5 L1699.8,692.9 L1703.0,693.3 L1706.2,693.7 L1709.4,694.0 L1712.6,694.4 L1715.8,694.7 L1718.9,695.0 L1722.1,695.3 L1725.3,695.6 L1728.5,695.9 L1731.7,696.1 L1734.9,696.4 L1738.1,696.6 L1741.3,696.8 L1744.5,697.1 L1747.7,697.3 L1750.8,697.5" fill="none" stroke="#242424" stroke-width="1.1"/>
<g clip-path="url(#cp14)">
<path d="M1435.3,408.6V424.7M1432.6,408.6h5.3M1432.6,424.7h5.3M1435.3,409.9V427.2M1432.6,409.9h5.3M1432.6,427.2h5.3M1435.7,419.8V437.1M1433.0,419.8h5.3M1433.0,437.1h5.3M1440.6,426.0V443.3M1438.0,426.0h5.3M1438.0,443.3h5.3M1435.3,429.7V448.3M1432.6,429.7h5.3M1432.6,448.3h5.3M1440.9,442.1V459.4M1438.2,442.1h5.3M1438.2,459.4h5.3M1442.7,435.9V454.5M1440.1,435.9h5.3M1440.1,454.5h5.3M1435.7,440.8V459.4M1433.0,440.8h5.3M1433.0,459.4h5.3M1442.7,449.5V468.1M1440.1,449.5h5.3M1440.1,468.1h5.3M1450.2,435.9V452.0M1447.5,435.9h5.3M1447.5,452.0h5.3M1449.9,438.4V455.7M1447.3,438.4h5.3M1447.3,455.7h5.3M1455.7,455.7V471.8M1453.1,455.7h5.3M1453.1,471.8h5.3M1450.2,455.7V471.8M1447.5,455.7h5.3M1447.5,471.8h5.3M1455.1,466.8V484.2M1452.5,466.8h5.3M1452.5,484.2h5.3M1444.6,466.2V484.2M1441.9,466.2h5.3M1441.9,484.2h5.3M1448.3,468.1V485.4M1445.6,468.1h5.3M1445.6,485.4h5.3M1440.2,466.2V485.4M1437.6,466.2h5.3M1437.6,485.4h5.3M1445.2,475.5V492.9M1442.5,475.5h5.3M1442.5,492.9h5.3M1450.2,478.0V494.1M1447.5,478.0h5.3M1447.5,494.1h5.3M1440.6,469.3V489.1M1438.0,469.3h5.3M1438.0,489.1h5.3M1443.6,484.2V497.8M1440.9,484.2h5.3M1440.9,497.8h5.3M1440.2,479.2V496.6M1437.6,479.2h5.3M1437.6,496.6h5.3M1447.4,494.1V514.9M1444.8,494.1h5.3M1444.8,514.9h5.3M1461.9,449.3V464.4M1459.3,449.3h5.3M1459.3,464.4h5.3M1463.2,450.7V468.1M1460.5,450.7h5.3M1460.5,468.1h5.3M1465.6,455.7V473.0M1463.0,455.7h5.3M1463.0,473.0h5.3M1459.4,453.2V470.6M1456.8,453.2h5.3M1456.8,470.6h5.3M1470.0,469.9V490.4M1467.3,469.9h5.3M1467.3,490.4h5.3M1478.6,466.2V486.7M1476.0,466.2h5.3M1476.0,486.7h5.3M1476.8,474.3V492.9M1474.1,474.3h5.3M1474.1,492.9h5.3M1483.8,465.9V491.6M1481.2,465.9h5.3M1481.2,491.6h5.3M1483.6,480.5V500.3M1480.9,480.5h5.3M1480.9,500.3h5.3M1477.2,480.5V501.5M1474.5,480.5h5.3M1474.5,501.5h5.3M1483.2,485.2V513.9M1480.5,485.2h5.3M1480.5,513.9h5.3M1495.1,492.4V528.2M1492.5,492.4h5.3M1492.5,528.2h5.3M1484.8,499.6V525.0M1482.1,499.6h5.3M1482.1,525.0h5.3M1490.0,496.4V526.6M1487.4,496.4h5.3M1487.4,526.6h5.3M1486.0,505.9V533.0M1483.4,505.9h5.3M1483.4,533.0h5.3M1486.8,517.1V541.0M1484.2,517.1h5.3M1484.2,541.0h5.3M1509.8,499.2V544.1M1507.1,499.2h5.3M1507.1,544.1h5.3M1491.9,536.2V564.1M1489.3,536.2h5.3M1489.3,564.1h5.3M1501.2,538.3V578.4M1498.5,538.3h5.3M1498.5,578.4h5.3M1509.8,537.8V582.1M1507.1,537.8h5.3M1507.1,582.1h5.3M1495.9,584.0V602.3M1493.3,584.0h5.3M1493.3,602.3h5.3M1542.1,503.5V542.6M1539.4,503.5h5.3M1539.4,542.6h5.3M1546.9,543.8V593.2M1544.2,543.8h5.3M1544.2,593.2h5.3M1591.8,541.3V575.2M1589.1,541.3h5.3M1589.1,575.2h5.3" fill="none" stroke="#1c1c1c" stroke-width="1.0"/>
<circle cx="1435.3" cy="415.4" r="5.15" fill="#f8890c" stroke="#0a0a0a" stroke-width="1.15"/>
<circle cx="1435.3" cy="418.5" r="5.15" fill="#fbba1f" stroke="#0a0a0a" stroke-width="1.15"/>
<circle cx="1435.7" cy="428.2" r="5.15" fill="#f8890c" stroke="#0a0a0a" stroke-width="1.15"/>
<circle cx="1440.6" cy="434.4" r="5.15" fill="#dd513a" stroke="#0a0a0a" stroke-width="1.15"/>
<circle cx="1435.3" cy="438.6" r="5.15" fill="#dd513a" stroke="#0a0a0a" stroke-width="1.15"/>
<circle cx="1440.9" cy="451.4" r="5.15" fill="#fa9207" stroke="#0a0a0a" stroke-width="1.15"/>
<circle cx="1442.7" cy="445.2" r="5.15" fill="#d74b3f" stroke="#0a0a0a" stroke-width="1.15"/>
<circle cx="1435.7" cy="450.1" r="5.15" fill="#eb6628" stroke="#0a0a0a" stroke-width="1.15"/>
<circle cx="1442.7" cy="458.8" r="5.15" fill="#dd513a" stroke="#0a0a0a" stroke-width="1.15"/>
<circle cx="1450.2" cy="443.3" r="5.15" fill="#fcae12" stroke="#0a0a0a" stroke-width="1.15"/>
<circle cx="1449.9" cy="447.0" r="5.15" fill="#fa9207" stroke="#0a0a0a" stroke-width="1.15"/>
<circle cx="1455.7" cy="464.0" r="5.15" fill="#fbba1f" stroke="#0a0a0a" stroke-width="1.15"/>
<circle cx="1450.2" cy="463.7" r="5.15" fill="#fcae12" stroke="#0a0a0a" stroke-width="1.15"/>
<circle cx="1455.1" cy="476.1" r="5.15" fill="#f8890c" stroke="#0a0a0a" stroke-width="1.15"/>
<circle cx="1444.6" cy="475.5" r="5.15" fill="#d74b3f" stroke="#0a0a0a" stroke-width="1.15"/>
<circle cx="1448.3" cy="476.8" r="5.15" fill="#e25734" stroke="#0a0a0a" stroke-width="1.15"/>
<circle cx="1440.2" cy="476.8" r="5.15" fill="#ba3655" stroke="#0a0a0a" stroke-width="1.15"/>
<circle cx="1445.2" cy="484.2" r="5.15" fill="#e25734" stroke="#0a0a0a" stroke-width="1.15"/>
<circle cx="1450.2" cy="486.7" r="5.15" fill="#a32c61" stroke="#0a0a0a" stroke-width="1.15"/>
<circle cx="1440.6" cy="480.5" r="5.15" fill="#8c2369" stroke="#0a0a0a" stroke-width="1.15"/>
<circle cx="1443.6" cy="492.9" r="5.15" fill="#eb6628" stroke="#0a0a0a" stroke-width="1.15"/>
<circle cx="1440.2" cy="487.3" r="5.15" fill="#9b2964" stroke="#0a0a0a" stroke-width="1.15"/>
<circle cx="1447.4" cy="503.8" r="5.15" fill="#1e0c45" stroke="#0a0a0a" stroke-width="1.15"/>
<circle cx="1461.9" cy="455.7" r="5.15" fill="#fb9b06" stroke="#0a0a0a" stroke-width="1.15"/>
<circle cx="1463.2" cy="459.4" r="5.15" fill="#fca50a" stroke="#0a0a0a" stroke-width="1.15"/>
<circle cx="1465.6" cy="465.0" r="5.15" fill="#fa9207" stroke="#0a0a0a" stroke-width="1.15"/>
<circle cx="1459.4" cy="461.9" r="5.15" fill="#fa9207" stroke="#0a0a0a" stroke-width="1.15"/>
<circle cx="1470.0" cy="480.1" r="5.15" fill="#fbba1f" stroke="#0a0a0a" stroke-width="1.15"/>
<circle cx="1478.6" cy="476.1" r="5.15" fill="#fbba1f" stroke="#0a0a0a" stroke-width="1.15"/>
<circle cx="1476.8" cy="483.6" r="5.15" fill="#fac42a" stroke="#0a0a0a" stroke-width="1.15"/>
<circle cx="1483.8" cy="479.2" r="5.15" fill="#fcae12" stroke="#0a0a0a" stroke-width="1.15"/>
<circle cx="1483.6" cy="490.4" r="5.15" fill="#fcae12" stroke="#0a0a0a" stroke-width="1.15"/>
<circle cx="1477.2" cy="490.6" r="5.15" fill="#fa9207" stroke="#0a0a0a" stroke-width="1.15"/>
<circle cx="1483.2" cy="499.2" r="5.15" fill="#fcae12" stroke="#0a0a0a" stroke-width="1.15"/>
<circle cx="1495.1" cy="510.4" r="5.15" fill="#fcae12" stroke="#0a0a0a" stroke-width="1.15"/>
<circle cx="1484.8" cy="512.0" r="5.15" fill="#fb9b06" stroke="#0a0a0a" stroke-width="1.15"/>
<circle cx="1490.0" cy="511.2" r="5.15" fill="#fbba1f" stroke="#0a0a0a" stroke-width="1.15"/>
<circle cx="1486.0" cy="519.1" r="5.15" fill="#fca50a" stroke="#0a0a0a" stroke-width="1.15"/>
<circle cx="1486.8" cy="529.8" r="5.15" fill="#fb9b06" stroke="#0a0a0a" stroke-width="1.15"/>
<circle cx="1509.8" cy="521.5" r="5.15" fill="#fb9b06" stroke="#0a0a0a" stroke-width="1.15"/>
<circle cx="1491.9" cy="550.2" r="5.15" fill="#f8890c" stroke="#0a0a0a" stroke-width="1.15"/>
<circle cx="1501.2" cy="558.8" r="5.15" fill="#f06f20" stroke="#0a0a0a" stroke-width="1.15"/>
<circle cx="1509.8" cy="559.6" r="5.15" fill="#f06f20" stroke="#0a0a0a" stroke-width="1.15"/>
<circle cx="1495.9" cy="593.0" r="5.15" fill="#84206b" stroke="#0a0a0a" stroke-width="1.15"/>
<circle cx="1542.1" cy="523.0" r="5.15" fill="#fb9b06" stroke="#0a0a0a" stroke-width="1.15"/>
<circle cx="1546.9" cy="568.4" r="5.15" fill="#f37819" stroke="#0a0a0a" stroke-width="1.15"/>
<circle cx="1591.8" cy="558.2" r="5.15" fill="#eb6628" stroke="#0a0a0a" stroke-width="1.15"/>
</g>
<rect x="1431.8" y="389.6" width="319.0" height="312.6" fill="none" stroke="#7a7a7a" stroke-width="1.4"/>
<path d="M1495.6,702.2v-3.5M1495.6,389.6v3.5M1559.4,702.2v-3.5M1559.4,389.6v3.5M1623.2,702.2v-3.5M1623.2,389.6v3.5M1687.0,702.2v-3.5M1687.0,389.6v3.5M1431.8,639.7h3.5M1750.8,639.7h-3.5M1431.8,577.2h3.5M1750.8,577.2h-3.5M1431.8,514.7h3.5M1750.8,514.7h-3.5M1431.8,452.2h3.5M1750.8,452.2h-3.5" fill="none" stroke="#7a7a7a" stroke-width="1.1"/>
<text transform="translate(1684.6,422.3)" font-size="30.2" text-anchor="start">(b-5)</text>
<text transform="translate(1686.8,566.8) scale(1,1.07)" font-size="21.25" text-anchor="start"><tspan font-style="italic">Q</tspan>=0.5</text>
<text transform="translate(1686.8,643.6) scale(1,1.07)" font-size="21.25" text-anchor="start"><tspan font-style="italic">Q</tspan>=1.0</text>
<text transform="translate(1686.8,676.8) scale(1,1.07)" font-size="21.25" text-anchor="start"><tspan font-style="italic">Q</tspan>=1.5</text>
<text transform="translate(1686.8,691.2) scale(1,1.07)" font-size="21.25" text-anchor="start"><tspan font-style="italic">Q</tspan>=2.0</text>
</g>
<text x="101.2" y="711.1" font-size="25.5" text-anchor="end">0.0</text>
<text x="101.2" y="648.6" font-size="25.5" text-anchor="end">0.2</text>
<text x="101.2" y="586.1" font-size="25.5" text-anchor="end">0.4</text>
<text x="101.2" y="523.6" font-size="25.5" text-anchor="end">0.6</text>
<text x="101.2" y="461.1" font-size="25.5" text-anchor="end">0.8</text>
<text x="101.2" y="398.5" font-size="25.5" text-anchor="end">1.0</text>
<g>
<clipPath id="cp20"><rect x="104.2" y="724.3" width="319.0" height="312.6"/></clipPath>
<g clip-path="url(#cp20)">
<path d="M114.2,734.9V757.2M111.6,734.9h5.3M111.6,757.2h5.3M108.1,733.1V751.0M105.4,733.1h5.3M105.4,751.0h5.3M107.4,737.4V762.2M104.8,737.4h5.3M104.8,762.2h5.3M108.1,747.3V772.1M105.4,747.3h5.3M105.4,772.1h5.3M113.6,744.8V770.8M111.0,744.8h5.3M111.0,770.8h5.3M108.9,739.9V765.9M106.3,739.9h5.3M106.3,765.9h5.3M123.5,733.1V756.0M120.9,733.1h5.3M120.9,756.0h5.3M126.6,741.1V767.1M124.0,741.1h5.3M124.0,767.1h5.3M131.6,744.2V772.1M128.9,744.2h5.3M128.9,772.1h5.3M129.5,741.1V765.9M126.8,741.1h5.3M126.8,765.9h5.3M118.6,753.5V779.5M115.9,753.5h5.3M115.9,779.5h5.3M118.6,757.2V787.0M115.9,757.2h5.3M115.9,787.0h5.3M113.6,760.9V788.2M111.0,760.9h5.3M111.0,788.2h5.3M113.4,752.3V779.5M110.7,752.3h5.3M110.7,779.5h5.3M108.1,759.7V785.7M105.4,759.7h5.3M105.4,785.7h5.3M133.7,757.2V780.8M131.1,757.2h5.3M131.1,780.8h5.3M132.8,762.2V804.0M130.2,762.2h5.3M130.2,804.0h5.3M122.3,767.1V806.2M119.7,767.1h5.3M119.7,806.2h5.3M120.4,772.1V811.4M117.8,772.1h5.3M117.8,811.4h5.3M114.6,762.2V820.7M112.0,762.2h5.3M112.0,820.7h5.3M157.2,738.0V769.0M154.6,738.0h5.3M154.6,769.0h5.3M171.2,741.5V783.0M168.6,741.5h5.3M168.6,783.0h5.3M167.5,740.7V775.2M164.9,740.7h5.3M164.9,775.2h5.3M184.9,740.1V781.7M182.2,740.1h5.3M182.2,781.7h5.3M193.8,754.4V804.9M191.1,754.4h5.3M191.1,804.9h5.3M203.1,747.9V807.8M200.4,747.9h5.3M200.4,807.8h5.3M202.8,746.3V798.1M200.2,746.3h5.3M200.2,798.1h5.3M219.2,742.0V796.0M216.5,742.0h5.3M216.5,796.0h5.3M331.7,749.8V828.8M329.0,749.8h5.3M329.0,828.8h5.3M335.4,767.1V850.1M332.7,767.1h5.3M332.7,850.1h5.3" fill="none" stroke="#1c1c1c" stroke-width="1.0"/>
<circle cx="114.2" cy="745.4" r="5.15" fill="#fbba1f" stroke="#0a0a0a" stroke-width="1.15"/>
<circle cx="108.1" cy="741.1" r="5.15" fill="#d74b3f" stroke="#0a0a0a" stroke-width="1.15"/>
<circle cx="107.4" cy="748.5" r="5.15" fill="#c33b4f" stroke="#0a0a0a" stroke-width="1.15"/>
<circle cx="108.1" cy="758.7" r="5.15" fill="#fbba1f" stroke="#0a0a0a" stroke-width="1.15"/>
<circle cx="113.6" cy="756.6" r="5.15" fill="#c33b4f" stroke="#0a0a0a" stroke-width="1.15"/>
<circle cx="108.9" cy="752.0" r="5.15" fill="#ba3655" stroke="#0a0a0a" stroke-width="1.15"/>
<circle cx="123.5" cy="744.2" r="5.15" fill="#f6d746" stroke="#0a0a0a" stroke-width="1.15"/>
<circle cx="126.6" cy="754.7" r="5.15" fill="#d04545" stroke="#0a0a0a" stroke-width="1.15"/>
<circle cx="131.6" cy="757.8" r="5.15" fill="#fca50a" stroke="#0a0a0a" stroke-width="1.15"/>
<circle cx="129.5" cy="753.7" r="5.15" fill="#fb9b06" stroke="#0a0a0a" stroke-width="1.15"/>
<circle cx="118.6" cy="765.9" r="5.15" fill="#ca404a" stroke="#0a0a0a" stroke-width="1.15"/>
<circle cx="118.6" cy="771.5" r="5.15" fill="#62146e" stroke="#0a0a0a" stroke-width="1.15"/>
<circle cx="113.6" cy="773.9" r="5.15" fill="#932667" stroke="#0a0a0a" stroke-width="1.15"/>
<circle cx="113.4" cy="765.6" r="5.15" fill="#8c2369" stroke="#0a0a0a" stroke-width="1.15"/>
<circle cx="108.1" cy="772.3" r="5.15" fill="#e25734" stroke="#0a0a0a" stroke-width="1.15"/>
<circle cx="133.7" cy="769.0" r="5.15" fill="#ca404a" stroke="#0a0a0a" stroke-width="1.15"/>
<circle cx="132.8" cy="781.7" r="5.15" fill="#6a176e" stroke="#0a0a0a" stroke-width="1.15"/>
<circle cx="122.3" cy="785.7" r="5.15" fill="#420a68" stroke="#0a0a0a" stroke-width="1.15"/>
<circle cx="120.4" cy="791.3" r="5.15" fill="#932667" stroke="#0a0a0a" stroke-width="1.15"/>
<circle cx="114.6" cy="791.0" r="5.15" fill="#420a68" stroke="#0a0a0a" stroke-width="1.15"/>
<circle cx="157.2" cy="753.7" r="5.15" fill="#fb9b06" stroke="#0a0a0a" stroke-width="1.15"/>
<circle cx="171.2" cy="762.2" r="5.15" fill="#fcae12" stroke="#0a0a0a" stroke-width="1.15"/>
<circle cx="167.5" cy="758.2" r="5.15" fill="#fcae12" stroke="#0a0a0a" stroke-width="1.15"/>
<circle cx="184.9" cy="760.9" r="5.15" fill="#fb9b06" stroke="#0a0a0a" stroke-width="1.15"/>
<circle cx="193.8" cy="779.5" r="5.15" fill="#e25734" stroke="#0a0a0a" stroke-width="1.15"/>
<circle cx="203.1" cy="778.5" r="5.15" fill="#f68013" stroke="#0a0a0a" stroke-width="1.15"/>
<circle cx="202.8" cy="771.8" r="5.15" fill="#f37819" stroke="#0a0a0a" stroke-width="1.15"/>
<circle cx="219.2" cy="769.0" r="5.15" fill="#fa9207" stroke="#0a0a0a" stroke-width="1.15"/>
<circle cx="331.7" cy="789.4" r="5.15" fill="#f8890c" stroke="#0a0a0a" stroke-width="1.15"/>
<circle cx="335.4" cy="808.3" r="5.15" fill="#a32c61" stroke="#0a0a0a" stroke-width="1.15"/>
</g>
<rect x="104.2" y="724.3" width="319.0" height="312.6" fill="none" stroke="#7a7a7a" stroke-width="1.4"/>
<path d="M168.1,1036.9v-3.5M168.1,724.3v3.5M231.9,1036.9v-3.5M231.9,724.3v3.5M295.6,1036.9v-3.5M295.6,724.3v3.5M359.5,1036.9v-3.5M359.5,724.3v3.5M104.2,974.4h3.5M423.2,974.4h-3.5M104.2,911.9h3.5M423.2,911.9h-3.5M104.2,849.3h3.5M423.2,849.3h-3.5M104.2,786.8h3.5M423.2,786.8h-3.5" fill="none" stroke="#7a7a7a" stroke-width="1.1"/>
<text transform="translate(348.2,753.0)" font-size="30.2" text-anchor="start">(c-1)</text>
</g>
<g>
<clipPath id="cp21"><rect x="436.1" y="724.3" width="319.0" height="312.6"/></clipPath>
<path d="M436.1,724.3 L439.3,725.7 L442.5,727.0 L445.7,728.4 L448.9,729.7 L452.1,731.1 L455.3,732.4 L458.5,733.7 L461.7,735.0 L464.9,736.3 L468.0,737.7 L471.2,739.0 L474.4,740.3 L477.6,741.5 L480.8,742.8 L484.0,744.1 L487.2,745.4 L490.4,746.7 L493.6,747.9 L496.8,749.2 L499.9,750.4 L503.1,751.7 L506.3,752.9 L509.5,754.2 L512.7,755.4 L515.9,756.6 L519.1,757.8 L522.3,759.1 L525.5,760.3 L528.7,761.5 L531.9,762.7 L535.0,763.9 L538.2,765.1 L541.4,766.2 L544.6,767.4 L547.8,768.6 L551.0,769.8 L554.2,770.9 L557.4,772.1 L560.6,773.2 L563.8,774.4 L566.9,775.5 L570.1,776.7 L573.3,777.8 L576.5,778.9 L579.7,780.1 L582.9,781.2 L586.1,782.3 L589.3,783.4 L592.5,784.5 L595.6,785.6 L598.8,786.7 L602.0,787.8 L605.2,788.9 L608.4,790.0 L611.6,791.0 L614.8,792.1 L618.0,793.2 L621.2,794.2 L624.4,795.3 L627.5,796.3 L630.7,797.4 L633.9,798.4 L637.1,799.5 L640.3,800.5 L643.5,801.5 L646.7,802.6 L649.9,803.6 L653.1,804.6 L656.3,805.6 L659.4,806.6 L662.6,807.6 L665.8,808.6 L669.0,809.6 L672.2,810.6 L675.4,811.6 L678.6,812.6 L681.8,813.6 L685.0,814.5 L688.2,815.5 L691.4,816.5 L694.5,817.4 L697.7,818.4 L700.9,819.3 L704.1,820.3 L707.3,821.2 L710.5,822.2 L713.7,823.1 L716.9,824.0 L720.1,825.0 L723.2,825.9 L726.4,826.8 L729.6,827.7 L732.8,828.6 L736.0,829.5 L739.2,830.4 L742.4,831.3 L745.6,832.2 L748.8,833.1 L752.0,834.0 L755.1,834.9" fill="none" stroke="#242424" stroke-width="1.1"/>
<path d="M436.1,724.3 L439.3,727.0 L442.5,729.7 L445.7,732.4 L448.9,735.0 L452.1,737.7 L455.3,740.3 L458.5,742.8 L461.7,745.4 L464.9,747.9 L468.0,750.4 L471.2,752.9 L474.4,755.4 L477.6,757.8 L480.8,760.3 L484.0,762.7 L487.2,765.1 L490.4,767.4 L493.6,769.8 L496.8,772.1 L499.9,774.4 L503.1,776.7 L506.3,778.9 L509.5,781.2 L512.7,783.4 L515.9,785.6 L519.1,787.8 L522.3,790.0 L525.5,792.1 L528.7,794.2 L531.9,796.3 L535.0,798.4 L538.2,800.5 L541.4,802.6 L544.6,804.6 L547.8,806.6 L551.0,808.6 L554.2,810.6 L557.4,812.6 L560.6,814.5 L563.8,816.5 L566.9,818.4 L570.1,820.3 L573.3,822.2 L576.5,824.0 L579.7,825.9 L582.9,827.7 L586.1,829.5 L589.3,831.3 L592.5,833.1 L595.6,834.9 L598.8,836.7 L602.0,838.4 L605.2,840.1 L608.4,841.8 L611.6,843.5 L614.8,845.2 L618.0,846.9 L621.2,848.5 L624.4,850.2 L627.5,851.8 L630.7,853.4 L633.9,855.0 L637.1,856.6 L640.3,858.1 L643.5,859.7 L646.7,861.2 L649.9,862.8 L653.1,864.3 L656.3,865.8 L659.4,867.3 L662.6,868.7 L665.8,870.2 L669.0,871.7 L672.2,873.1 L675.4,874.5 L678.6,875.9 L681.8,877.3 L685.0,878.7 L688.2,880.1 L691.4,881.5 L694.5,882.8 L697.7,884.1 L700.9,885.5 L704.1,886.8 L707.3,888.1 L710.5,889.4 L713.7,890.7 L716.9,891.9 L720.1,893.2 L723.2,894.5 L726.4,895.7 L729.6,896.9 L732.8,898.1 L736.0,899.3 L739.2,900.5 L742.4,901.7 L745.6,902.9 L748.8,904.1 L752.0,905.2 L755.1,906.4" fill="none" stroke="#242424" stroke-width="1.1"/>
<path d="M436.1,724.3 L439.3,728.4 L442.5,732.4 L445.7,736.3 L448.9,740.3 L452.1,744.1 L455.3,747.9 L458.5,751.7 L461.7,755.4 L464.9,759.1 L468.0,762.7 L471.2,766.2 L474.4,769.8 L477.6,773.2 L480.8,776.7 L484.0,780.1 L487.2,783.4 L490.4,786.7 L493.6,790.0 L496.8,793.2 L499.9,796.3 L503.1,799.5 L506.3,802.6 L509.5,805.6 L512.7,808.6 L515.9,811.6 L519.1,814.5 L522.3,817.4 L525.5,820.3 L528.7,823.1 L531.9,825.9 L535.0,828.6 L538.2,831.3 L541.4,834.0 L544.6,836.7 L547.8,839.3 L551.0,841.8 L554.2,844.4 L557.4,846.9 L560.6,849.3 L563.8,851.8 L566.9,854.2 L570.1,856.6 L573.3,858.9 L576.5,861.2 L579.7,863.5 L582.9,865.8 L586.1,868.0 L589.3,870.2 L592.5,872.4 L595.6,874.5 L598.8,876.6 L602.0,878.7 L605.2,880.8 L608.4,882.8 L611.6,884.8 L614.8,886.8 L618.0,888.7 L621.2,890.7 L624.4,892.6 L627.5,894.5 L630.7,896.3 L633.9,898.1 L637.1,899.9 L640.3,901.7 L643.5,903.5 L646.7,905.2 L649.9,906.9 L653.1,908.6 L656.3,910.3 L659.4,911.9 L662.6,913.6 L665.8,915.2 L669.0,916.8 L672.2,918.3 L675.4,919.9 L678.6,921.4 L681.8,922.9 L685.0,924.4 L688.2,925.8 L691.4,927.3 L694.5,928.7 L697.7,930.1 L700.9,931.5 L704.1,932.9 L707.3,934.2 L710.5,935.6 L713.7,936.9 L716.9,938.2 L720.1,939.5 L723.2,940.7 L726.4,942.0 L729.6,943.2 L732.8,944.4 L736.0,945.6 L739.2,946.8 L742.4,948.0 L745.6,949.2 L748.8,950.3 L752.0,951.4 L755.1,952.5" fill="none" stroke="#242424" stroke-width="1.1"/>
<path d="M436.1,724.3 L439.3,729.7 L442.5,735.0 L445.7,740.3 L448.9,745.4 L452.1,750.4 L455.3,755.4 L458.5,760.3 L461.7,765.1 L464.9,769.8 L468.0,774.4 L471.2,778.9 L474.4,783.4 L477.6,787.8 L480.8,792.1 L484.0,796.3 L487.2,800.5 L490.4,804.6 L493.6,808.6 L496.8,812.6 L499.9,816.5 L503.1,820.3 L506.3,824.0 L509.5,827.7 L512.7,831.3 L515.9,834.9 L519.1,838.4 L522.3,841.8 L525.5,845.2 L528.7,848.5 L531.9,851.8 L535.0,855.0 L538.2,858.1 L541.4,861.2 L544.6,864.3 L547.8,867.3 L551.0,870.2 L554.2,873.1 L557.4,875.9 L560.6,878.7 L563.8,881.5 L566.9,884.1 L570.1,886.8 L573.3,889.4 L576.5,891.9 L579.7,894.5 L582.9,896.9 L586.1,899.3 L589.3,901.7 L592.5,904.1 L595.6,906.4 L598.8,908.6 L602.0,910.8 L605.2,913.0 L608.4,915.2 L611.6,917.3 L614.8,919.3 L618.0,921.4 L621.2,923.4 L624.4,925.4 L627.5,927.3 L630.7,929.2 L633.9,931.0 L637.1,932.9 L640.3,934.7 L643.5,936.4 L646.7,938.2 L649.9,939.9 L653.1,941.6 L656.3,943.2 L659.4,944.8 L662.6,946.4 L665.8,948.0 L669.0,949.5 L672.2,951.1 L675.4,952.5 L678.6,954.0 L681.8,955.4 L685.0,956.9 L688.2,958.2 L691.4,959.6 L694.5,960.9 L697.7,962.3 L700.9,963.5 L704.1,964.8 L707.3,966.1 L710.5,967.3 L713.7,968.5 L716.9,969.7 L720.1,970.8 L723.2,972.0 L726.4,973.1 L729.6,974.2 L732.8,975.3 L736.0,976.4 L739.2,977.4 L742.4,978.4 L745.6,979.5 L748.8,980.5 L752.0,981.4 L755.1,982.4" fill="none" stroke="#242424" stroke-width="1.1"/>
<g clip-path="url(#cp21)">
<path d="M446.1,737.4V757.2M443.5,737.4h5.3M443.5,757.2h5.3M444.9,738.6V758.5M442.2,738.6h5.3M442.2,758.5h5.3M440.5,732.4V747.3M437.9,732.4h5.3M437.9,747.3h5.3M440.2,737.4V756.0M437.5,737.4h5.3M437.5,756.0h5.3M447.6,751.6V772.1M444.9,751.6h5.3M444.9,772.1h5.3M439.9,749.8V769.6M437.3,749.8h5.3M437.3,769.6h5.3M444.2,752.3V772.1M441.6,752.3h5.3M441.6,772.1h5.3M441.8,754.7V774.6M439.1,754.7h5.3M439.1,774.6h5.3M440.9,743.6V764.6M438.3,743.6h5.3M438.3,764.6h5.3M445.5,760.9V782.0M442.8,760.9h5.3M442.8,782.0h5.3M444.9,772.1V791.9M442.2,772.1h5.3M442.2,791.9h5.3M439.7,775.8V806.8M437.0,775.8h5.3M437.0,806.8h5.3M450.4,784.5V805.5M447.8,784.5h5.3M447.8,805.5h5.3M451.1,778.3V799.3M448.4,778.3h5.3M448.4,799.3h5.3M446.1,775.2V805.5M443.5,775.2h5.3M443.5,805.5h5.3M454.2,789.4V810.5M451.5,789.4h5.3M451.5,810.5h5.3M451.1,796.9V824.1M448.4,796.9h5.3M448.4,824.1h5.3M455.6,738.6V752.9M453.0,738.6h5.3M453.0,752.9h5.3M457.9,754.7V772.1M455.2,754.7h5.3M455.2,772.1h5.3M461.3,751.6V765.9M458.7,751.6h5.3M458.7,765.9h5.3M463.2,759.7V774.6M460.6,759.7h5.3M460.6,774.6h5.3M465.7,773.9V796.2M463.0,773.9h5.3M463.0,796.2h5.3M464.7,783.2V808.0M462.0,783.2h5.3M462.0,808.0h5.3M464.9,791.9V817.9M462.3,791.9h5.3M462.3,817.9h5.3M489.5,752.0V774.2M486.8,752.0h5.3M486.8,774.2h5.3M503.1,762.2V797.5M500.5,762.2h5.3M500.5,797.5h5.3M499.6,759.7V786.3M497.0,759.7h5.3M497.0,786.3h5.3M517.0,765.6V801.6M514.3,765.6h5.3M514.3,801.6h5.3M525.8,802.4V842.1M523.1,802.4h5.3M523.1,842.1h5.3M534.9,791.9V835.3M532.3,791.9h5.3M532.3,835.3h5.3M535.1,805.5V855.1M532.4,805.5h5.3M532.4,855.1h5.3M551.4,778.9V829.7M548.8,778.9h5.3M548.8,829.7h5.3M663.7,833.0V903.2M661.1,833.0h5.3M661.1,903.2h5.3M667.4,858.1V924.2M664.7,858.1h5.3M664.7,924.2h5.3" fill="none" stroke="#1c1c1c" stroke-width="1.0"/>
<circle cx="446.1" cy="746.7" r="5.15" fill="#f6d746" stroke="#0a0a0a" stroke-width="1.15"/>
<circle cx="444.9" cy="748.5" r="5.15" fill="#f37819" stroke="#0a0a0a" stroke-width="1.15"/>
<circle cx="440.5" cy="739.2" r="5.15" fill="#eb6628" stroke="#0a0a0a" stroke-width="1.15"/>
<circle cx="440.2" cy="746.1" r="5.15" fill="#d04545" stroke="#0a0a0a" stroke-width="1.15"/>
<circle cx="447.6" cy="761.9" r="5.15" fill="#fa9207" stroke="#0a0a0a" stroke-width="1.15"/>
<circle cx="439.9" cy="759.7" r="5.15" fill="#d04545" stroke="#0a0a0a" stroke-width="1.15"/>
<circle cx="444.2" cy="762.2" r="5.15" fill="#d04545" stroke="#0a0a0a" stroke-width="1.15"/>
<circle cx="441.8" cy="764.6" r="5.15" fill="#c33b4f" stroke="#0a0a0a" stroke-width="1.15"/>
<circle cx="440.9" cy="754.1" r="5.15" fill="#d04545" stroke="#0a0a0a" stroke-width="1.15"/>
<circle cx="445.5" cy="771.1" r="5.15" fill="#ab2f5e" stroke="#0a0a0a" stroke-width="1.15"/>
<circle cx="444.9" cy="781.7" r="5.15" fill="#a32c61" stroke="#0a0a0a" stroke-width="1.15"/>
<circle cx="439.7" cy="791.7" r="5.15" fill="#d04545" stroke="#0a0a0a" stroke-width="1.15"/>
<circle cx="450.4" cy="795.6" r="5.15" fill="#7c1d6d" stroke="#0a0a0a" stroke-width="1.15"/>
<circle cx="451.1" cy="788.8" r="5.15" fill="#ca404a" stroke="#0a0a0a" stroke-width="1.15"/>
<circle cx="446.1" cy="790.7" r="5.15" fill="#7c1d6d" stroke="#0a0a0a" stroke-width="1.15"/>
<circle cx="454.2" cy="799.7" r="5.15" fill="#84206b" stroke="#0a0a0a" stroke-width="1.15"/>
<circle cx="451.1" cy="810.2" r="5.15" fill="#932667" stroke="#0a0a0a" stroke-width="1.15"/>
<circle cx="455.6" cy="745.8" r="5.15" fill="#f2ea69" stroke="#0a0a0a" stroke-width="1.15"/>
<circle cx="457.9" cy="763.4" r="5.15" fill="#fa9207" stroke="#0a0a0a" stroke-width="1.15"/>
<circle cx="461.3" cy="758.5" r="5.15" fill="#fb9b06" stroke="#0a0a0a" stroke-width="1.15"/>
<circle cx="463.2" cy="767.5" r="5.15" fill="#fca50a" stroke="#0a0a0a" stroke-width="1.15"/>
<circle cx="465.7" cy="785.1" r="5.15" fill="#d74b3f" stroke="#0a0a0a" stroke-width="1.15"/>
<circle cx="464.7" cy="795.4" r="5.15" fill="#62146e" stroke="#0a0a0a" stroke-width="1.15"/>
<circle cx="464.9" cy="804.5" r="5.15" fill="#5a116e" stroke="#0a0a0a" stroke-width="1.15"/>
<circle cx="489.5" cy="763.2" r="5.15" fill="#fb9b06" stroke="#0a0a0a" stroke-width="1.15"/>
<circle cx="503.1" cy="779.9" r="5.15" fill="#fca50a" stroke="#0a0a0a" stroke-width="1.15"/>
<circle cx="499.6" cy="773.1" r="5.15" fill="#fb9b06" stroke="#0a0a0a" stroke-width="1.15"/>
<circle cx="517.0" cy="783.9" r="5.15" fill="#f8890c" stroke="#0a0a0a" stroke-width="1.15"/>
<circle cx="525.8" cy="822.0" r="5.15" fill="#d74b3f" stroke="#0a0a0a" stroke-width="1.15"/>
<circle cx="534.9" cy="813.2" r="5.15" fill="#f37819" stroke="#0a0a0a" stroke-width="1.15"/>
<circle cx="535.1" cy="830.3" r="5.15" fill="#f06f20" stroke="#0a0a0a" stroke-width="1.15"/>
<circle cx="551.4" cy="804.0" r="5.15" fill="#f37819" stroke="#0a0a0a" stroke-width="1.15"/>
<circle cx="663.7" cy="868.2" r="5.15" fill="#e25734" stroke="#0a0a0a" stroke-width="1.15"/>
<circle cx="667.4" cy="891.3" r="5.15" fill="#b3325a" stroke="#0a0a0a" stroke-width="1.15"/>
</g>
<rect x="436.1" y="724.3" width="319.0" height="312.6" fill="none" stroke="#7a7a7a" stroke-width="1.4"/>
<path d="M499.9,1036.9v-3.5M499.9,724.3v3.5M563.8,1036.9v-3.5M563.8,724.3v3.5M627.5,1036.9v-3.5M627.5,724.3v3.5M691.4,1036.9v-3.5M691.4,724.3v3.5M436.1,974.4h3.5M755.1,974.4h-3.5M436.1,911.9h3.5M755.1,911.9h-3.5M436.1,849.3h3.5M755.1,849.3h-3.5M436.1,786.8h3.5M755.1,786.8h-3.5" fill="none" stroke="#7a7a7a" stroke-width="1.1"/>
<text transform="translate(678.3,753.0)" font-size="30.2" text-anchor="start">(c-2)</text>
<text transform="translate(691.1,816.5) scale(1,1.07)" font-size="21.25" text-anchor="start"><tspan font-style="italic">Q</tspan>=0.5</text>
<text transform="translate(691.1,881.5) scale(1,1.07)" font-size="21.25" text-anchor="start"><tspan font-style="italic">Q</tspan>=1.0</text>
<text transform="translate(691.1,927.3) scale(1,1.07)" font-size="21.25" text-anchor="start"><tspan font-style="italic">Q</tspan>=1.5</text>
<text transform="translate(691.1,959.6) scale(1,1.07)" font-size="21.25" text-anchor="start"><tspan font-style="italic">Q</tspan>=2.0</text>
</g>
<g>
<clipPath id="cp22"><rect x="768.0" y="724.3" width="319.0" height="312.6"/></clipPath>
<path d="M768.0,724.3 L771.2,726.4 L774.4,728.5 L777.6,730.6 L780.8,732.6 L784.0,734.7 L787.2,736.7 L790.4,738.7 L793.6,740.7 L796.8,742.7 L799.9,744.7 L803.1,746.7 L806.3,748.6 L809.5,750.6 L812.7,752.5 L815.9,754.4 L819.1,756.3 L822.3,758.2 L825.5,760.1 L828.7,762.0 L831.8,763.8 L835.0,765.7 L838.2,767.5 L841.4,769.3 L844.6,771.1 L847.8,772.9 L851.0,774.7 L854.2,776.4 L857.4,778.2 L860.6,779.9 L863.8,781.7 L866.9,783.4 L870.1,785.1 L873.3,786.8 L876.5,788.5 L879.7,790.1 L882.9,791.8 L886.1,793.5 L889.3,795.1 L892.5,796.7 L895.6,798.3 L898.8,799.9 L902.0,801.5 L905.2,803.1 L908.4,804.7 L911.6,806.3 L914.8,807.8 L918.0,809.4 L921.2,810.9 L924.4,812.4 L927.5,813.9 L930.7,815.4 L933.9,816.9 L937.1,818.4 L940.3,819.9 L943.5,821.3 L946.7,822.8 L949.9,824.2 L953.1,825.7 L956.3,827.1 L959.4,828.5 L962.6,829.9 L965.8,831.3 L969.0,832.7 L972.2,834.1 L975.4,835.4 L978.6,836.8 L981.8,838.1 L985.0,839.5 L988.2,840.8 L991.3,842.1 L994.5,843.4 L997.7,844.7 L1000.9,846.0 L1004.1,847.3 L1007.3,848.6 L1010.5,849.8 L1013.7,851.1 L1016.9,852.4 L1020.1,853.6 L1023.2,854.8 L1026.4,856.1 L1029.6,857.3 L1032.8,858.5 L1036.0,859.7 L1039.2,860.9 L1042.4,862.1 L1045.6,863.2 L1048.8,864.4 L1052.0,865.6 L1055.2,866.7 L1058.3,867.9 L1061.5,869.0 L1064.7,870.1 L1067.9,871.3 L1071.1,872.4 L1074.3,873.5 L1077.5,874.6 L1080.7,875.7 L1083.9,876.8 L1087.0,877.9" fill="none" stroke="#242424" stroke-width="1.1"/>
<path d="M768.0,724.3 L771.2,728.5 L774.4,732.6 L777.6,736.7 L780.8,740.7 L784.0,744.7 L787.2,748.6 L790.4,752.5 L793.6,756.3 L796.8,760.1 L799.9,763.8 L803.1,767.5 L806.3,771.1 L809.5,774.7 L812.7,778.2 L815.9,781.7 L819.1,785.1 L822.3,788.5 L825.5,791.8 L828.7,795.1 L831.8,798.3 L835.0,801.5 L838.2,804.7 L841.4,807.8 L844.6,810.9 L847.8,813.9 L851.0,816.9 L854.2,819.9 L857.4,822.8 L860.6,825.7 L863.8,828.5 L866.9,831.3 L870.1,834.1 L873.3,836.8 L876.5,839.5 L879.7,842.1 L882.9,844.7 L886.1,847.3 L889.3,849.8 L892.5,852.4 L895.6,854.8 L898.8,857.3 L902.0,859.7 L905.2,862.1 L908.4,864.4 L911.6,866.7 L914.8,869.0 L918.0,871.3 L921.2,873.5 L924.4,875.7 L927.5,877.9 L930.7,880.0 L933.9,882.1 L937.1,884.2 L940.3,886.2 L943.5,888.2 L946.7,890.2 L949.9,892.2 L953.1,894.2 L956.3,896.1 L959.4,898.0 L962.6,899.8 L965.8,901.7 L969.0,903.5 L972.2,905.3 L975.4,907.0 L978.6,908.8 L981.8,910.5 L985.0,912.2 L988.2,913.9 L991.3,915.5 L994.5,917.2 L997.7,918.8 L1000.9,920.3 L1004.1,921.9 L1007.3,923.5 L1010.5,925.0 L1013.7,926.5 L1016.9,928.0 L1020.1,929.4 L1023.2,930.9 L1026.4,932.3 L1029.6,933.7 L1032.8,935.1 L1036.0,936.4 L1039.2,937.8 L1042.4,939.1 L1045.6,940.4 L1048.8,941.7 L1052.0,943.0 L1055.2,944.3 L1058.3,945.5 L1061.5,946.7 L1064.7,947.9 L1067.9,949.1 L1071.1,950.3 L1074.3,951.5 L1077.5,952.6 L1080.7,953.8 L1083.9,954.9 L1087.0,956.0" fill="none" stroke="#242424" stroke-width="1.1"/>
<path d="M768.0,724.3 L771.2,730.6 L774.4,736.7 L777.6,742.7 L780.8,748.6 L784.0,754.4 L787.2,760.1 L790.4,765.7 L793.6,771.1 L796.8,776.4 L799.9,781.7 L803.1,786.8 L806.3,791.8 L809.5,796.7 L812.7,801.5 L815.9,806.3 L819.1,810.9 L822.3,815.4 L825.5,819.9 L828.7,824.2 L831.8,828.5 L835.0,832.7 L838.2,836.8 L841.4,840.8 L844.6,844.7 L847.8,848.6 L851.0,852.4 L854.2,856.1 L857.4,859.7 L860.6,863.2 L863.8,866.7 L866.9,870.1 L870.1,873.5 L873.3,876.8 L876.5,880.0 L879.7,883.1 L882.9,886.2 L886.1,889.2 L889.3,892.2 L892.5,895.1 L895.6,898.0 L898.8,900.7 L902.0,903.5 L905.2,906.2 L908.4,908.8 L911.6,911.3 L914.8,913.9 L918.0,916.3 L921.2,918.8 L924.4,921.1 L927.5,923.5 L930.7,925.7 L933.9,928.0 L937.1,930.1 L940.3,932.3 L943.5,934.4 L946.7,936.4 L949.9,938.5 L953.1,940.4 L956.3,942.4 L959.4,944.3 L962.6,946.1 L965.8,947.9 L969.0,949.7 L972.2,951.5 L975.4,953.2 L978.6,954.9 L981.8,956.5 L985.0,958.1 L988.2,959.7 L991.3,961.3 L994.5,962.8 L997.7,964.3 L1000.9,965.7 L1004.1,967.2 L1007.3,968.6 L1010.5,969.9 L1013.7,971.3 L1016.9,972.6 L1020.1,973.9 L1023.2,975.1 L1026.4,976.4 L1029.6,977.6 L1032.8,978.8 L1036.0,980.0 L1039.2,981.1 L1042.4,982.2 L1045.6,983.3 L1048.8,984.4 L1052.0,985.4 L1055.2,986.5 L1058.3,987.5 L1061.5,988.5 L1064.7,989.5 L1067.9,990.4 L1071.1,991.3 L1074.3,992.2 L1077.5,993.1 L1080.7,994.0 L1083.9,994.9 L1087.0,995.7" fill="none" stroke="#242424" stroke-width="1.1"/>
<path d="M768.0,724.3 L771.2,732.6 L774.4,740.7 L777.6,748.6 L780.8,756.3 L784.0,763.8 L787.2,771.1 L790.4,778.2 L793.6,785.1 L796.8,791.8 L799.9,798.3 L803.1,804.7 L806.3,810.9 L809.5,816.9 L812.7,822.8 L815.9,828.5 L819.1,834.1 L822.3,839.5 L825.5,844.7 L828.7,849.8 L831.8,854.8 L835.0,859.7 L838.2,864.4 L841.4,869.0 L844.6,873.5 L847.8,877.9 L851.0,882.1 L854.2,886.2 L857.4,890.2 L860.6,894.2 L863.8,898.0 L866.9,901.7 L870.1,905.3 L873.3,908.8 L876.5,912.2 L879.7,915.5 L882.9,918.8 L886.1,921.9 L889.3,925.0 L892.5,928.0 L895.6,930.9 L898.8,933.7 L902.0,936.4 L905.2,939.1 L908.4,941.7 L911.6,944.3 L914.8,946.7 L918.0,949.1 L921.2,951.5 L924.4,953.8 L927.5,956.0 L930.7,958.1 L933.9,960.2 L937.1,962.3 L940.3,964.3 L943.5,966.2 L946.7,968.1 L949.9,969.9 L953.1,971.7 L956.3,973.5 L959.4,975.1 L962.6,976.8 L965.8,978.4 L969.0,980.0 L972.2,981.5 L975.4,983.0 L978.6,984.4 L981.8,985.8 L985.0,987.2 L988.2,988.5 L991.3,989.8 L994.5,991.0 L997.7,992.2 L1000.9,993.4 L1004.1,994.6 L1007.3,995.7 L1010.5,996.8 L1013.7,997.9 L1016.9,998.9 L1020.1,999.9 L1023.2,1000.9 L1026.4,1001.9 L1029.6,1002.8 L1032.8,1003.7 L1036.0,1004.6 L1039.2,1005.5 L1042.4,1006.3 L1045.6,1007.1 L1048.8,1007.9 L1052.0,1008.7 L1055.2,1009.5 L1058.3,1010.2 L1061.5,1010.9 L1064.7,1011.6 L1067.9,1012.3 L1071.1,1012.9 L1074.3,1013.6 L1077.5,1014.2 L1080.7,1014.8 L1083.9,1015.4 L1087.0,1016.0" fill="none" stroke="#242424" stroke-width="1.1"/>
<g clip-path="url(#cp22)">
<path d="M778.1,737.4V756.0M775.5,737.4h5.3M775.5,756.0h5.3M776.9,738.6V757.2M774.2,738.6h5.3M774.2,757.2h5.3M772.5,732.4V747.3M769.9,732.4h5.3M769.9,747.3h5.3M772.2,737.4V754.7M769.5,737.4h5.3M769.5,754.7h5.3M771.9,749.8V769.6M769.3,749.8h5.3M769.3,769.6h5.3M776.2,753.5V773.3M773.6,753.5h5.3M773.6,773.3h5.3M772.9,742.3V762.2M770.3,742.3h5.3M770.3,762.2h5.3M777.5,757.2V777.0M774.8,757.2h5.3M774.8,777.0h5.3M776.9,772.1V791.9M774.2,772.1h5.3M774.2,791.9h5.3M771.3,772.7V802.8M768.6,772.7h5.3M768.6,802.8h5.3M781.8,784.5V804.3M779.2,784.5h5.3M779.2,804.3h5.3M783.1,779.5V800.6M780.4,779.5h5.3M780.4,800.6h5.3M778.1,774.6V799.3M775.5,774.6h5.3M775.5,799.3h5.3M787.4,794.4V817.3M784.7,794.4h5.3M784.7,817.3h5.3M782.8,794.4V820.4M780.2,794.4h5.3M780.2,820.4h5.3M787.4,737.4V754.7M784.7,737.4h5.3M784.7,754.7h5.3M789.9,760.9V778.3M787.2,760.9h5.3M787.2,778.3h5.3M793.3,754.7V769.6M790.7,754.7h5.3M790.7,769.6h5.3M795.2,764.6V779.5M792.6,764.6h5.3M792.6,779.5h5.3M797.7,778.9V801.8M795.0,778.9h5.3M795.0,801.8h5.3M796.7,789.4V811.7M794.0,789.4h5.3M794.0,811.7h5.3M796.9,796.9V824.4M794.3,796.9h5.3M794.3,824.4h5.3M821.2,758.2V779.9M818.6,758.2h5.3M818.6,779.9h5.3M835.3,771.8V801.8M832.7,771.8h5.3M832.7,801.8h5.3M831.6,768.6V796.9M829.0,768.6h5.3M829.0,796.9h5.3M848.7,778.9V816.7M846.1,778.9h5.3M846.1,816.7h5.3M857.7,813.0V859.2M855.0,813.0h5.3M855.0,859.2h5.3M866.9,806.5V857.0M864.3,806.5h5.3M864.3,857.0h5.3M866.9,820.4V876.2M864.3,820.4h5.3M864.3,876.2h5.3M883.2,791.9V838.0M880.5,791.9h5.3M880.5,838.0h5.3M995.4,839.5V911.5M992.7,839.5h5.3M992.7,911.5h5.3M999.2,858.6V931.1M996.6,858.6h5.3M996.6,931.1h5.3" fill="none" stroke="#1c1c1c" stroke-width="1.0"/>
<circle cx="778.1" cy="746.3" r="5.15" fill="#f6d746" stroke="#0a0a0a" stroke-width="1.15"/>
<circle cx="776.9" cy="747.9" r="5.15" fill="#f37819" stroke="#0a0a0a" stroke-width="1.15"/>
<circle cx="772.5" cy="739.2" r="5.15" fill="#f37819" stroke="#0a0a0a" stroke-width="1.15"/>
<circle cx="772.2" cy="745.4" r="5.15" fill="#d74b3f" stroke="#0a0a0a" stroke-width="1.15"/>
<circle cx="771.9" cy="759.7" r="5.15" fill="#d74b3f" stroke="#0a0a0a" stroke-width="1.15"/>
<circle cx="776.2" cy="763.4" r="5.15" fill="#d74b3f" stroke="#0a0a0a" stroke-width="1.15"/>
<circle cx="772.9" cy="752.0" r="5.15" fill="#d74b3f" stroke="#0a0a0a" stroke-width="1.15"/>
<circle cx="777.5" cy="767.1" r="5.15" fill="#ba3655" stroke="#0a0a0a" stroke-width="1.15"/>
<circle cx="776.9" cy="781.4" r="5.15" fill="#b3325a" stroke="#0a0a0a" stroke-width="1.15"/>
<circle cx="771.3" cy="787.9" r="5.15" fill="#d04545" stroke="#0a0a0a" stroke-width="1.15"/>
<circle cx="781.8" cy="794.4" r="5.15" fill="#7c1d6d" stroke="#0a0a0a" stroke-width="1.15"/>
<circle cx="783.1" cy="790.0" r="5.15" fill="#d74b3f" stroke="#0a0a0a" stroke-width="1.15"/>
<circle cx="778.1" cy="787.6" r="5.15" fill="#8c2369" stroke="#0a0a0a" stroke-width="1.15"/>
<circle cx="787.4" cy="805.3" r="5.15" fill="#932667" stroke="#0a0a0a" stroke-width="1.15"/>
<circle cx="782.8" cy="806.8" r="5.15" fill="#ab2f5e" stroke="#0a0a0a" stroke-width="1.15"/>
<circle cx="787.4" cy="746.1" r="5.15" fill="#f2ea69" stroke="#0a0a0a" stroke-width="1.15"/>
<circle cx="789.9" cy="769.4" r="5.15" fill="#fa9207" stroke="#0a0a0a" stroke-width="1.15"/>
<circle cx="793.3" cy="761.9" r="5.15" fill="#fb9b06" stroke="#0a0a0a" stroke-width="1.15"/>
<circle cx="795.2" cy="772.5" r="5.15" fill="#fca50a" stroke="#0a0a0a" stroke-width="1.15"/>
<circle cx="797.7" cy="790.7" r="5.15" fill="#e25734" stroke="#0a0a0a" stroke-width="1.15"/>
<circle cx="796.7" cy="800.6" r="5.15" fill="#721a6e" stroke="#0a0a0a" stroke-width="1.15"/>
<circle cx="796.9" cy="810.2" r="5.15" fill="#6a176e" stroke="#0a0a0a" stroke-width="1.15"/>
<circle cx="821.2" cy="769.4" r="5.15" fill="#fb9b06" stroke="#0a0a0a" stroke-width="1.15"/>
<circle cx="835.3" cy="786.7" r="5.15" fill="#fca50a" stroke="#0a0a0a" stroke-width="1.15"/>
<circle cx="831.6" cy="782.6" r="5.15" fill="#fb9b06" stroke="#0a0a0a" stroke-width="1.15"/>
<circle cx="848.7" cy="797.9" r="5.15" fill="#fa9207" stroke="#0a0a0a" stroke-width="1.15"/>
<circle cx="857.7" cy="835.9" r="5.15" fill="#d74b3f" stroke="#0a0a0a" stroke-width="1.15"/>
<circle cx="866.9" cy="831.3" r="5.15" fill="#f37819" stroke="#0a0a0a" stroke-width="1.15"/>
<circle cx="866.9" cy="848.3" r="5.15" fill="#f06f20" stroke="#0a0a0a" stroke-width="1.15"/>
<circle cx="883.2" cy="814.5" r="5.15" fill="#f8890c" stroke="#0a0a0a" stroke-width="1.15"/>
<circle cx="995.4" cy="875.6" r="5.15" fill="#e75e2e" stroke="#0a0a0a" stroke-width="1.15"/>
<circle cx="999.2" cy="895.1" r="5.15" fill="#ba3655" stroke="#0a0a0a" stroke-width="1.15"/>
</g>
<rect x="768.0" y="724.3" width="319.0" height="312.6" fill="none" stroke="#7a7a7a" stroke-width="1.4"/>
<path d="M831.8,1036.9v-3.5M831.8,724.3v3.5M895.6,1036.9v-3.5M895.6,724.3v3.5M959.4,1036.9v-3.5M959.4,724.3v3.5M1023.2,1036.9v-3.5M1023.2,724.3v3.5M768.0,974.4h3.5M1087.0,974.4h-3.5M768.0,911.9h3.5M1087.0,911.9h-3.5M768.0,849.3h3.5M1087.0,849.3h-3.5M768.0,786.8h3.5M1087.0,786.8h-3.5" fill="none" stroke="#7a7a7a" stroke-width="1.1"/>
<text transform="translate(1014.4,753.0)" font-size="30.2" text-anchor="start">(c-3)</text>
<text transform="translate(1023.0,854.8) scale(1,1.07)" font-size="21.25" text-anchor="start"><tspan font-style="italic">Q</tspan>=0.5</text>
<text transform="translate(1023.0,930.9) scale(1,1.07)" font-size="21.25" text-anchor="start"><tspan font-style="italic">Q</tspan>=1.0</text>
<text transform="translate(1023.0,975.1) scale(1,1.07)" font-size="21.25" text-anchor="start"><tspan font-style="italic">Q</tspan>=1.5</text>
<text transform="translate(1023.0,1000.9) scale(1,1.07)" font-size="21.25" text-anchor="start"><tspan font-style="italic">Q</tspan>=2.0</text>
</g>
<g>
<clipPath id="cp23"><rect x="1099.9" y="724.3" width="319.0" height="312.6"/></clipPath>
<path d="M1099.9,724.3 L1103.1,727.0 L1106.3,729.7 L1109.5,732.4 L1112.7,735.0 L1115.9,737.6 L1119.1,740.2 L1122.3,742.8 L1125.5,745.4 L1128.7,747.9 L1131.8,750.4 L1135.0,752.9 L1138.2,755.4 L1141.4,757.8 L1144.6,760.2 L1147.8,762.6 L1151.0,765.0 L1154.2,767.4 L1157.4,769.7 L1160.6,772.0 L1163.7,774.3 L1166.9,776.6 L1170.1,778.9 L1173.3,781.1 L1176.5,783.4 L1179.7,785.6 L1182.9,787.7 L1186.1,789.9 L1189.3,792.0 L1192.5,794.2 L1195.6,796.3 L1198.8,798.4 L1202.0,800.4 L1205.2,802.5 L1208.4,804.5 L1211.6,806.6 L1214.8,808.6 L1218.0,810.5 L1221.2,812.5 L1224.4,814.5 L1227.5,816.4 L1230.7,818.3 L1233.9,820.2 L1237.1,822.1 L1240.3,823.9 L1243.5,825.8 L1246.7,827.6 L1249.9,829.4 L1253.1,831.2 L1256.3,833.0 L1259.4,834.8 L1262.6,836.6 L1265.8,838.3 L1269.0,840.0 L1272.2,841.7 L1275.4,843.4 L1278.6,845.1 L1281.8,846.8 L1285.0,848.4 L1288.2,850.1 L1291.3,851.7 L1294.5,853.3 L1297.7,854.9 L1300.9,856.5 L1304.1,858.0 L1307.3,859.6 L1310.5,861.1 L1313.7,862.7 L1316.9,864.2 L1320.1,865.7 L1323.2,867.2 L1326.4,868.6 L1329.6,870.1 L1332.8,871.5 L1336.0,873.0 L1339.2,874.4 L1342.4,875.8 L1345.6,877.2 L1348.8,878.6 L1352.0,880.0 L1355.1,881.3 L1358.3,882.7 L1361.5,884.0 L1364.7,885.4 L1367.9,886.7 L1371.1,888.0 L1374.3,889.3 L1377.5,890.6 L1380.7,891.8 L1383.9,893.1 L1387.0,894.3 L1390.2,895.6 L1393.4,896.8 L1396.6,898.0 L1399.8,899.2 L1403.0,900.4 L1406.2,901.6 L1409.4,902.8 L1412.6,903.9 L1415.8,905.1 L1418.9,906.2" fill="none" stroke="#242424" stroke-width="1.1"/>
<path d="M1099.9,724.3 L1103.1,729.7 L1106.3,735.0 L1109.5,740.2 L1112.7,745.4 L1115.9,750.4 L1119.1,755.4 L1122.3,760.2 L1125.5,765.0 L1128.7,769.7 L1131.8,774.3 L1135.0,778.9 L1138.2,783.4 L1141.4,787.7 L1144.6,792.0 L1147.8,796.3 L1151.0,800.4 L1154.2,804.5 L1157.4,808.6 L1160.6,812.5 L1163.7,816.4 L1166.9,820.2 L1170.1,823.9 L1173.3,827.6 L1176.5,831.2 L1179.7,834.8 L1182.9,838.3 L1186.1,841.7 L1189.3,845.1 L1192.5,848.4 L1195.6,851.7 L1198.8,854.9 L1202.0,858.0 L1205.2,861.1 L1208.4,864.2 L1211.6,867.2 L1214.8,870.1 L1218.0,873.0 L1221.2,875.8 L1224.4,878.6 L1227.5,881.3 L1230.7,884.0 L1233.9,886.7 L1237.1,889.3 L1240.3,891.8 L1243.5,894.3 L1246.7,896.8 L1249.9,899.2 L1253.1,901.6 L1256.3,903.9 L1259.4,906.2 L1262.6,908.5 L1265.8,910.7 L1269.0,912.9 L1272.2,915.1 L1275.4,917.2 L1278.6,919.2 L1281.8,921.3 L1285.0,923.3 L1288.2,925.2 L1291.3,927.2 L1294.5,929.1 L1297.7,930.9 L1300.9,932.8 L1304.1,934.6 L1307.3,936.3 L1310.5,938.1 L1313.7,939.8 L1316.9,941.5 L1320.1,943.1 L1323.2,944.7 L1326.4,946.3 L1329.6,947.9 L1332.8,949.4 L1336.0,950.9 L1339.2,952.4 L1342.4,953.9 L1345.6,955.3 L1348.8,956.7 L1352.0,958.1 L1355.1,959.5 L1358.3,960.8 L1361.5,962.1 L1364.7,963.4 L1367.9,964.7 L1371.1,966.0 L1374.3,967.2 L1377.5,968.4 L1380.7,969.6 L1383.9,970.7 L1387.0,971.9 L1390.2,973.0 L1393.4,974.1 L1396.6,975.2 L1399.8,976.3 L1403.0,977.3 L1406.2,978.3 L1409.4,979.4 L1412.6,980.4 L1415.8,981.3 L1418.9,982.3" fill="none" stroke="#242424" stroke-width="1.1"/>
<path d="M1099.9,724.3 L1103.1,732.4 L1106.3,740.2 L1109.5,747.9 L1112.7,755.4 L1115.9,762.6 L1119.1,769.7 L1122.3,776.6 L1125.5,783.4 L1128.7,789.9 L1131.8,796.3 L1135.0,802.5 L1138.2,808.6 L1141.4,814.5 L1144.6,820.2 L1147.8,825.8 L1151.0,831.2 L1154.2,836.6 L1157.4,841.7 L1160.6,846.8 L1163.7,851.7 L1166.9,856.5 L1170.1,861.1 L1173.3,865.7 L1176.5,870.1 L1179.7,874.4 L1182.9,878.6 L1186.1,882.7 L1189.3,886.7 L1192.5,890.6 L1195.6,894.3 L1198.8,898.0 L1202.0,901.6 L1205.2,905.1 L1208.4,908.5 L1211.6,911.8 L1214.8,915.1 L1218.0,918.2 L1221.2,921.3 L1224.4,924.3 L1227.5,927.2 L1230.7,930.0 L1233.9,932.8 L1237.1,935.5 L1240.3,938.1 L1243.5,940.6 L1246.7,943.1 L1249.9,945.5 L1253.1,947.9 L1256.3,950.2 L1259.4,952.4 L1262.6,954.6 L1265.8,956.7 L1269.0,958.8 L1272.2,960.8 L1275.4,962.8 L1278.6,964.7 L1281.8,966.6 L1285.0,968.4 L1288.2,970.2 L1291.3,971.9 L1294.5,973.6 L1297.7,975.2 L1300.9,976.8 L1304.1,978.3 L1307.3,979.9 L1310.5,981.3 L1313.7,982.8 L1316.9,984.2 L1320.1,985.5 L1323.2,986.9 L1326.4,988.1 L1329.6,989.4 L1332.8,990.6 L1336.0,991.8 L1339.2,993.0 L1342.4,994.1 L1345.6,995.2 L1348.8,996.3 L1352.0,997.4 L1355.1,998.4 L1358.3,999.4 L1361.5,1000.3 L1364.7,1001.3 L1367.9,1002.2 L1371.1,1003.1 L1374.3,1004.0 L1377.5,1004.8 L1380.7,1005.7 L1383.9,1006.5 L1387.0,1007.2 L1390.2,1008.0 L1393.4,1008.8 L1396.6,1009.5 L1399.8,1010.2 L1403.0,1010.9 L1406.2,1011.6 L1409.4,1012.2 L1412.6,1012.8 L1415.8,1013.5 L1418.9,1014.1" fill="none" stroke="#242424" stroke-width="1.1"/>
<path d="M1099.9,724.3 L1103.1,735.0 L1106.3,745.4 L1109.5,755.4 L1112.7,765.0 L1115.9,774.3 L1119.1,783.4 L1122.3,792.0 L1125.5,800.4 L1128.7,808.6 L1131.8,816.4 L1135.0,823.9 L1138.2,831.2 L1141.4,838.3 L1144.6,845.1 L1147.8,851.7 L1151.0,858.0 L1154.2,864.2 L1157.4,870.1 L1160.6,875.8 L1163.7,881.3 L1166.9,886.7 L1170.1,891.8 L1173.3,896.8 L1176.5,901.6 L1179.7,906.2 L1182.9,910.7 L1186.1,915.1 L1189.3,919.2 L1192.5,923.3 L1195.6,927.2 L1198.8,930.9 L1202.0,934.6 L1205.2,938.1 L1208.4,941.5 L1211.6,944.7 L1214.8,947.9 L1218.0,950.9 L1221.2,953.9 L1224.4,956.7 L1227.5,959.5 L1230.7,962.1 L1233.9,964.7 L1237.1,967.2 L1240.3,969.6 L1243.5,971.9 L1246.7,974.1 L1249.9,976.3 L1253.1,978.3 L1256.3,980.4 L1259.4,982.3 L1262.6,984.2 L1265.8,986.0 L1269.0,987.7 L1272.2,989.4 L1275.4,991.0 L1278.6,992.6 L1281.8,994.1 L1285.0,995.6 L1288.2,997.0 L1291.3,998.4 L1294.5,999.7 L1297.7,1001.0 L1300.9,1002.2 L1304.1,1003.4 L1307.3,1004.5 L1310.5,1005.7 L1313.7,1006.7 L1316.9,1007.8 L1320.1,1008.8 L1323.2,1009.7 L1326.4,1010.7 L1329.6,1011.6 L1332.8,1012.4 L1336.0,1013.3 L1339.2,1014.1 L1342.4,1014.9 L1345.6,1015.6 L1348.8,1016.3 L1352.0,1017.0 L1355.1,1017.7 L1358.3,1018.4 L1361.5,1019.0 L1364.7,1019.6 L1367.9,1020.2 L1371.1,1020.8 L1374.3,1021.4 L1377.5,1021.9 L1380.7,1022.4 L1383.9,1022.9 L1387.0,1023.4 L1390.2,1023.8 L1393.4,1024.3 L1396.6,1024.7 L1399.8,1025.1 L1403.0,1025.5 L1406.2,1025.9 L1409.4,1026.3 L1412.6,1026.7 L1415.8,1027.0 L1418.9,1027.4" fill="none" stroke="#242424" stroke-width="1.1"/>
<g clip-path="url(#cp23)">
<path d="M1110.1,738.6V757.2M1107.5,738.6h5.3M1107.5,757.2h5.3M1104.5,733.7V748.5M1101.9,733.7h5.3M1101.9,748.5h5.3M1103.9,737.4V756.0M1101.3,737.4h5.3M1101.3,756.0h5.3M1104.9,742.3V760.9M1102.3,742.3h5.3M1102.3,760.9h5.3M1103.3,753.5V772.1M1100.6,753.5h5.3M1100.6,772.1h5.3M1107.0,760.9V779.5M1104.4,760.9h5.3M1104.4,779.5h5.3M1109.2,754.7V773.3M1106.6,754.7h5.3M1106.6,773.3h5.3M1110.1,765.9V785.7M1107.5,765.9h5.3M1107.5,785.7h5.3M1103.7,775.8V800.0M1101.0,775.8h5.3M1101.0,800.0h5.3M1108.2,773.3V793.1M1105.6,773.3h5.3M1105.6,793.1h5.3M1113.8,783.2V804.3M1111.2,783.2h5.3M1111.2,804.3h5.3M1115.1,779.5V799.3M1112.4,779.5h5.3M1112.4,799.3h5.3M1109.9,775.8V796.9M1107.2,775.8h5.3M1107.2,796.9h5.3M1114.7,796.9V816.7M1112.0,796.9h5.3M1112.0,816.7h5.3M1117.8,799.3V832.8M1115.1,799.3h5.3M1115.1,832.8h5.3M1119.4,737.4V760.3M1116.7,737.4h5.3M1116.7,760.3h5.3M1125.2,757.8V779.5M1122.6,757.8h5.3M1122.6,779.5h5.3M1122.5,770.8V789.4M1119.8,770.8h5.3M1119.8,789.4h5.3M1127.2,773.3V792.5M1124.6,773.3h5.3M1124.6,792.5h5.3M1129.6,790.7V811.7M1126.9,790.7h5.3M1126.9,811.7h5.3M1128.7,799.3V821.6M1126.0,799.3h5.3M1126.0,821.6h5.3M1128.7,804.3V837.7M1126.0,804.3h5.3M1126.0,837.7h5.3M1153.2,764.9V796.2M1150.6,764.9h5.3M1150.6,796.2h5.3M1168.3,779.3V819.8M1165.7,779.3h5.3M1165.7,819.8h5.3M1163.4,777.0V817.9M1160.7,777.0h5.3M1160.7,817.9h5.3M1180.7,790.0V840.2M1178.1,790.0h5.3M1178.1,840.2h5.3M1189.6,831.8V875.6M1186.9,831.8h5.3M1186.9,875.6h5.3M1198.8,820.3V879.6M1196.2,820.3h5.3M1196.2,879.6h5.3M1198.8,836.6V893.1M1196.2,836.6h5.3M1196.2,893.1h5.3M1215.4,801.0V856.5M1212.7,801.0h5.3M1212.7,856.5h5.3M1327.4,846.1V913.5M1324.7,846.1h5.3M1324.7,913.5h5.3M1330.9,864.4V929.4M1328.2,864.4h5.3M1328.2,929.4h5.3" fill="none" stroke="#1c1c1c" stroke-width="1.0"/>
<circle cx="1110.1" cy="747.9" r="5.15" fill="#f4e156" stroke="#0a0a0a" stroke-width="1.15"/>
<circle cx="1104.5" cy="741.1" r="5.15" fill="#f37819" stroke="#0a0a0a" stroke-width="1.15"/>
<circle cx="1103.9" cy="746.7" r="5.15" fill="#e25734" stroke="#0a0a0a" stroke-width="1.15"/>
<circle cx="1104.9" cy="751.6" r="5.15" fill="#d74b3f" stroke="#0a0a0a" stroke-width="1.15"/>
<circle cx="1103.3" cy="762.8" r="5.15" fill="#dd513a" stroke="#0a0a0a" stroke-width="1.15"/>
<circle cx="1107.0" cy="770.2" r="5.15" fill="#e25734" stroke="#0a0a0a" stroke-width="1.15"/>
<circle cx="1109.2" cy="763.7" r="5.15" fill="#ca404a" stroke="#0a0a0a" stroke-width="1.15"/>
<circle cx="1110.1" cy="775.8" r="5.15" fill="#f06f20" stroke="#0a0a0a" stroke-width="1.15"/>
<circle cx="1103.7" cy="788.4" r="5.15" fill="#e25734" stroke="#0a0a0a" stroke-width="1.15"/>
<circle cx="1108.2" cy="783.2" r="5.15" fill="#d04545" stroke="#0a0a0a" stroke-width="1.15"/>
<circle cx="1113.8" cy="793.8" r="5.15" fill="#8c2369" stroke="#0a0a0a" stroke-width="1.15"/>
<circle cx="1115.1" cy="790.0" r="5.15" fill="#eb6628" stroke="#0a0a0a" stroke-width="1.15"/>
<circle cx="1109.9" cy="786.6" r="5.15" fill="#9b2964" stroke="#0a0a0a" stroke-width="1.15"/>
<circle cx="1114.7" cy="806.2" r="5.15" fill="#ca404a" stroke="#0a0a0a" stroke-width="1.15"/>
<circle cx="1117.8" cy="816.3" r="5.15" fill="#a32c61" stroke="#0a0a0a" stroke-width="1.15"/>
<circle cx="1119.4" cy="748.8" r="5.15" fill="#f2ea69" stroke="#0a0a0a" stroke-width="1.15"/>
<circle cx="1125.2" cy="769.4" r="5.15" fill="#fca50a" stroke="#0a0a0a" stroke-width="1.15"/>
<circle cx="1122.5" cy="779.5" r="5.15" fill="#fcae12" stroke="#0a0a0a" stroke-width="1.15"/>
<circle cx="1127.2" cy="782.6" r="5.15" fill="#fca50a" stroke="#0a0a0a" stroke-width="1.15"/>
<circle cx="1129.6" cy="801.6" r="5.15" fill="#f06f20" stroke="#0a0a0a" stroke-width="1.15"/>
<circle cx="1128.7" cy="809.9" r="5.15" fill="#932667" stroke="#0a0a0a" stroke-width="1.15"/>
<circle cx="1128.7" cy="819.8" r="5.15" fill="#9b2964" stroke="#0a0a0a" stroke-width="1.15"/>
<circle cx="1153.2" cy="780.4" r="5.15" fill="#fca50a" stroke="#0a0a0a" stroke-width="1.15"/>
<circle cx="1168.3" cy="800.0" r="5.15" fill="#fcae12" stroke="#0a0a0a" stroke-width="1.15"/>
<circle cx="1163.4" cy="797.5" r="5.15" fill="#fca50a" stroke="#0a0a0a" stroke-width="1.15"/>
<circle cx="1180.7" cy="815.2" r="5.15" fill="#fb9b06" stroke="#0a0a0a" stroke-width="1.15"/>
<circle cx="1189.6" cy="854.1" r="5.15" fill="#d74b3f" stroke="#0a0a0a" stroke-width="1.15"/>
<circle cx="1198.8" cy="849.6" r="5.15" fill="#f68013" stroke="#0a0a0a" stroke-width="1.15"/>
<circle cx="1198.8" cy="865.2" r="5.15" fill="#f06f20" stroke="#0a0a0a" stroke-width="1.15"/>
<circle cx="1215.4" cy="828.9" r="5.15" fill="#fa9207" stroke="#0a0a0a" stroke-width="1.15"/>
<circle cx="1327.4" cy="880.4" r="5.15" fill="#f06f20" stroke="#0a0a0a" stroke-width="1.15"/>
<circle cx="1330.9" cy="897.1" r="5.15" fill="#d74b3f" stroke="#0a0a0a" stroke-width="1.15"/>
</g>
<rect x="1099.9" y="724.3" width="319.0" height="312.6" fill="none" stroke="#7a7a7a" stroke-width="1.4"/>
<path d="M1163.7,1036.9v-3.5M1163.7,724.3v3.5M1227.5,1036.9v-3.5M1227.5,724.3v3.5M1291.3,1036.9v-3.5M1291.3,724.3v3.5M1355.1,1036.9v-3.5M1355.1,724.3v3.5M1099.9,974.4h3.5M1418.9,974.4h-3.5M1099.9,911.9h3.5M1418.9,911.9h-3.5M1099.9,849.3h3.5M1418.9,849.3h-3.5M1099.9,786.8h3.5M1418.9,786.8h-3.5" fill="none" stroke="#7a7a7a" stroke-width="1.1"/>
<text transform="translate(1350.4,753.0)" font-size="30.2" text-anchor="start">(c-4)</text>
<text transform="translate(1354.8,881.3) scale(1,1.07)" font-size="21.25" text-anchor="start"><tspan font-style="italic">Q</tspan>=0.5</text>
<text transform="translate(1354.8,959.5) scale(1,1.07)" font-size="21.25" text-anchor="start"><tspan font-style="italic">Q</tspan>=1.0</text>
<text transform="translate(1354.8,998.4) scale(1,1.07)" font-size="21.25" text-anchor="start"><tspan font-style="italic">Q</tspan>=1.5</text>
<text transform="translate(1354.8,1017.7) scale(1,1.07)" font-size="21.25" text-anchor="start"><tspan font-style="italic">Q</tspan>=2.0</text>
</g>
<g>
<clipPath id="cp24"><rect x="1431.8" y="724.3" width="319.0" height="312.6"/></clipPath>
<path d="M1431.8,724.3 L1435.0,727.6 L1438.2,730.8 L1441.4,734.0 L1444.6,737.1 L1447.8,740.2 L1451.0,743.3 L1454.2,746.4 L1457.4,749.4 L1460.6,752.4 L1463.8,755.3 L1466.9,758.3 L1470.1,761.2 L1473.3,764.0 L1476.5,766.9 L1479.7,769.7 L1482.9,772.5 L1486.1,775.2 L1489.3,777.9 L1492.5,780.6 L1495.6,783.3 L1498.8,785.9 L1502.0,788.5 L1505.2,791.1 L1508.4,793.7 L1511.6,796.2 L1514.8,798.7 L1518.0,801.2 L1521.2,803.6 L1524.4,806.1 L1527.5,808.5 L1530.7,810.9 L1533.9,813.2 L1537.1,815.5 L1540.3,817.8 L1543.5,820.1 L1546.7,822.4 L1549.9,824.6 L1553.1,826.8 L1556.3,829.0 L1559.4,831.2 L1562.6,833.3 L1565.8,835.4 L1569.0,837.5 L1572.2,839.6 L1575.4,841.6 L1578.6,843.7 L1581.8,845.7 L1585.0,847.7 L1588.2,849.6 L1591.3,851.6 L1594.5,853.5 L1597.7,855.4 L1600.9,857.3 L1604.1,859.2 L1607.3,861.0 L1610.5,862.9 L1613.7,864.7 L1616.9,866.5 L1620.1,868.2 L1623.2,870.0 L1626.4,871.7 L1629.6,873.4 L1632.8,875.1 L1636.0,876.8 L1639.2,878.5 L1642.4,880.1 L1645.6,881.8 L1648.8,883.4 L1652.0,885.0 L1655.1,886.6 L1658.3,888.1 L1661.5,889.7 L1664.7,891.2 L1667.9,892.7 L1671.1,894.2 L1674.3,895.7 L1677.5,897.2 L1680.7,898.6 L1683.9,900.1 L1687.0,901.5 L1690.2,902.9 L1693.4,904.3 L1696.6,905.7 L1699.8,907.0 L1703.0,908.4 L1706.2,909.7 L1709.4,911.0 L1712.6,912.4 L1715.8,913.6 L1718.9,914.9 L1722.1,916.2 L1725.3,917.5 L1728.5,918.7 L1731.7,919.9 L1734.9,921.1 L1738.1,922.3 L1741.3,923.5 L1744.5,924.7 L1747.7,925.9 L1750.8,927.0" fill="none" stroke="#242424" stroke-width="1.1"/>
<path d="M1431.8,724.3 L1435.0,730.8 L1438.2,737.1 L1441.4,743.3 L1444.6,749.4 L1447.8,755.3 L1451.0,761.2 L1454.2,766.9 L1457.4,772.5 L1460.6,777.9 L1463.8,783.3 L1466.9,788.5 L1470.1,793.7 L1473.3,798.7 L1476.5,803.6 L1479.7,808.5 L1482.9,813.2 L1486.1,817.8 L1489.3,822.4 L1492.5,826.8 L1495.6,831.2 L1498.8,835.4 L1502.0,839.6 L1505.2,843.7 L1508.4,847.7 L1511.6,851.6 L1514.8,855.4 L1518.0,859.2 L1521.2,862.9 L1524.4,866.5 L1527.5,870.0 L1530.7,873.4 L1533.9,876.8 L1537.1,880.1 L1540.3,883.4 L1543.5,886.6 L1546.7,889.7 L1549.9,892.7 L1553.1,895.7 L1556.3,898.6 L1559.4,901.5 L1562.6,904.3 L1565.8,907.0 L1569.0,909.7 L1572.2,912.4 L1575.4,914.9 L1578.6,917.5 L1581.8,919.9 L1585.0,922.3 L1588.2,924.7 L1591.3,927.0 L1594.5,929.3 L1597.7,931.5 L1600.9,933.7 L1604.1,935.9 L1607.3,937.9 L1610.5,940.0 L1613.7,942.0 L1616.9,944.0 L1620.1,945.9 L1623.2,947.8 L1626.4,949.6 L1629.6,951.4 L1632.8,953.2 L1636.0,954.9 L1639.2,956.6 L1642.4,958.3 L1645.6,959.9 L1648.8,961.5 L1652.0,963.1 L1655.1,964.6 L1658.3,966.1 L1661.5,967.6 L1664.7,969.0 L1667.9,970.4 L1671.1,971.8 L1674.3,973.1 L1677.5,974.4 L1680.7,975.7 L1683.9,977.0 L1687.0,978.2 L1690.2,979.5 L1693.4,980.6 L1696.6,981.8 L1699.8,982.9 L1703.0,984.1 L1706.2,985.2 L1709.4,986.2 L1712.6,987.3 L1715.8,988.3 L1718.9,989.3 L1722.1,990.3 L1725.3,991.3 L1728.5,992.2 L1731.7,993.1 L1734.9,994.0 L1738.1,994.9 L1741.3,995.8 L1744.5,996.6 L1747.7,997.5 L1750.8,998.3" fill="none" stroke="#242424" stroke-width="1.1"/>
<path d="M1431.8,724.3 L1435.0,734.0 L1438.2,743.3 L1441.4,752.4 L1444.6,761.2 L1447.8,769.7 L1451.0,777.9 L1454.2,785.9 L1457.4,793.7 L1460.6,801.2 L1463.8,808.5 L1466.9,815.5 L1470.1,822.4 L1473.3,829.0 L1476.5,835.4 L1479.7,841.6 L1482.9,847.7 L1486.1,853.5 L1489.3,859.2 L1492.5,864.7 L1495.6,870.0 L1498.8,875.1 L1502.0,880.1 L1505.2,885.0 L1508.4,889.7 L1511.6,894.2 L1514.8,898.6 L1518.0,902.9 L1521.2,907.0 L1524.4,911.0 L1527.5,914.9 L1530.7,918.7 L1533.9,922.3 L1537.1,925.9 L1540.3,929.3 L1543.5,932.6 L1546.7,935.9 L1549.9,939.0 L1553.1,942.0 L1556.3,944.9 L1559.4,947.8 L1562.6,950.5 L1565.8,953.2 L1569.0,955.8 L1572.2,958.3 L1575.4,960.7 L1578.6,963.1 L1581.8,965.3 L1585.0,967.6 L1588.2,969.7 L1591.3,971.8 L1594.5,973.8 L1597.7,975.7 L1600.9,977.6 L1604.1,979.5 L1607.3,981.2 L1610.5,982.9 L1613.7,984.6 L1616.9,986.2 L1620.1,987.8 L1623.2,989.3 L1626.4,990.8 L1629.6,992.2 L1632.8,993.6 L1636.0,994.9 L1639.2,996.2 L1642.4,997.5 L1645.6,998.7 L1648.8,999.9 L1652.0,1001.0 L1655.1,1002.1 L1658.3,1003.2 L1661.5,1004.2 L1664.7,1005.2 L1667.9,1006.2 L1671.1,1007.2 L1674.3,1008.1 L1677.5,1009.0 L1680.7,1009.8 L1683.9,1010.7 L1687.0,1011.5 L1690.2,1012.3 L1693.4,1013.0 L1696.6,1013.8 L1699.8,1014.5 L1703.0,1015.2 L1706.2,1015.8 L1709.4,1016.5 L1712.6,1017.1 L1715.8,1017.7 L1718.9,1018.3 L1722.1,1018.9 L1725.3,1019.5 L1728.5,1020.0 L1731.7,1020.5 L1734.9,1021.0 L1738.1,1021.5 L1741.3,1022.0 L1744.5,1022.5 L1747.7,1022.9 L1750.8,1023.3" fill="none" stroke="#242424" stroke-width="1.1"/>
<path d="M1431.8,724.3 L1435.0,737.1 L1438.2,749.4 L1441.4,761.2 L1444.6,772.5 L1447.8,783.3 L1451.0,793.7 L1454.2,803.6 L1457.4,813.2 L1460.6,822.4 L1463.8,831.2 L1466.9,839.6 L1470.1,847.7 L1473.3,855.4 L1476.5,862.9 L1479.7,870.0 L1482.9,876.8 L1486.1,883.4 L1489.3,889.7 L1492.5,895.7 L1495.6,901.5 L1498.8,907.0 L1502.0,912.4 L1505.2,917.5 L1508.4,922.3 L1511.6,927.0 L1514.8,931.5 L1518.0,935.9 L1521.2,940.0 L1524.4,944.0 L1527.5,947.8 L1530.7,951.4 L1533.9,954.9 L1537.1,958.3 L1540.3,961.5 L1543.5,964.6 L1546.7,967.6 L1549.9,970.4 L1553.1,973.1 L1556.3,975.7 L1559.4,978.2 L1562.6,980.6 L1565.8,982.9 L1569.0,985.2 L1572.2,987.3 L1575.4,989.3 L1578.6,991.3 L1581.8,993.1 L1585.0,994.9 L1588.2,996.6 L1591.3,998.3 L1594.5,999.9 L1597.7,1001.4 L1600.9,1002.8 L1604.1,1004.2 L1607.3,1005.6 L1610.5,1006.9 L1613.7,1008.1 L1616.9,1009.3 L1620.1,1010.4 L1623.2,1011.5 L1626.4,1012.5 L1629.6,1013.5 L1632.8,1014.5 L1636.0,1015.4 L1639.2,1016.3 L1642.4,1017.1 L1645.6,1017.9 L1648.8,1018.7 L1652.0,1019.5 L1655.1,1020.2 L1658.3,1020.9 L1661.5,1021.5 L1664.7,1022.1 L1667.9,1022.8 L1671.1,1023.3 L1674.3,1023.9 L1677.5,1024.4 L1680.7,1024.9 L1683.9,1025.4 L1687.0,1025.9 L1690.2,1026.3 L1693.4,1026.8 L1696.6,1027.2 L1699.8,1027.6 L1703.0,1028.0 L1706.2,1028.3 L1709.4,1028.7 L1712.6,1029.0 L1715.8,1029.3 L1718.9,1029.7 L1722.1,1030.0 L1725.3,1030.2 L1728.5,1030.5 L1731.7,1030.8 L1734.9,1031.0 L1738.1,1031.3 L1741.3,1031.5 L1744.5,1031.7 L1747.7,1031.9 L1750.8,1032.1" fill="none" stroke="#242424" stroke-width="1.1"/>
<g clip-path="url(#cp24)">
<path d="M1442.1,742.3V759.7M1439.5,742.3h5.3M1439.5,759.7h5.3M1436.5,737.4V751.0M1433.9,737.4h5.3M1433.9,751.0h5.3M1435.7,741.1V758.5M1433.0,741.1h5.3M1433.0,758.5h5.3M1436.9,744.8V762.2M1434.3,744.8h5.3M1434.3,762.2h5.3M1435.3,759.7V777.0M1432.6,759.7h5.3M1432.6,777.0h5.3M1439.6,762.2V779.5M1437.0,762.2h5.3M1437.0,779.5h5.3M1441.2,756.0V773.3M1438.6,756.0h5.3M1438.6,773.3h5.3M1438.8,768.4V785.7M1436.1,768.4h5.3M1436.1,785.7h5.3M1442.7,774.6V791.9M1440.1,774.6h5.3M1440.1,791.9h5.3M1435.3,779.5V796.9M1432.6,779.5h5.3M1432.6,796.9h5.3M1445.8,791.9V809.3M1443.2,791.9h5.3M1443.2,809.3h5.3M1441.9,779.5V796.9M1439.2,779.5h5.3M1439.2,796.9h5.3M1445.8,787.0V804.3M1443.2,787.0h5.3M1443.2,804.3h5.3M1446.4,803.1V820.4M1443.8,803.1h5.3M1443.8,820.4h5.3M1449.8,814.2V842.1M1447.1,814.2h5.3M1447.1,842.1h5.3M1451.4,741.7V762.8M1448.7,741.7h5.3M1448.7,762.8h5.3M1457.2,769.0V784.5M1454.6,769.0h5.3M1454.6,784.5h5.3M1455.1,779.5V795.6M1452.5,779.5h5.3M1452.5,795.6h5.3M1458.8,784.5V800.0M1456.2,784.5h5.3M1456.2,800.0h5.3M1460.4,811.7V829.1M1457.8,811.7h5.3M1457.8,829.1h5.3M1461.6,802.4V822.9M1458.9,802.4h5.3M1458.9,822.9h5.3M1460.4,820.4V840.2M1457.8,820.4h5.3M1457.8,840.2h5.3M1485.2,780.8V800.3M1482.6,780.8h5.3M1482.6,800.3h5.3M1500.3,796.6V822.3M1497.7,796.6h5.3M1497.7,822.3h5.3M1495.4,796.9V821.4M1492.7,796.9h5.3M1492.7,821.4h5.3M1512.7,816.4V842.7M1510.1,816.4h5.3M1510.1,842.7h5.3M1521.6,855.0V878.9M1518.9,855.0h5.3M1518.9,878.9h5.3M1530.8,846.5V881.2M1528.2,846.5h5.3M1528.2,881.2h5.3M1530.8,863.7V890.8M1528.2,863.7h5.3M1528.2,890.8h5.3M1547.1,825.0V855.3M1544.4,825.0h5.3M1544.4,855.3h5.3M1659.4,865.6V908.3M1656.7,865.6h5.3M1656.7,908.3h5.3M1662.9,883.2V922.7M1660.2,883.2h5.3M1660.2,922.7h5.3" fill="none" stroke="#1c1c1c" stroke-width="1.0"/>
<circle cx="1442.1" cy="751.0" r="5.15" fill="#f4e156" stroke="#0a0a0a" stroke-width="1.15"/>
<circle cx="1436.5" cy="744.2" r="5.15" fill="#f68013" stroke="#0a0a0a" stroke-width="1.15"/>
<circle cx="1435.7" cy="749.8" r="5.15" fill="#dd513a" stroke="#0a0a0a" stroke-width="1.15"/>
<circle cx="1436.9" cy="753.5" r="5.15" fill="#e25734" stroke="#0a0a0a" stroke-width="1.15"/>
<circle cx="1435.3" cy="768.4" r="5.15" fill="#e75e2e" stroke="#0a0a0a" stroke-width="1.15"/>
<circle cx="1439.6" cy="770.8" r="5.15" fill="#e25734" stroke="#0a0a0a" stroke-width="1.15"/>
<circle cx="1441.2" cy="764.6" r="5.15" fill="#dd513a" stroke="#0a0a0a" stroke-width="1.15"/>
<circle cx="1438.8" cy="777.0" r="5.15" fill="#eb6628" stroke="#0a0a0a" stroke-width="1.15"/>
<circle cx="1442.7" cy="783.9" r="5.15" fill="#f68013" stroke="#0a0a0a" stroke-width="1.15"/>
<circle cx="1435.3" cy="788.8" r="5.15" fill="#f37819" stroke="#0a0a0a" stroke-width="1.15"/>
<circle cx="1445.8" cy="800.6" r="5.15" fill="#9b2964" stroke="#0a0a0a" stroke-width="1.15"/>
<circle cx="1441.9" cy="788.2" r="5.15" fill="#ab2f5e" stroke="#0a0a0a" stroke-width="1.15"/>
<circle cx="1445.8" cy="795.9" r="5.15" fill="#f06f20" stroke="#0a0a0a" stroke-width="1.15"/>
<circle cx="1446.4" cy="811.7" r="5.15" fill="#d74b3f" stroke="#0a0a0a" stroke-width="1.15"/>
<circle cx="1449.8" cy="827.2" r="5.15" fill="#ba3655" stroke="#0a0a0a" stroke-width="1.15"/>
<circle cx="1451.4" cy="752.5" r="5.15" fill="#f2ea69" stroke="#0a0a0a" stroke-width="1.15"/>
<circle cx="1457.2" cy="776.7" r="5.15" fill="#fcae12" stroke="#0a0a0a" stroke-width="1.15"/>
<circle cx="1455.1" cy="787.6" r="5.15" fill="#fcae12" stroke="#0a0a0a" stroke-width="1.15"/>
<circle cx="1458.8" cy="792.5" r="5.15" fill="#fcae12" stroke="#0a0a0a" stroke-width="1.15"/>
<circle cx="1460.4" cy="820.2" r="5.15" fill="#9b2964" stroke="#0a0a0a" stroke-width="1.15"/>
<circle cx="1461.6" cy="812.7" r="5.15" fill="#f06f20" stroke="#0a0a0a" stroke-width="1.15"/>
<circle cx="1460.4" cy="830.6" r="5.15" fill="#ab2f5e" stroke="#0a0a0a" stroke-width="1.15"/>
<circle cx="1485.2" cy="790.7" r="5.15" fill="#fcae12" stroke="#0a0a0a" stroke-width="1.15"/>
<circle cx="1500.3" cy="809.6" r="5.15" fill="#fcae12" stroke="#0a0a0a" stroke-width="1.15"/>
<circle cx="1495.4" cy="809.3" r="5.15" fill="#fcae12" stroke="#0a0a0a" stroke-width="1.15"/>
<circle cx="1512.7" cy="829.7" r="5.15" fill="#fca50a" stroke="#0a0a0a" stroke-width="1.15"/>
<circle cx="1521.6" cy="866.9" r="5.15" fill="#dd513a" stroke="#0a0a0a" stroke-width="1.15"/>
<circle cx="1530.8" cy="864.2" r="5.15" fill="#f8890c" stroke="#0a0a0a" stroke-width="1.15"/>
<circle cx="1530.8" cy="876.8" r="5.15" fill="#eb6628" stroke="#0a0a0a" stroke-width="1.15"/>
<circle cx="1547.1" cy="840.3" r="5.15" fill="#fa9207" stroke="#0a0a0a" stroke-width="1.15"/>
<circle cx="1659.4" cy="887.1" r="5.15" fill="#e75e2e" stroke="#0a0a0a" stroke-width="1.15"/>
<circle cx="1662.9" cy="903.1" r="5.15" fill="#dd513a" stroke="#0a0a0a" stroke-width="1.15"/>
</g>
<rect x="1431.8" y="724.3" width="319.0" height="312.6" fill="none" stroke="#7a7a7a" stroke-width="1.4"/>
<path d="M1495.6,1036.9v-3.5M1495.6,724.3v3.5M1559.4,1036.9v-3.5M1559.4,724.3v3.5M1623.2,1036.9v-3.5M1623.2,724.3v3.5M1687.0,1036.9v-3.5M1687.0,724.3v3.5M1431.8,974.4h3.5M1750.8,974.4h-3.5M1431.8,911.9h3.5M1750.8,911.9h-3.5M1431.8,849.3h3.5M1750.8,849.3h-3.5M1431.8,786.8h3.5M1750.8,786.8h-3.5" fill="none" stroke="#7a7a7a" stroke-width="1.1"/>
<text transform="translate(1684.6,753.0)" font-size="30.2" text-anchor="start">(c-5)</text>
<text transform="translate(1686.8,901.5) scale(1,1.07)" font-size="21.25" text-anchor="start"><tspan font-style="italic">Q</tspan>=0.5</text>
<text transform="translate(1686.8,978.2) scale(1,1.07)" font-size="21.25" text-anchor="start"><tspan font-style="italic">Q</tspan>=1.0</text>
<text transform="translate(1686.8,1011.5) scale(1,1.07)" font-size="21.25" text-anchor="start"><tspan font-style="italic">Q</tspan>=1.5</text>
<text transform="translate(1686.8,1025.9) scale(1,1.07)" font-size="21.25" text-anchor="start"><tspan font-style="italic">Q</tspan>=2.0</text>
</g>
<text x="101.2" y="1045.8" font-size="25.5" text-anchor="end">0.0</text>
<text x="101.2" y="983.3" font-size="25.5" text-anchor="end">0.2</text>
<text x="101.2" y="920.8" font-size="25.5" text-anchor="end">0.4</text>
<text x="101.2" y="858.2" font-size="25.5" text-anchor="end">0.6</text>
<text x="101.2" y="795.7" font-size="25.5" text-anchor="end">0.8</text>
<text x="101.2" y="733.2" font-size="25.5" text-anchor="end">1.0</text>
<text x="104.2" y="1058.3" font-size="25.5" text-anchor="middle">0</text>
<text x="168.1" y="1058.3" font-size="25.5" text-anchor="middle">200</text>
<text x="231.9" y="1058.3" font-size="25.5" text-anchor="middle">400</text>
<text x="295.6" y="1058.3" font-size="25.5" text-anchor="middle">600</text>
<text x="359.5" y="1058.3" font-size="25.5" text-anchor="middle">800</text>
<text transform="translate(257.6,41.6) scale(1,1.03)" font-size="29.6" text-anchor="middle"><tspan font-style="italic">R</tspan> = 0.0 mm min<tspan font-size="20.5" dy="-10.5">-1</tspan></text>
<text x="436.1" y="1058.3" font-size="25.5" text-anchor="middle">0</text>
<text x="499.9" y="1058.3" font-size="25.5" text-anchor="middle">200</text>
<text x="563.8" y="1058.3" font-size="25.5" text-anchor="middle">400</text>
<text x="627.5" y="1058.3" font-size="25.5" text-anchor="middle">600</text>
<text x="691.4" y="1058.3" font-size="25.5" text-anchor="middle">800</text>
<text transform="translate(591.8,41.6) scale(1,1.03)" font-size="29.6" text-anchor="middle"><tspan font-style="italic">R</tspan> = 0.2 mm min<tspan font-size="20.5" dy="-10.5">-1</tspan></text>
<text x="768.0" y="1058.3" font-size="25.5" text-anchor="middle">0</text>
<text x="831.8" y="1058.3" font-size="25.5" text-anchor="middle">200</text>
<text x="895.6" y="1058.3" font-size="25.5" text-anchor="middle">400</text>
<text x="959.4" y="1058.3" font-size="25.5" text-anchor="middle">600</text>
<text x="1023.2" y="1058.3" font-size="25.5" text-anchor="middle">800</text>
<text transform="translate(928.2,41.6) scale(1,1.03)" font-size="29.6" text-anchor="middle"><tspan font-style="italic">R</tspan> = 0.4 mm min<tspan font-size="20.5" dy="-10.5">-1</tspan></text>
<text x="1099.9" y="1058.3" font-size="25.5" text-anchor="middle">0</text>
<text x="1163.7" y="1058.3" font-size="25.5" text-anchor="middle">200</text>
<text x="1227.5" y="1058.3" font-size="25.5" text-anchor="middle">400</text>
<text x="1291.3" y="1058.3" font-size="25.5" text-anchor="middle">600</text>
<text x="1355.1" y="1058.3" font-size="25.5" text-anchor="middle">800</text>
<text transform="translate(1264.2,41.6) scale(1,1.03)" font-size="29.6" text-anchor="middle"><tspan font-style="italic">R</tspan> = 0.6 mm min<tspan font-size="20.5" dy="-10.5">-1</tspan></text>
<text x="1431.8" y="1058.3" font-size="25.5" text-anchor="middle">0</text>
<text x="1495.6" y="1058.3" font-size="25.5" text-anchor="middle">200</text>
<text x="1559.4" y="1058.3" font-size="25.5" text-anchor="middle">400</text>
<text x="1623.2" y="1058.3" font-size="25.5" text-anchor="middle">600</text>
<text x="1687.0" y="1058.3" font-size="25.5" text-anchor="middle">800</text>
<text transform="translate(1598.2,41.6) scale(1,1.03)" font-size="29.6" text-anchor="middle"><tspan font-style="italic">R</tspan> = 0.8 mm min<tspan font-size="20.5" dy="-10.5">-1</tspan></text>
<text transform="translate(943.6,1102.8) scale(1,1.04)" font-size="34.7" text-anchor="middle">Scene depth <tspan font-style="italic">d</tspan> (m)</text>
<text transform="translate(45.4,558.4) rotate(-90)" font-size="35.9" text-anchor="middle">Transmission <tspan font-style="italic">t</tspan></text>
<defs><linearGradient id="cb" x1="0" y1="0" x2="0" y2="1"><stop offset="0.0000" stop-color="#000004"/><stop offset="0.0156" stop-color="#010108"/><stop offset="0.0312" stop-color="#030210"/><stop offset="0.0469" stop-color="#060419"/><stop offset="0.0625" stop-color="#0a0722"/><stop offset="0.0781" stop-color="#0e092b"/><stop offset="0.0938" stop-color="#140b34"/><stop offset="0.1094" stop-color="#190c3e"/><stop offset="0.1250" stop-color="#1f0c48"/><stop offset="0.1406" stop-color="#260c51"/><stop offset="0.1562" stop-color="#2d0b59"/><stop offset="0.1719" stop-color="#340a5f"/><stop offset="0.1875" stop-color="#3b0964"/><stop offset="0.2031" stop-color="#420a68"/><stop offset="0.2188" stop-color="#490b6a"/><stop offset="0.2344" stop-color="#4f0d6c"/><stop offset="0.2500" stop-color="#550f6d"/><stop offset="0.2656" stop-color="#5c126e"/><stop offset="0.2812" stop-color="#62146e"/><stop offset="0.2969" stop-color="#69166e"/><stop offset="0.3125" stop-color="#6f196e"/><stop offset="0.3281" stop-color="#751b6e"/><stop offset="0.3438" stop-color="#7c1d6d"/><stop offset="0.3594" stop-color="#82206c"/><stop offset="0.3750" stop-color="#88226a"/><stop offset="0.3906" stop-color="#8f2469"/><stop offset="0.4062" stop-color="#952667"/><stop offset="0.4219" stop-color="#9b2964"/><stop offset="0.4375" stop-color="#a22b62"/><stop offset="0.4531" stop-color="#a82e5f"/><stop offset="0.4688" stop-color="#ae305c"/><stop offset="0.4844" stop-color="#b43359"/><stop offset="0.5000" stop-color="#ba3655"/><stop offset="0.5156" stop-color="#c03a51"/><stop offset="0.5312" stop-color="#c63d4d"/><stop offset="0.5469" stop-color="#cb4149"/><stop offset="0.5625" stop-color="#d04545"/><stop offset="0.5781" stop-color="#d54a41"/><stop offset="0.5938" stop-color="#da4e3c"/><stop offset="0.6094" stop-color="#df5337"/><stop offset="0.6250" stop-color="#e35933"/><stop offset="0.6406" stop-color="#e75e2e"/><stop offset="0.6562" stop-color="#eb6429"/><stop offset="0.6719" stop-color="#ee6a24"/><stop offset="0.6875" stop-color="#f1711f"/><stop offset="0.7031" stop-color="#f37819"/><stop offset="0.7188" stop-color="#f67e14"/><stop offset="0.7344" stop-color="#f8850f"/><stop offset="0.7500" stop-color="#f98c0a"/><stop offset="0.7656" stop-color="#fa9407"/><stop offset="0.7812" stop-color="#fb9b06"/><stop offset="0.7969" stop-color="#fca309"/><stop offset="0.8125" stop-color="#fcaa0f"/><stop offset="0.8281" stop-color="#fcb216"/><stop offset="0.8438" stop-color="#fbba1f"/><stop offset="0.8594" stop-color="#fac228"/><stop offset="0.8750" stop-color="#f9c932"/><stop offset="0.8906" stop-color="#f7d13d"/><stop offset="0.9062" stop-color="#f5d949"/><stop offset="0.9219" stop-color="#f4e156"/><stop offset="0.9375" stop-color="#f2e865"/><stop offset="0.9531" stop-color="#f1ef75"/><stop offset="0.9688" stop-color="#f3f586"/><stop offset="0.9844" stop-color="#f6fa96"/><stop offset="1.0000" stop-color="#fcffa4"/></linearGradient></defs>
<rect x="1772.8" y="58.0" width="16.6" height="297.0" fill="url(#cb)" stroke="#666" stroke-width="0.8"/>
<path d="M1789.4,355.0h3" stroke="#666" stroke-width="1"/>
<text x="1795" y="363.7" font-size="25.5">0.0</text>
<path d="M1789.4,295.6h3" stroke="#666" stroke-width="1"/>
<text x="1795" y="304.3" font-size="25.5">0.1</text>
<path d="M1789.4,236.2h3" stroke="#666" stroke-width="1"/>
<text x="1795" y="244.9" font-size="25.5">0.2</text>
<path d="M1789.4,176.8h3" stroke="#666" stroke-width="1"/>
<text x="1795" y="185.5" font-size="25.5">0.3</text>
<path d="M1789.4,117.4h3" stroke="#666" stroke-width="1"/>
<text x="1795" y="126.1" font-size="25.5">0.4</text>
<path d="M1789.4,58.0h3" stroke="#666" stroke-width="1"/>
<text x="1795" y="66.7" font-size="25.5">0.5</text>
<text transform="translate(1875.0,204.5) rotate(-90) scale(1,1.07)" font-size="33.8" text-anchor="middle" font-style="italic">J<tspan font-style="normal">/</tspan>A</text>
</svg>
</body></html>
